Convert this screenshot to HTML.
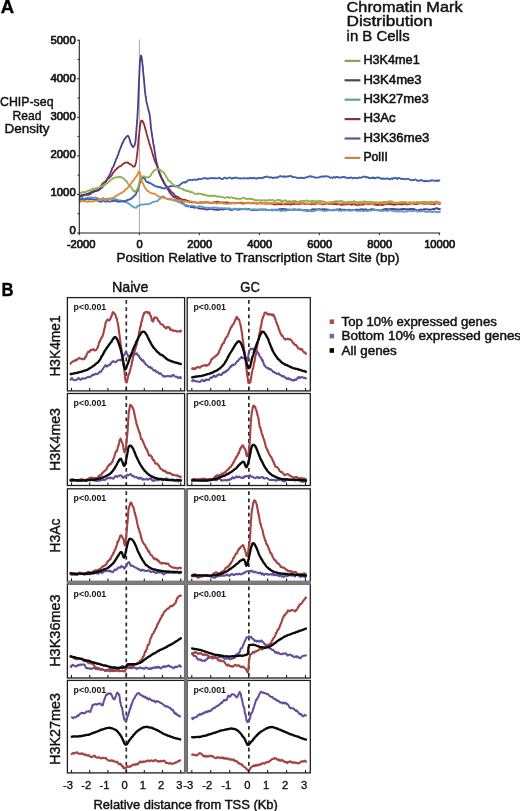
<!DOCTYPE html>
<html><head><meta charset="utf-8"><title>Chromatin marks</title>
<style>
html,body{margin:0;padding:0;background:#fff;}
body{width:520px;height:811px;overflow:hidden;position:relative;font-family:"Liberation Sans",sans-serif;}
</style></head><body>
<svg width="520" height="811" viewBox="0 0 520 811" style="position:absolute;left:0;top:0;filter:blur(0.3px)">
<rect width="520" height="811" fill="#fff"/>
<g font-family="Liberation Sans, sans-serif">
<text x="0.80" y="12.80" font-size="17.60" font-weight="bold" text-anchor="start" fill="#000" textLength="13.4" lengthAdjust="spacingAndGlyphs" stroke="#000" stroke-width="0.35" >A</text>
<text x="1.60" y="296.20" font-size="17.80" font-weight="bold" text-anchor="start" fill="#000" textLength="12.0" lengthAdjust="spacingAndGlyphs" stroke="#000" stroke-width="0.35" >B</text>
<line x1="139.4" y1="39.5" x2="139.4" y2="233" stroke="#a8a8a8" stroke-width="1"/>
<path d="M80.00 196.79 L80.33 196.69 L80.74 196.37 L81.20 196.04 L81.73 196.31 L82.30 195.92 L82.91 195.70 L83.55 195.28 L84.22 195.10 L84.91 194.72 L85.60 194.79 L86.29 194.73 L86.97 194.80 L87.64 194.72 L88.29 194.79 L88.90 194.66 L89.47 194.18 L90.00 194.23 L90.69 193.83 L91.36 193.17 L91.99 192.56 L92.60 192.36 L93.20 191.98 L93.77 191.86 L94.33 191.53 L94.87 191.12 L95.41 190.93 L95.94 191.11 L96.47 190.56 L97.00 190.35 L97.45 190.25 L97.89 189.66 L98.33 189.29 L98.76 189.15 L99.19 188.49 L99.61 188.34 L100.02 188.11 L100.42 187.16 L100.82 186.34 L101.21 186.16 L101.59 185.32 L101.97 184.58 L102.34 183.85 L102.70 183.60 L103.24 182.93 L103.76 182.51 L104.26 182.05 L104.73 182.01 L105.20 181.89 L105.66 181.09 L106.10 180.45 L106.55 180.28 L107.00 179.68 L107.43 179.13 L107.82 178.79 L108.20 178.58 L108.56 178.43 L108.94 178.31 L109.34 177.47 L109.77 177.24 L110.25 176.98 L110.80 176.24 L111.14 175.98 L111.51 175.55 L111.90 175.05 L112.30 174.15 L112.72 173.46 L113.16 172.72 L113.60 172.16 L114.05 171.53 L114.50 171.09 L114.96 170.49 L115.40 169.68 L115.85 169.37 L116.28 169.38 L116.70 168.75 L117.11 168.03 L117.50 168.08 L118.05 167.57 L118.58 167.09 L119.10 166.44 L119.62 166.42 L120.12 166.28 L120.61 166.17 L121.09 165.97 L121.56 165.30 L122.02 164.81 L122.47 164.13 L122.90 164.07 L123.54 163.66 L124.14 163.32 L124.71 162.94 L125.25 162.82 L125.79 162.56 L126.34 162.61 L126.90 162.60 L127.41 162.33 L127.93 162.47 L128.45 163.20 L128.97 163.28 L129.49 164.11 L130.00 164.23 L130.51 164.39 L131.00 164.60 L131.66 165.14 L132.31 165.68 L132.96 166.51 L133.59 166.74 L134.17 166.46 L134.70 166.36 L134.86 166.38 L135.02 165.59 L135.17 164.93 L135.31 164.43 L135.45 163.75 L135.58 163.71 L135.71 163.06 L135.83 162.82 L135.96 162.53 L136.08 161.65 L136.19 160.57 L136.31 160.27 L136.42 159.70 L136.54 158.98 L136.65 158.39 L136.77 157.12 L136.88 156.18 L137.00 155.69 L137.07 154.88 L137.13 154.71 L137.20 154.04 L137.26 153.86 L137.33 153.22 L137.39 152.35 L137.45 152.03 L137.52 151.18 L137.58 150.48 L137.65 149.82 L137.71 149.03 L137.77 148.11 L137.84 147.36 L137.90 146.39 L137.96 145.76 L138.03 145.48 L138.09 144.53 L138.15 143.91 L138.21 142.99 L138.27 142.73 L138.33 141.71 L138.39 141.16 L138.45 140.64 L138.51 139.68 L138.56 138.84 L138.62 138.08 L138.68 137.85 L138.73 137.08 L138.79 136.33 L138.84 136.35 L138.90 136.11 L138.95 136.00 L139.00 135.11 L139.09 134.44 L139.18 133.62 L139.27 133.16 L139.35 132.49 L139.43 131.96 L139.50 131.30 L139.58 130.26 L139.65 129.67 L139.73 128.85 L139.80 128.12 L139.87 127.26 L139.94 126.86 L140.01 126.13 L140.09 125.42 L140.16 124.81 L140.24 124.40 L140.32 124.34 L140.40 124.27 L140.61 122.95 L140.82 121.77 L141.03 121.42 L141.25 120.86 L141.48 120.74 L141.73 120.87 L142.00 120.56 L142.23 120.67 L142.47 120.88 L142.73 121.46 L143.00 122.32 L143.27 122.63 L143.55 123.02 L143.83 123.66 L144.12 124.54 L144.40 125.38 L144.56 125.97 L144.71 126.46 L144.87 127.18 L145.02 128.04 L145.18 128.21 L145.33 128.96 L145.49 129.13 L145.65 129.88 L145.81 130.35 L145.98 130.64 L146.15 131.61 L146.33 132.38 L146.51 133.19 L146.70 133.72 L146.89 134.75 L147.10 135.34 L147.25 136.16 L147.40 136.52 L147.56 136.92 L147.72 137.42 L147.88 138.14 L148.05 139.02 L148.22 139.55 L148.39 139.78 L148.57 140.10 L148.74 140.92 L148.92 141.82 L149.10 142.67 L149.28 143.37 L149.47 144.15 L149.65 144.56 L149.83 144.95 L150.02 145.40 L150.20 145.93 L150.38 146.59 L150.56 146.90 L150.74 147.84 L150.92 148.34 L151.10 148.88 L151.28 149.07 L151.45 149.65 L151.63 149.97 L151.81 150.99 L151.99 151.75 L152.16 152.25 L152.34 152.98 L152.52 153.62 L152.70 153.85 L152.88 154.71 L153.06 155.41 L153.24 156.11 L153.42 156.63 L153.60 157.05 L153.78 157.56 L153.96 157.90 L154.14 158.92 L154.31 159.27 L154.49 160.08 L154.67 160.24 L154.85 160.99 L155.02 161.15 L155.20 161.65 L155.44 162.33 L155.67 162.68 L155.91 163.27 L156.15 163.86 L156.38 164.24 L156.62 165.08 L156.85 165.70 L157.08 166.07 L157.32 166.85 L157.55 167.29 L157.78 167.77 L158.02 168.25 L158.25 169.08 L158.49 169.30 L158.73 170.13 L158.96 170.67 L159.20 171.67 L159.44 172.12 L159.68 173.06 L159.92 173.59 L160.17 174.02 L160.41 174.61 L160.66 175.41 L160.90 175.67 L161.15 176.63 L161.39 177.42 L161.64 177.94 L161.88 178.28 L162.12 179.01 L162.36 179.28 L162.60 179.36 L162.84 179.80 L163.07 180.49 L163.30 180.71 L163.65 181.42 L163.98 182.47 L164.30 183.28 L164.62 184.06 L164.94 184.12 L165.25 184.89 L165.58 185.44 L165.91 185.84 L166.25 186.31 L166.62 186.39 L167.00 186.57 L167.37 187.36 L167.75 187.68 L168.14 187.92 L168.53 188.35 L168.94 188.96 L169.36 189.49 L169.78 189.79 L170.21 190.40 L170.65 191.04 L171.09 191.37 L171.54 192.33 L172.00 192.46 L172.46 192.57 L172.92 193.02 L173.38 193.24 L173.85 194.03 L174.33 194.76 L174.81 195.53 L175.31 195.96 L175.81 196.35 L176.34 196.37 L176.87 196.49 L177.43 196.66 L178.00 196.93 L178.50 197.66 L178.99 197.90 L179.47 198.02 L179.97 198.30 L180.46 198.85 L180.97 198.92 L181.50 199.50 L182.05 199.54 L182.62 199.87 L183.22 199.71 L183.85 199.82 L184.52 199.78 L185.24 199.81 L186.00 200.20 L186.46 200.42 L186.88 200.69 L187.26 201.01 L187.63 201.27 L187.98 200.95 L188.32 200.85 L188.66 201.31 L189.01 201.62 L189.37 201.83 L189.75 201.70 L190.16 202.01 L190.60 201.80 L191.09 201.79 L191.63 202.19 L192.23 202.29 L192.89 202.13 L193.63 202.37 L194.45 202.04 L195.35 202.33 L196.35 202.59 L197.46 202.78 L198.67 202.85 L200.00 202.41 L200.39 202.57 L200.79 202.35 L201.19 202.47 L201.60 202.78 L202.02 202.32 L202.45 202.31 L202.88 202.54 L203.32 202.63 L203.77 202.71 L204.22 202.58 L204.68 202.23 L205.15 202.23 L205.62 202.48 L206.10 202.11 L206.59 202.19 L207.08 202.16 L207.58 202.39 L208.08 202.67 L208.59 202.47 L209.11 202.36 L209.63 202.75 L210.16 203.07 L210.69 202.84 L211.23 202.84 L211.78 203.16 L212.33 202.84 L212.89 202.63 L213.45 202.52 L214.01 202.20 L214.59 201.92 L215.16 202.25 L215.74 202.06 L216.33 201.80 L216.92 201.77 L217.52 201.67 L218.12 201.94 L218.72 202.13 L219.33 202.52 L219.95 202.51 L220.56 202.46 L221.19 202.47 L221.81 202.52 L222.44 202.42 L223.08 202.39 L223.72 202.79 L224.36 202.53 L225.00 202.63 L225.65 202.48 L226.31 202.42 L226.96 202.45 L227.62 202.42 L228.29 202.65 L228.95 203.05 L229.62 203.02 L230.29 203.32 L230.97 203.36 L231.65 203.12 L232.33 203.02 L233.01 203.14 L233.70 203.03 L234.39 203.28 L235.08 203.50 L235.77 203.04 L236.47 203.17 L237.16 202.78 L237.86 203.15 L238.57 203.05 L239.27 202.80 L239.97 202.93 L240.68 203.08 L241.39 203.04 L242.10 203.33 L242.81 203.61 L243.53 203.64 L244.24 203.34 L244.96 202.95 L245.68 203.11 L246.39 203.23 L247.11 202.93 L247.83 202.84 L248.56 202.66 L249.28 202.92 L250.00 203.27 L250.52 203.29 L251.03 203.25 L251.55 203.07 L252.06 202.88 L252.58 202.91 L253.09 203.39 L253.61 203.14 L254.12 202.91 L254.63 203.34 L255.14 203.33 L255.66 203.29 L256.17 203.53 L256.68 203.64 L257.19 203.55 L257.71 203.55 L258.22 203.41 L258.73 203.27 L259.25 202.94 L259.76 203.07 L260.27 202.89 L260.79 203.40 L261.30 203.64 L261.82 203.38 L262.33 203.22 L262.85 203.11 L263.37 203.34 L263.88 203.40 L264.40 203.34 L264.92 203.56 L265.44 203.55 L265.96 203.86 L266.49 203.56 L267.01 203.25 L267.53 203.58 L268.06 203.56 L268.59 203.70 L269.12 203.36 L269.65 203.31 L270.18 203.71 L270.71 203.69 L271.24 203.32 L271.78 203.77 L272.32 203.69 L272.86 203.95 L273.40 204.27 L273.94 204.39 L274.49 204.23 L275.03 204.40 L275.58 204.04 L276.13 204.27 L276.69 204.43 L277.24 204.12 L277.80 203.98 L278.36 204.13 L278.92 203.95 L279.49 203.88 L280.06 204.17 L280.62 204.32 L281.20 204.49 L281.77 204.40 L282.35 203.89 L282.93 203.94 L283.51 204.04 L284.10 204.11 L284.69 204.18 L285.28 204.49 L285.88 204.22 L286.48 204.11 L287.08 204.06 L287.68 203.98 L288.29 204.13 L288.90 203.94 L289.52 204.21 L290.14 204.51 L290.76 204.51 L291.38 204.36 L292.01 204.03 L292.64 203.64 L293.28 203.90 L293.92 204.21 L294.57 203.78 L295.21 203.49 L295.87 203.97 L296.52 203.90 L297.18 203.82 L297.85 204.23 L298.52 204.38 L299.19 203.90 L299.87 203.81 L300.55 203.51 L301.23 203.62 L301.92 203.63 L302.62 203.53 L303.32 203.67 L304.02 203.66 L304.73 204.09 L305.45 204.06 L306.17 203.69 L306.89 203.63 L307.62 203.50 L308.35 203.95 L309.09 203.85 L309.83 203.86 L310.58 204.13 L311.34 204.13 L312.10 204.04 L312.86 203.86 L313.63 203.73 L314.41 203.99 L315.19 204.09 L315.98 203.68 L316.77 203.43 L317.57 203.45 L318.37 203.45 L319.18 203.32 L320.00 203.68 L320.48 203.68 L320.96 203.37 L321.45 203.85 L321.94 204.24 L322.44 204.15 L322.95 204.36 L323.46 204.00 L323.97 204.35 L324.49 203.97 L325.01 204.14 L325.54 203.84 L326.08 203.63 L326.62 203.60 L327.16 203.44 L327.71 203.39 L328.26 203.83 L328.82 203.72 L329.38 203.74 L329.94 203.75 L330.52 203.83 L331.09 203.70 L331.67 203.97 L332.25 203.90 L332.84 204.17 L333.43 204.22 L334.02 204.14 L334.62 203.96 L335.22 204.07 L335.83 204.07 L336.44 204.42 L337.05 203.97 L337.67 203.83 L338.29 203.90 L338.91 204.04 L339.54 204.30 L340.17 204.51 L340.80 204.80 L341.44 204.58 L342.08 204.79 L342.72 204.35 L343.37 204.60 L344.01 204.46 L344.66 204.56 L345.32 204.48 L345.98 204.24 L346.63 204.14 L347.30 204.25 L347.96 204.04 L348.63 203.90 L349.30 203.83 L349.97 204.26 L350.64 204.37 L351.32 204.62 L352.00 204.76 L352.68 204.33 L353.36 204.01 L354.04 204.15 L354.73 204.44 L355.42 204.57 L356.10 204.76 L356.80 205.00 L357.49 204.97 L358.18 204.88 L358.88 204.83 L359.58 204.96 L360.27 204.62 L360.97 204.33 L361.68 204.50 L362.38 204.55 L363.08 204.65 L363.78 204.26 L364.49 204.06 L365.20 203.71 L365.90 203.58 L366.61 203.61 L367.32 203.92 L368.03 204.09 L368.74 204.43 L369.45 204.18 L370.16 204.03 L370.87 204.12 L371.58 203.74 L372.29 203.91 L373.01 204.13 L373.72 204.44 L374.43 204.56 L375.14 204.44 L375.86 204.68 L376.57 204.89 L377.28 204.97 L377.99 205.19 L378.70 204.88 L379.41 204.47 L380.12 204.66 L380.83 204.59 L381.54 204.83 L382.25 204.91 L382.96 205.05 L383.67 204.86 L384.38 204.33 L385.08 204.09 L385.79 204.23 L386.49 204.15 L387.19 204.09 L387.89 204.17 L388.59 203.96 L389.29 203.84 L389.99 203.86 L390.69 204.15 L391.38 204.27 L392.08 204.30 L392.77 204.34 L393.46 204.65 L394.15 204.93 L394.83 204.75 L395.52 204.42 L396.20 204.17 L396.88 204.01 L397.56 204.21 L398.24 204.21 L398.91 204.35 L399.59 204.07 L400.26 204.07 L400.93 204.43 L401.59 204.64 L402.26 204.49 L402.92 204.17 L403.57 203.86 L404.23 203.64 L404.88 203.74 L405.53 204.16 L406.18 204.42 L406.82 204.37 L407.46 204.46 L408.10 204.29 L408.74 204.34 L409.37 203.97 L410.00 203.80 L410.62 203.59 L411.25 203.46 L411.86 203.39 L412.48 203.59 L413.09 203.55 L413.70 204.03 L414.30 204.10 L414.90 204.10 L415.50 204.04 L416.09 204.13 L416.68 204.23 L417.27 203.86 L417.85 203.63 L418.42 203.63 L419.00 203.48 L419.56 203.52 L420.13 203.29 L420.69 203.21 L421.24 203.03 L421.79 203.52 L422.34 203.46 L422.88 203.77 L423.42 203.55 L423.95 203.62 L424.48 203.74 L425.00 203.75 L425.51 203.49 L426.03 203.63 L426.53 203.40 L427.04 203.44 L427.53 203.71 L428.02 203.55 L428.51 203.65 L428.99 203.47 L429.47 203.62 L429.94 203.97 L430.40 203.85 L430.86 204.05 L431.31 204.04 L431.76 203.80 L432.20 203.59 L432.63 203.60 L433.06 204.03 L433.49 203.97 L433.90 203.91 L434.32 203.74 L434.72 204.12 L435.12 204.01 L435.51 203.66 L435.90 203.42 L436.28 203.19 L436.65 203.15 L437.01 203.19 L437.37 203.21 L437.73 203.02 L438.07 203.31 L438.41 203.57 L438.74 203.89 L439.07 203.63 L439.39 204.08 L439.70 203.82 L440.00 203.56" fill="none" stroke="#8e2c2f" stroke-width="1.8" stroke-linejoin="round" stroke-linecap="round"/>
<path d="M80.00 195.62 L80.36 195.84 L80.80 195.57 L81.32 195.17 L81.90 195.27 L82.54 195.31 L83.21 194.80 L83.92 194.59 L84.63 194.91 L85.35 194.35 L86.06 194.47 L86.74 194.00 L87.40 193.75 L88.00 193.60 L88.62 193.17 L89.24 193.42 L89.84 193.05 L90.44 192.61 L91.04 192.17 L91.62 191.89 L92.20 191.56 L92.78 191.62 L93.34 191.29 L93.90 190.78 L94.45 191.09 L95.00 191.15 L95.59 191.24 L96.19 190.91 L96.78 190.72 L97.36 190.53 L97.94 190.48 L98.50 190.42 L99.04 189.95 L99.57 189.57 L100.07 188.97 L100.55 188.62 L101.00 188.50 L101.56 188.19 L102.05 187.64 L102.50 186.81 L102.91 186.59 L103.30 185.92 L103.68 185.73 L104.08 184.94 L104.50 184.50 L104.77 184.21 L105.03 183.78 L105.30 183.26 L105.56 182.44 L105.82 181.59 L106.09 181.20 L106.35 180.68 L106.62 180.58 L106.89 180.14 L107.16 179.47 L107.43 178.45 L107.71 178.03 L108.00 177.43 L108.25 176.93 L108.51 176.75 L108.76 176.42 L109.03 176.02 L109.29 175.39 L109.55 175.00 L109.82 174.64 L110.09 174.26 L110.36 173.41 L110.63 172.64 L110.91 171.55 L111.18 171.28 L111.45 170.36 L111.73 169.86 L112.00 168.84 L112.24 168.06 L112.49 167.70 L112.73 167.58 L112.98 167.38 L113.23 167.03 L113.48 166.21 L113.73 165.85 L113.98 165.18 L114.22 164.42 L114.47 164.00 L114.72 163.09 L114.97 162.27 L115.22 161.90 L115.47 161.08 L115.71 160.60 L115.96 159.72 L116.20 158.96 L116.42 158.67 L116.63 158.48 L116.85 157.94 L117.07 157.67 L117.28 156.73 L117.50 156.07 L117.71 155.74 L117.93 154.95 L118.14 154.50 L118.36 154.06 L118.57 153.50 L118.78 152.51 L118.99 151.83 L119.20 151.26 L119.40 150.84 L119.60 149.89 L119.81 149.67 L120.00 149.30 L120.20 149.13 L120.48 148.03 L120.76 147.33 L121.03 146.72 L121.29 146.31 L121.56 145.33 L121.82 144.57 L122.07 143.88 L122.33 143.60 L122.58 142.76 L122.83 142.26 L123.09 142.20 L123.34 141.31 L123.60 140.95 L123.98 140.01 L124.37 139.59 L124.76 138.71 L125.14 138.44 L125.53 138.05 L125.90 137.37 L126.26 136.96 L126.59 136.47 L126.90 136.21 L127.64 135.90 L128.23 135.86 L128.90 137.07 L129.09 137.52 L129.28 138.39 L129.49 139.12 L129.70 139.57 L129.92 140.50 L130.14 140.97 L130.36 141.96 L130.58 142.85 L130.80 143.39 L131.01 144.03 L131.22 144.29 L131.41 144.90 L131.60 144.96 L132.16 146.09 L132.66 146.85 L133.14 146.98 L133.60 146.54 L133.83 146.49 L134.06 146.16 L134.29 145.72 L134.51 145.15 L134.73 144.73 L134.93 144.22 L135.12 143.20 L135.30 142.42 L135.38 141.49 L135.45 141.27 L135.51 140.51 L135.57 140.34 L135.63 140.11 L135.69 139.29 L135.74 138.28 L135.79 138.06 L135.84 137.69 L135.89 136.95 L135.95 136.00 L136.00 135.00 L136.05 134.58 L136.11 133.42 L136.17 132.60 L136.23 132.16 L136.30 131.51 L136.34 130.85 L136.38 130.47 L136.42 129.81 L136.46 129.64 L136.50 129.02 L136.54 128.74 L136.59 127.81 L136.63 127.39 L136.67 126.83 L136.72 126.35 L136.76 125.58 L136.81 124.83 L136.85 124.39 L136.90 123.86 L136.95 123.06 L136.99 122.42 L137.04 122.03 L137.09 121.60 L137.13 120.57 L137.18 120.27 L137.23 119.61 L137.27 119.06 L137.32 117.97 L137.36 117.15 L137.41 116.63 L137.45 115.60 L137.49 115.29 L137.54 114.37 L137.58 113.88 L137.62 112.98 L137.66 112.24 L137.70 111.53 L137.73 110.98 L137.76 110.21 L137.79 109.92 L137.81 109.12 L137.84 108.41 L137.87 108.26 L137.90 107.87 L137.92 107.07 L137.95 106.28 L137.98 105.64 L138.01 105.26 L138.03 104.94 L138.06 104.64 L138.08 103.94 L138.11 103.18 L138.14 102.48 L138.16 101.51 L138.19 101.30 L138.21 100.80 L138.24 100.37 L138.26 99.36 L138.29 99.01 L138.31 98.62 L138.34 97.91 L138.36 96.99 L138.39 96.06 L138.41 95.10 L138.44 94.38 L138.46 93.95 L138.48 93.32 L138.51 92.73 L138.53 92.15 L138.56 91.95 L138.58 91.51 L138.61 90.51 L138.63 89.82 L138.65 89.13 L138.68 88.40 L138.70 88.17 L138.73 87.75 L138.75 87.39 L138.78 86.71 L138.80 86.17 L138.83 85.74 L138.86 84.85 L138.89 84.38 L138.92 83.79 L138.95 82.70 L138.98 82.08 L139.00 81.31 L139.03 81.00 L139.06 80.21 L139.09 79.36 L139.12 79.02 L139.15 78.68 L139.17 78.27 L139.20 77.71 L139.23 76.54 L139.26 76.11 L139.29 75.48 L139.31 75.03 L139.34 74.53 L139.37 73.60 L139.40 73.16 L139.43 72.63 L139.45 71.73 L139.48 71.15 L139.51 70.38 L139.54 69.93 L139.57 69.20 L139.60 68.29 L139.62 67.75 L139.65 67.56 L139.68 66.87 L139.71 65.99 L139.74 65.64 L139.77 64.87 L139.80 64.40 L139.87 63.15 L139.95 62.26 L140.02 61.40 L140.10 60.61 L140.17 59.90 L140.25 59.31 L140.33 58.81 L140.40 58.41 L140.48 58.14 L140.56 57.79 L140.64 57.01 L140.73 57.00 L140.81 56.34 L140.90 55.82 L141.01 55.55 L141.13 55.83 L141.25 55.96 L141.37 56.26 L141.50 56.61 L141.63 57.56 L141.76 58.34 L141.89 59.16 L142.02 60.36 L142.16 61.15 L142.30 62.36 L142.35 63.16 L142.41 63.56 L142.46 64.47 L142.52 64.74 L142.57 64.95 L142.63 65.30 L142.69 66.24 L142.74 66.99 L142.80 67.44 L142.86 67.87 L142.92 68.94 L142.98 69.21 L143.04 70.18 L143.10 70.58 L143.15 71.41 L143.21 72.32 L143.27 72.79 L143.33 73.29 L143.39 73.96 L143.46 74.61 L143.52 75.53 L143.58 75.77 L143.64 76.23 L143.70 77.00 L143.76 77.72 L143.82 78.30 L143.88 78.58 L143.94 79.61 L144.00 80.21 L144.06 81.00 L144.13 81.86 L144.19 82.13 L144.25 82.84 L144.32 83.87 L144.38 84.35 L144.45 84.76 L144.51 85.65 L144.57 86.69 L144.64 87.49 L144.70 88.10 L144.77 88.72 L144.83 89.63 L144.90 90.30 L144.97 91.13 L145.03 91.77 L145.10 91.88 L145.16 92.71 L145.23 92.85 L145.29 93.80 L145.35 94.25 L145.42 94.68 L145.48 95.44 L145.55 95.78 L145.61 95.91 L145.67 96.19 L145.74 96.74 L145.80 97.01 L145.93 97.86 L146.06 98.71 L146.19 99.87 L146.31 100.95 L146.43 101.87 L146.56 102.28 L146.68 102.63 L146.81 102.86 L146.94 103.62 L147.07 103.82 L147.21 104.32 L147.35 105.23 L147.50 105.89 L147.64 106.45 L147.78 107.23 L147.94 107.84 L148.10 108.47 L148.26 109.04 L148.42 109.73 L148.59 110.58 L148.76 111.22 L148.92 111.47 L149.09 111.97 L149.24 112.68 L149.39 113.58 L149.54 114.44 L149.67 115.32 L149.80 115.72 L149.88 116.42 L149.95 116.73 L150.02 117.17 L150.08 117.80 L150.14 118.16 L150.19 118.38 L150.24 119.15 L150.29 119.79 L150.33 120.12 L150.38 120.60 L150.43 121.27 L150.47 121.76 L150.52 122.64 L150.57 122.87 L150.62 123.56 L150.67 124.45 L150.73 124.84 L150.79 125.27 L150.86 126.44 L150.93 127.40 L151.01 128.26 L151.10 129.00 L151.17 129.05 L151.24 129.26 L151.32 130.12 L151.40 130.83 L151.48 131.52 L151.57 132.20 L151.65 132.42 L151.74 133.09 L151.83 133.48 L151.93 134.48 L152.02 135.14 L152.12 135.43 L152.21 136.43 L152.31 136.88 L152.41 137.31 L152.51 138.00 L152.61 138.49 L152.71 139.21 L152.81 139.85 L152.92 140.31 L153.02 141.27 L153.12 142.22 L153.22 143.14 L153.32 143.83 L153.42 144.17 L153.51 144.40 L153.61 145.21 L153.71 145.39 L153.80 145.59 L153.90 146.05 L154.00 146.84 L154.10 147.21 L154.19 148.32 L154.29 148.63 L154.39 149.08 L154.48 149.85 L154.58 150.92 L154.67 151.41 L154.77 152.18 L154.87 153.06 L154.96 153.58 L155.06 153.75 L155.15 154.17 L155.25 155.07 L155.35 155.34 L155.45 155.89 L155.55 156.89 L155.65 157.63 L155.75 157.86 L155.85 158.63 L155.96 159.32 L156.06 159.73 L156.17 160.27 L156.28 160.83 L156.39 161.57 L156.50 161.76 L156.65 162.70 L156.79 163.08 L156.94 163.55 L157.08 164.48 L157.23 164.75 L157.38 165.76 L157.53 166.23 L157.69 166.80 L157.84 167.67 L158.00 167.90 L158.15 168.91 L158.32 169.69 L158.48 170.53 L158.64 171.35 L158.81 171.85 L158.99 172.62 L159.16 172.83 L159.34 173.01 L159.52 173.62 L159.71 174.33 L159.90 174.34 L160.14 175.23 L160.40 176.01 L160.66 176.45 L160.94 177.15 L161.21 177.34 L161.50 178.10 L161.79 178.84 L162.08 179.61 L162.37 179.76 L162.66 180.44 L162.96 181.14 L163.24 181.84 L163.53 182.18 L163.81 182.54 L164.08 182.89 L164.34 183.07 L164.60 183.71 L164.95 184.50 L165.29 185.11 L165.62 185.27 L165.94 185.91 L166.26 186.21 L166.57 187.05 L166.88 187.33 L167.18 187.85 L167.49 188.38 L167.79 189.06 L168.09 189.68 L168.40 190.12 L168.76 190.83 L169.11 191.57 L169.45 192.13 L169.79 192.48 L170.12 193.03 L170.47 193.51 L170.82 193.91 L171.19 194.27 L171.58 195.03 L172.00 195.21 L172.43 195.70 L172.85 196.35 L173.27 196.87 L173.71 196.96 L174.16 197.48 L174.64 197.43 L175.16 197.39 L175.72 197.62 L176.33 198.07 L177.00 198.68 L177.40 199.17 L177.81 199.14 L178.25 199.19 L178.69 199.96 L179.15 199.98 L179.63 200.44 L180.12 200.56 L180.62 200.89 L181.12 201.61 L181.64 202.10 L182.17 202.85 L182.70 203.35 L183.24 203.46 L183.79 203.96 L184.34 204.55 L184.89 205.17 L185.44 205.75 L186.00 206.06 L186.51 206.23 L186.99 205.94 L187.46 206.00 L187.90 206.48 L188.34 206.28 L188.78 206.18 L189.22 206.30 L189.67 206.30 L190.13 206.26 L190.62 206.91 L191.14 207.27 L191.69 207.05 L192.28 206.94 L192.91 207.05 L193.60 207.59 L194.35 207.71 L195.16 207.53 L196.04 207.60 L197.00 207.53 L197.42 207.42 L197.83 207.66 L198.23 208.04 L198.63 208.50 L199.03 208.27 L199.42 208.32 L199.81 208.38 L200.20 208.66 L200.59 208.54 L200.98 208.52 L201.38 208.69 L201.78 208.68 L202.18 208.43 L202.59 208.35 L203.00 208.77 L203.42 208.80 L203.85 208.78 L204.30 208.84 L204.75 209.25 L205.21 209.46 L205.69 208.98 L206.19 209.22 L206.69 209.47 L207.22 209.58 L207.76 209.68 L208.32 209.21 L208.90 208.93 L209.51 209.10 L210.13 208.74 L210.78 208.90 L211.45 209.01 L212.15 208.99 L212.87 209.29 L213.62 209.35 L214.40 209.60 L215.21 209.66 L216.05 209.57 L216.92 209.78 L217.82 209.89 L218.76 209.95 L219.73 209.64 L220.74 209.22 L221.79 209.41 L222.88 209.71 L224.00 209.38 L224.41 209.01 L224.83 208.86 L225.26 208.85 L225.69 209.09 L226.12 208.84 L226.57 208.78 L227.02 208.74 L227.47 208.89 L227.93 208.64 L228.40 209.01 L228.87 209.33 L229.35 209.47 L229.84 209.83 L230.33 209.95 L230.82 209.64 L231.32 210.01 L231.83 210.30 L232.34 209.84 L232.85 209.50 L233.37 209.19 L233.90 208.89 L234.43 209.27 L234.97 209.46 L235.51 209.38 L236.05 209.34 L236.60 209.31 L237.15 209.23 L237.71 209.64 L238.27 209.77 L238.84 209.61 L239.41 209.53 L239.98 209.25 L240.56 209.35 L241.14 209.09 L241.73 208.90 L242.32 208.99 L242.91 208.94 L243.51 209.01 L244.11 209.15 L244.71 209.29 L245.32 209.21 L245.93 209.07 L246.54 209.25 L247.15 209.57 L247.77 209.24 L248.39 208.93 L249.02 208.81 L249.65 209.25 L250.27 209.61 L250.91 209.76 L251.54 209.98 L252.18 210.28 L252.82 209.76 L253.46 209.82 L254.10 209.84 L254.75 210.00 L255.39 209.98 L256.04 210.02 L256.69 210.17 L257.35 210.15 L258.00 209.98 L258.66 209.86 L259.31 209.67 L259.97 209.72 L260.63 209.49 L261.29 209.68 L261.95 209.68 L262.62 209.36 L263.28 209.64 L263.95 209.59 L264.61 209.70 L265.28 209.34 L265.94 209.52 L266.61 209.81 L267.28 210.12 L267.95 210.05 L268.62 210.21 L269.28 210.20 L269.95 210.11 L270.62 210.04 L271.29 209.85 L271.96 209.47 L272.63 209.86 L273.30 209.96 L273.96 209.77 L274.63 209.84 L275.30 209.87 L275.96 209.92 L276.63 210.26 L277.29 209.84 L277.96 209.69 L278.62 209.34 L279.28 209.24 L279.94 209.07 L280.60 209.20 L281.26 209.07 L281.92 208.95 L282.57 208.79 L283.23 208.98 L283.88 209.14 L284.53 209.04 L285.18 209.54 L285.83 209.37 L286.47 209.27 L287.11 209.75 L287.75 209.58 L288.39 209.84 L289.03 209.75 L289.66 209.52 L290.29 209.59 L290.92 209.98 L291.55 209.73 L292.17 209.75 L292.79 209.43 L293.41 209.75 L294.03 209.39 L294.64 209.66 L295.25 209.37 L295.86 209.52 L296.46 209.74 L297.06 209.89 L297.65 209.55 L298.24 209.43 L298.83 209.24 L299.42 209.53 L300.00 209.97 L300.63 210.27 L301.26 210.05 L301.88 209.84 L302.51 210.21 L303.14 210.29 L303.76 210.08 L304.38 209.97 L305.01 210.21 L305.63 210.38 L306.25 210.40 L306.87 209.98 L307.49 210.18 L308.11 210.37 L308.73 210.42 L309.35 210.70 L309.96 210.70 L310.58 210.31 L311.19 209.96 L311.81 209.67 L312.42 209.38 L313.04 209.33 L313.65 209.24 L314.26 209.34 L314.87 209.53 L315.48 209.21 L316.09 209.60 L316.70 209.42 L317.31 209.50 L317.92 209.32 L318.53 209.24 L319.14 209.07 L319.74 208.92 L320.35 209.29 L320.96 209.72 L321.56 209.69 L322.17 209.38 L322.77 209.15 L323.38 209.44 L323.98 209.41 L324.58 209.10 L325.18 209.51 L325.79 209.55 L326.39 209.79 L326.99 209.50 L327.59 209.50 L328.19 209.70 L328.79 209.54 L329.39 209.88 L329.99 209.99 L330.59 210.29 L331.19 210.24 L331.79 210.14 L332.39 210.29 L332.99 210.36 L333.58 210.37 L334.18 210.13 L334.78 209.98 L335.38 209.89 L335.97 209.56 L336.57 209.38 L337.16 209.39 L337.76 209.63 L338.36 209.52 L338.95 209.31 L339.55 209.17 L340.14 209.05 L340.74 209.61 L341.34 209.54 L341.93 209.95 L342.53 209.65 L343.12 209.72 L343.72 209.54 L344.31 209.82 L344.91 209.73 L345.50 209.78 L346.10 210.12 L346.69 210.29 L347.29 209.81 L347.88 209.84 L348.48 209.78 L349.07 209.69 L349.66 209.86 L350.26 210.26 L350.85 210.41 L351.45 210.14 L352.05 210.24 L352.64 209.81 L353.24 210.15 L353.83 209.81 L354.43 210.12 L355.02 209.97 L355.62 209.68 L356.22 209.50 L356.81 209.82 L357.41 209.91 L358.00 209.72 L358.60 209.88 L359.20 209.77 L359.80 209.59 L360.39 209.25 L360.99 209.43 L361.59 209.51 L362.19 209.43 L362.79 209.16 L363.39 209.64 L363.99 209.77 L364.59 209.56 L365.19 209.22 L365.79 209.52 L366.39 209.39 L366.99 209.83 L367.59 210.13 L368.19 210.04 L368.79 210.32 L369.40 209.91 L370.00 209.65 L370.61 209.43 L371.22 209.32 L371.83 209.07 L372.45 209.37 L373.08 209.61 L373.71 209.34 L374.34 209.49 L374.98 209.78 L375.63 209.79 L376.27 209.81 L376.92 210.12 L377.58 210.31 L378.24 210.42 L378.90 210.47 L379.56 210.46 L380.23 210.30 L380.90 210.42 L381.57 210.25 L382.25 210.17 L382.93 209.75 L383.61 209.36 L384.30 209.20 L384.98 209.16 L385.67 208.95 L386.36 208.79 L387.05 209.20 L387.75 209.26 L388.44 209.55 L389.14 209.23 L389.84 209.19 L390.54 209.09 L391.24 208.96 L391.94 209.02 L392.64 208.85 L393.35 208.75 L394.05 209.17 L394.75 209.30 L395.46 209.13 L396.16 209.33 L396.86 209.27 L397.57 209.57 L398.27 209.61 L398.97 209.22 L399.68 209.54 L400.38 209.35 L401.08 209.08 L401.78 209.00 L402.48 209.36 L403.18 209.00 L403.87 208.96 L404.57 209.12 L405.26 208.96 L405.95 209.26 L406.64 209.54 L407.33 209.13 L408.01 209.09 L408.69 209.46 L409.38 209.20 L410.05 208.93 L410.73 209.20 L411.40 208.87 L412.07 209.19 L412.73 209.05 L413.40 208.97 L414.06 209.00 L414.71 209.37 L415.36 209.65 L416.01 209.93 L416.66 210.17 L417.30 210.31 L417.93 210.38 L418.56 209.98 L419.19 209.86 L419.81 210.01 L420.43 209.56 L421.04 209.38 L421.65 209.64 L422.25 209.84 L422.85 209.68 L423.44 209.48 L424.03 209.10 L424.61 209.45 L425.18 209.59 L425.75 209.15 L426.32 209.19 L426.87 209.27 L427.42 209.39 L427.97 209.62 L428.50 209.59 L429.03 209.36 L429.56 209.64 L430.07 209.81 L430.58 209.88 L431.08 209.39 L431.58 209.44 L432.06 209.30 L432.54 209.21 L433.01 208.95 L433.48 209.30 L433.93 209.26 L434.38 208.96 L434.82 208.81 L435.25 208.50 L435.67 208.30 L436.08 208.44 L436.48 208.22 L436.88 208.02 L437.26 208.33 L437.64 208.82 L438.01 209.08 L438.36 209.01 L438.71 208.69 L439.05 209.07 L439.38 209.26 L439.69 209.05 L440.00 209.01" fill="none" stroke="#4e3c88" stroke-width="1.8" stroke-linejoin="round" stroke-linecap="round"/>
<path d="M80.00 198.41 L80.32 198.86 L80.68 198.96 L81.08 198.47 L81.51 198.51 L81.98 198.19 L82.47 197.82 L83.00 198.23 L83.55 198.70 L84.12 198.66 L84.72 198.72 L85.33 198.32 L85.97 197.95 L86.62 197.83 L87.29 197.54 L87.96 197.94 L88.65 197.70 L89.35 197.79 L90.05 197.48 L90.76 197.36 L91.47 197.39 L92.18 197.57 L92.89 197.52 L93.59 197.71 L94.29 197.91 L94.98 197.67 L95.67 197.84 L96.34 197.56 L96.99 197.84 L97.63 198.21 L98.26 198.62 L98.86 198.90 L99.44 198.86 L100.00 199.16 L100.69 199.19 L101.38 199.18 L102.06 198.64 L102.74 198.20 L103.42 198.05 L104.09 198.50 L104.75 198.88 L105.41 199.13 L106.07 199.03 L106.72 198.69 L107.36 198.60 L108.00 199.04 L108.62 198.78 L109.25 199.15 L109.86 199.22 L110.47 199.22 L111.06 198.99 L111.65 198.82 L112.23 198.68 L112.80 199.10 L113.36 198.74 L113.91 198.77 L114.45 199.07 L114.98 198.98 L115.49 198.83 L116.00 199.48 L116.75 199.43 L117.46 200.02 L118.14 200.15 L118.79 200.42 L119.42 200.36 L120.03 200.50 L120.61 200.52 L121.18 200.94 L121.73 200.67 L122.27 200.75 L122.81 201.10 L123.34 201.63 L123.86 201.36 L124.39 201.98 L124.92 201.76 L125.46 201.83 L126.00 202.02 L126.55 202.06 L127.11 202.80 L127.66 202.77 L128.22 203.10 L128.77 203.54 L129.32 204.25 L129.87 204.26 L130.41 204.83 L130.94 205.62 L131.46 205.54 L131.97 205.89 L132.47 206.71 L132.95 206.64 L133.41 206.79 L133.86 207.16 L134.29 207.59 L134.70 207.75 L135.38 207.54 L135.94 207.78 L136.41 207.74 L136.84 207.01 L137.26 206.53 L137.70 205.73 L138.19 205.82 L138.78 205.73 L139.50 205.50 L139.96 205.31 L140.46 204.73 L140.99 204.50 L141.54 204.22 L142.11 204.30 L142.71 204.49 L143.31 204.53 L143.94 204.55 L144.57 204.44 L145.21 204.21 L145.85 204.17 L146.49 204.06 L147.13 204.16 L147.77 204.28 L148.39 204.30 L149.00 203.95 L149.58 203.80 L150.17 203.50 L150.78 203.24 L151.40 202.86 L152.03 202.36 L152.66 201.96 L153.29 202.04 L153.92 201.87 L154.54 201.75 L155.15 201.44 L155.74 201.40 L156.32 201.43 L156.87 201.41 L157.40 201.08 L157.90 200.73 L158.37 200.21 L158.80 199.52 L159.59 198.69 L160.23 198.55 L160.75 198.50 L161.20 197.66 L161.61 197.02 L162.03 196.55 L162.48 196.82 L163.00 196.54 L163.49 196.85 L163.96 196.59 L164.42 197.31 L164.89 197.48 L165.39 197.95 L165.93 198.42 L166.54 198.52 L167.22 198.77 L168.00 199.38 L168.46 199.30 L168.96 199.57 L169.49 199.28 L170.05 199.11 L170.64 199.37 L171.24 199.96 L171.86 199.87 L172.49 199.78 L173.13 200.28 L173.78 200.24 L174.42 200.67 L175.05 200.77 L175.68 200.69 L176.29 200.98 L176.88 201.05 L177.46 201.53 L178.00 202.11 L178.63 202.15 L179.22 202.38 L179.79 202.44 L180.34 202.51 L180.88 203.17 L181.41 203.40 L181.94 203.57 L182.47 203.92 L183.00 204.22 L183.55 204.10 L184.12 204.19 L184.72 204.69 L185.34 205.12 L186.00 205.34 L186.51 204.88 L187.00 205.33 L187.48 205.42 L187.94 205.85 L188.40 205.51 L188.86 205.71 L189.33 206.10 L189.82 205.86 L190.33 205.85 L190.86 205.55 L191.44 205.91 L192.05 205.61 L192.72 205.81 L193.44 206.00 L194.22 205.90 L195.07 206.49 L195.99 207.03 L197.00 206.85 L197.44 206.98 L197.88 206.68 L198.34 206.38 L198.81 206.34 L199.29 206.19 L199.78 206.29 L200.27 206.41 L200.78 206.23 L201.30 206.56 L201.83 206.90 L202.37 207.09 L202.92 207.31 L203.47 207.16 L204.03 207.26 L204.61 207.23 L205.19 207.75 L205.77 207.84 L206.37 207.73 L206.97 207.55 L207.58 207.97 L208.20 207.99 L208.82 207.56 L209.46 207.56 L210.09 207.78 L210.74 208.07 L211.38 207.96 L212.04 208.07 L212.70 207.71 L213.36 207.76 L214.03 207.45 L214.71 207.44 L215.39 207.73 L216.07 207.52 L216.76 207.99 L217.45 208.17 L218.14 208.01 L218.84 208.51 L219.54 208.16 L220.24 208.33 L220.95 208.21 L221.66 208.06 L222.37 207.93 L223.08 208.30 L223.80 208.51 L224.33 208.23 L224.86 208.14 L225.39 208.58 L225.93 208.46 L226.48 208.46 L227.02 208.72 L227.57 208.71 L228.13 208.65 L228.68 208.60 L229.25 208.21 L229.81 208.33 L230.38 208.88 L230.95 208.97 L231.52 209.34 L232.10 209.55 L232.68 209.29 L233.26 209.32 L233.85 208.99 L234.44 208.62 L235.03 208.45 L235.62 208.80 L236.22 209.12 L236.82 209.45 L237.42 209.08 L238.02 208.87 L238.63 208.80 L239.24 208.62 L239.85 208.52 L240.46 208.93 L241.08 209.20 L241.69 209.60 L242.31 209.11 L242.93 209.09 L243.55 208.77 L244.17 209.17 L244.80 208.92 L245.42 208.73 L246.05 208.47 L246.67 208.80 L247.30 209.23 L247.93 209.35 L248.56 209.48 L249.20 209.25 L249.83 209.20 L250.46 209.34 L251.10 209.59 L251.73 209.72 L252.37 209.42 L253.00 209.34 L253.64 209.20 L254.27 209.19 L254.91 209.51 L255.55 209.44 L256.18 209.49 L256.82 209.59 L257.46 209.64 L258.09 209.39 L258.73 209.78 L259.36 209.57 L260.00 209.48 L260.57 209.18 L261.14 209.58 L261.71 209.74 L262.27 209.43 L262.83 209.61 L263.38 209.84 L263.93 209.68 L264.48 209.36 L265.02 209.80 L265.56 210.14 L266.10 210.12 L266.64 210.38 L267.17 210.29 L267.70 209.73 L268.23 209.97 L268.76 210.06 L269.29 210.23 L269.82 210.35 L270.35 209.97 L270.88 209.94 L271.41 210.09 L271.94 210.36 L272.47 210.64 L273.00 210.03 L273.54 209.77 L274.07 209.62 L274.61 209.97 L275.15 209.67 L275.69 209.65 L276.23 209.30 L276.78 209.83 L277.33 210.02 L277.89 210.24 L278.45 210.55 L279.01 210.22 L279.58 210.26 L280.15 210.59 L280.72 210.87 L281.31 211.10 L281.89 210.61 L282.49 210.75 L283.09 210.56 L283.69 210.71 L284.30 210.42 L284.92 210.72 L285.55 210.90 L286.18 210.51 L286.82 210.63 L287.47 210.04 L288.13 209.98 L288.80 209.71 L289.47 209.35 L290.16 209.72 L290.85 209.76 L291.55 209.89 L292.27 210.20 L292.99 209.91 L293.72 209.66 L294.47 210.14 L295.22 209.90 L295.99 210.24 L296.77 210.06 L297.56 209.88 L298.36 209.81 L299.17 210.02 L300.00 209.88 L300.48 209.50 L300.96 209.64 L301.44 209.57 L301.93 209.44 L302.43 209.93 L302.92 210.37 L303.42 210.42 L303.93 210.60 L304.44 210.53 L304.95 210.54 L305.47 210.61 L305.99 210.83 L306.52 211.10 L307.05 211.10 L307.58 211.34 L308.12 210.94 L308.66 211.22 L309.20 211.06 L309.75 210.88 L310.30 211.00 L310.85 211.26 L311.41 211.08 L311.97 211.29 L312.53 211.37 L313.10 211.34 L313.67 210.93 L314.24 210.70 L314.81 210.76 L315.39 210.49 L315.97 210.49 L316.55 210.38 L317.14 210.10 L317.73 209.76 L318.32 209.96 L318.91 209.76 L319.51 209.76 L320.11 210.18 L320.71 209.98 L321.31 210.23 L321.92 210.58 L322.53 210.75 L323.13 210.77 L323.75 210.74 L324.36 210.82 L324.98 210.95 L325.59 210.80 L326.21 210.83 L326.83 210.56 L327.46 210.72 L328.08 210.57 L328.71 210.20 L329.33 209.98 L329.96 210.03 L330.59 209.84 L331.22 209.79 L331.86 209.99 L332.49 210.08 L333.12 209.80 L333.76 209.63 L334.40 209.59 L335.04 209.78 L335.68 209.78 L336.32 209.84 L336.96 209.73 L337.60 210.11 L338.24 210.47 L338.89 210.75 L339.53 210.77 L340.17 210.48 L340.82 210.75 L341.46 211.00 L342.11 210.54 L342.75 210.23 L343.40 210.51 L344.05 210.35 L344.69 210.77 L345.34 210.37 L345.99 210.09 L346.63 210.22 L347.28 210.03 L347.93 210.30 L348.57 210.71 L349.22 210.63 L349.86 210.74 L350.51 210.65 L351.15 210.21 L351.80 210.58 L352.44 210.30 L353.08 210.23 L353.73 209.92 L354.37 210.05 L355.01 210.41 L355.65 210.77 L356.29 210.53 L356.92 210.88 L357.56 210.86 L358.20 210.82 L358.83 211.08 L359.47 210.71 L360.10 210.53 L360.73 210.82 L361.36 210.43 L361.99 210.57 L362.61 211.05 L363.24 211.27 L363.86 210.80 L364.49 210.83 L365.11 210.64 L365.72 210.95 L366.34 210.63 L366.96 210.82 L367.57 211.06 L368.18 211.12 L368.79 210.76 L369.40 210.42 L370.00 210.28 L370.61 210.51 L371.22 210.74 L371.83 210.53 L372.45 210.25 L373.08 210.09 L373.71 209.99 L374.34 209.73 L374.98 209.59 L375.63 209.77 L376.27 209.69 L376.92 210.18 L377.58 210.13 L378.24 210.32 L378.90 210.07 L379.56 210.23 L380.23 210.82 L380.90 210.59 L381.57 210.64 L382.25 211.02 L382.93 210.72 L383.61 210.75 L384.30 210.36 L384.98 210.31 L385.67 210.80 L386.36 210.52 L387.05 211.06 L387.75 210.87 L388.44 210.67 L389.14 210.47 L389.84 210.30 L390.54 210.29 L391.24 210.61 L391.94 210.39 L392.64 210.93 L393.35 211.06 L394.05 211.42 L394.75 211.00 L395.46 211.19 L396.16 211.61 L396.86 211.15 L397.57 211.08 L398.27 211.43 L398.97 211.67 L399.68 211.38 L400.38 211.25 L401.08 210.97 L401.78 211.33 L402.48 211.62 L403.18 211.36 L403.87 211.70 L404.57 211.93 L405.26 211.42 L405.95 211.04 L406.64 211.20 L407.33 211.60 L408.01 211.08 L408.69 210.79 L409.38 210.66 L410.05 210.54 L410.73 210.98 L411.40 210.68 L412.07 211.17 L412.73 211.51 L413.40 211.17 L414.06 210.85 L414.71 210.60 L415.36 210.62 L416.01 210.92 L416.66 211.10 L417.30 211.53 L417.93 211.19 L418.56 211.49 L419.19 211.28 L419.81 211.29 L420.43 211.30 L421.04 211.59 L421.65 211.40 L422.25 211.23 L422.85 211.20 L423.44 211.12 L424.03 211.01 L424.61 211.43 L425.18 211.82 L425.75 211.77 L426.32 211.90 L426.87 211.84 L427.42 212.00 L427.97 212.03 L428.50 211.56 L429.03 211.67 L429.56 211.19 L430.07 211.41 L430.58 211.47 L431.08 211.81 L431.58 212.14 L432.06 212.12 L432.54 211.99 L433.01 212.06 L433.48 211.86 L433.93 211.54 L434.38 211.20 L434.82 211.53 L435.25 211.87 L435.67 211.65 L436.08 212.03 L436.48 211.90 L436.88 212.28 L437.26 211.86 L437.64 212.22 L438.01 211.66 L438.36 212.02 L438.71 211.94 L439.05 212.25 L439.38 211.77 L439.69 211.61 L440.00 211.56" fill="none" stroke="#5b9ec6" stroke-width="1.8" stroke-linejoin="round" stroke-linecap="round"/>
<path d="M80.00 199.29 L80.32 199.86 L80.68 200.02 L81.08 199.45 L81.51 199.55 L81.98 199.19 L82.47 198.80 L83.00 199.34 L83.55 199.97 L84.12 199.97 L84.71 200.11 L85.33 199.67 L85.97 199.28 L86.62 199.20 L87.28 198.90 L87.96 199.45 L88.65 199.22 L89.34 199.39 L90.05 199.07 L90.75 198.98 L91.47 199.08 L92.18 199.36 L92.89 199.35 L93.59 199.63 L94.29 199.92 L94.98 199.67 L95.67 199.92 L96.34 199.62 L97.00 199.99 L97.58 200.47 L98.16 200.99 L98.76 201.35 L99.37 201.33 L99.99 201.71 L100.62 201.75 L101.25 201.75 L101.89 201.09 L102.53 200.56 L103.18 200.37 L103.83 200.93 L104.48 201.39 L105.13 201.68 L105.79 201.55 L106.44 201.13 L107.09 200.99 L107.74 201.51 L108.39 201.16 L109.03 201.59 L109.66 201.64 L110.29 201.61 L110.91 201.28 L111.53 201.03 L112.13 200.81 L112.72 201.26 L113.30 200.76 L113.87 200.73 L114.43 201.02 L114.97 200.83 L115.50 200.57 L116.01 201.27 L116.50 201.06 L117.30 201.64 L118.08 201.64 L118.82 201.80 L119.55 201.56 L120.24 201.54 L120.92 201.38 L121.57 201.68 L122.20 201.14 L122.81 201.01 L123.40 201.18 L123.97 201.55 L124.52 200.94 L125.06 201.39 L125.58 200.80 L126.09 200.53 L126.59 200.38 L127.07 200.02 L127.54 200.44 L128.00 199.88 L128.75 199.60 L129.43 199.41 L130.05 199.50 L130.61 198.70 L131.13 198.57 L131.62 198.68 L132.08 197.72 L132.52 197.30 L132.94 197.48 L133.37 196.59 L133.80 196.01 L134.22 195.75 L134.62 195.64 L135.00 195.25 L135.37 194.45 L135.71 194.41 L136.05 194.15 L136.37 193.15 L136.68 192.48 L136.99 191.43 L137.30 191.43 L137.60 191.09 L137.79 190.69 L137.98 190.09 L138.17 188.98 L138.34 188.23 L138.52 187.41 L138.69 187.00 L138.86 186.71 L139.02 186.22 L139.19 185.71 L139.35 185.05 L139.51 184.26 L139.67 183.74 L139.84 183.17 L140.00 182.90 L140.16 182.69 L140.33 182.43 L140.50 181.79 L140.91 180.92 L141.31 179.98 L141.71 179.24 L142.11 178.50 L142.52 177.76 L142.95 177.31 L143.40 177.62 L143.81 177.84 L144.24 178.31 L144.68 178.70 L145.13 179.51 L145.59 180.46 L146.06 181.35 L146.53 181.80 L147.00 182.12 L147.45 182.16 L147.88 181.94 L148.30 181.82 L148.74 182.55 L149.20 183.38 L149.72 183.20 L150.32 183.21 L151.00 183.35 L151.48 184.15 L152.01 184.15 L152.58 184.74 L153.19 184.51 L153.82 185.40 L154.47 185.53 L155.12 185.98 L155.78 186.39 L156.43 186.34 L157.07 186.48 L157.68 187.06 L158.26 186.99 L158.80 187.33 L159.54 187.05 L160.24 186.93 L160.92 187.33 L161.58 188.10 L162.21 188.02 L162.81 187.90 L163.39 188.46 L163.96 188.31 L164.50 188.66 L165.15 188.49 L165.75 188.00 L166.31 187.87 L166.84 187.42 L167.36 187.47 L167.87 187.64 L168.40 187.19 L168.99 186.94 L169.53 186.50 L170.07 186.07 L170.63 186.39 L171.26 186.20 L172.00 186.01 L172.51 186.12 L173.05 186.23 L173.64 185.83 L174.25 185.73 L174.88 186.13 L175.52 186.44 L176.16 186.49 L176.79 185.74 L177.41 186.06 L178.00 185.91 L178.53 186.12 L179.00 185.37 L179.43 185.24 L179.85 185.32 L180.28 184.62 L180.75 184.19 L181.28 183.38 L181.90 183.39 L182.63 182.58 L183.50 182.38 L183.92 182.33 L184.34 181.93 L184.77 182.37 L185.21 182.74 L185.66 182.22 L186.12 182.17 L186.59 181.57 L187.08 180.98 L187.58 180.71 L188.10 180.30 L188.64 180.19 L189.20 180.12 L189.78 179.67 L190.38 179.86 L191.00 180.04 L191.65 180.06 L192.33 180.13 L193.03 179.75 L193.76 179.67 L194.52 179.44 L195.32 179.90 L196.14 179.84 L197.00 179.56 L197.46 179.23 L197.94 179.64 L198.43 179.56 L198.94 178.95 L199.46 178.84 L199.98 179.02 L200.52 179.28 L201.07 179.07 L201.63 179.11 L202.20 178.58 L202.78 178.56 L203.37 178.11 L203.96 178.02 L204.56 178.29 L205.17 177.95 L205.79 178.45 L206.41 178.61 L207.04 178.34 L207.68 178.88 L208.32 178.38 L208.96 178.53 L209.61 178.31 L210.26 178.07 L210.91 177.85 L211.56 178.24 L212.22 178.44 L212.88 178.05 L213.54 177.90 L214.20 178.40 L214.86 178.20 L215.52 178.16 L216.17 178.44 L216.83 178.39 L217.48 178.27 L218.14 178.17 L218.78 177.66 L219.43 177.76 L220.07 178.40 L220.71 178.48 L221.34 178.89 L221.96 179.10 L222.58 178.75 L223.19 178.76 L223.80 178.32 L224.42 177.83 L225.04 177.59 L225.66 177.98 L226.28 178.35 L226.90 178.72 L227.52 178.25 L228.15 177.97 L228.77 177.86 L229.40 177.63 L230.02 177.48 L230.65 177.96 L231.27 178.29 L231.90 178.75 L232.52 178.14 L233.15 178.10 L233.78 177.70 L234.40 178.17 L235.02 177.86 L235.65 177.62 L236.27 177.29 L236.89 177.68 L237.51 178.20 L238.13 178.34 L238.75 178.48 L239.36 178.20 L239.97 178.12 L240.59 178.28 L241.19 178.58 L241.80 178.72 L242.41 178.34 L243.01 178.24 L243.61 178.05 L244.21 178.02 L244.80 178.39 L245.39 178.29 L245.98 178.33 L246.57 178.44 L247.15 178.48 L247.73 178.15 L248.30 178.59 L248.87 178.31 L249.44 178.17 L250.00 177.77 L250.66 178.23 L251.31 178.39 L251.95 177.96 L252.57 178.14 L253.18 178.38 L253.79 178.12 L254.38 177.68 L254.97 178.17 L255.55 178.52 L256.12 178.44 L256.69 178.70 L257.25 178.53 L257.81 177.79 L258.37 178.02 L258.93 178.06 L259.48 178.22 L260.04 178.29 L260.60 177.78 L261.16 177.67 L261.73 177.79 L262.29 178.06 L262.87 178.35 L263.45 177.54 L264.04 177.16 L264.63 176.93 L265.24 177.30 L265.85 176.87 L266.48 176.80 L267.12 176.32 L267.77 176.92 L268.43 177.11 L269.11 177.34 L269.81 177.67 L270.52 177.24 L271.25 177.26 L272.00 177.63 L272.51 177.95 L273.02 178.21 L273.54 177.60 L274.07 177.75 L274.60 177.51 L275.14 177.67 L275.68 177.30 L276.23 177.65 L276.79 177.85 L277.35 177.36 L277.91 177.50 L278.48 176.76 L279.05 176.68 L279.63 176.34 L280.21 175.89 L280.80 176.33 L281.38 176.37 L281.98 176.52 L282.57 176.88 L283.17 176.52 L283.78 176.21 L284.39 176.78 L285.00 176.49 L285.61 176.89 L286.22 176.67 L286.84 176.44 L287.46 176.34 L288.09 176.58 L288.71 176.41 L289.34 175.94 L289.97 176.11 L290.60 176.02 L291.23 175.86 L291.86 176.45 L292.50 176.99 L293.13 177.05 L293.77 177.26 L294.41 177.18 L295.05 177.19 L295.69 177.28 L296.32 177.54 L296.96 177.87 L297.60 177.87 L298.24 178.17 L298.88 177.68 L299.52 178.02 L300.16 177.82 L300.80 177.60 L301.43 177.74 L302.07 178.06 L302.70 177.84 L303.34 178.10 L303.97 178.19 L304.60 178.15 L305.18 177.66 L305.76 177.38 L306.34 177.45 L306.93 177.12 L307.52 177.12 L308.11 176.98 L308.70 176.65 L309.30 176.23 L309.90 176.48 L310.50 176.24 L311.10 176.24 L311.71 176.76 L312.31 176.51 L312.92 176.83 L313.53 177.25 L314.14 177.47 L314.76 177.49 L315.37 177.47 L315.98 177.57 L316.60 177.73 L317.21 177.55 L317.83 177.60 L318.45 177.27 L319.06 177.48 L319.68 177.30 L320.30 176.86 L320.92 176.59 L321.54 176.65 L322.15 176.43 L322.77 176.37 L323.39 176.63 L324.00 176.75 L324.62 176.41 L325.24 176.20 L325.85 176.17 L326.46 176.41 L327.07 176.41 L327.68 176.49 L328.29 176.37 L328.90 176.84 L329.51 177.28 L330.11 177.63 L330.71 177.66 L331.31 177.31 L331.91 177.65 L332.51 177.97 L333.10 177.41 L333.69 177.03 L334.28 177.38 L334.87 177.19 L335.45 177.70 L336.03 177.23 L336.61 176.89 L337.18 177.05 L337.75 176.83 L338.32 177.16 L338.88 177.67 L339.44 177.57 L340.00 177.71 L340.65 177.60 L341.30 177.07 L341.94 177.53 L342.58 177.19 L343.22 177.11 L343.85 176.74 L344.48 176.91 L345.10 177.36 L345.73 177.80 L346.35 177.51 L346.96 177.94 L347.57 177.92 L348.18 177.88 L348.79 178.21 L349.40 177.76 L350.00 177.55 L350.60 177.91 L351.20 177.44 L351.79 177.61 L352.39 178.20 L352.98 178.48 L353.57 177.90 L354.16 177.95 L354.75 177.72 L355.34 178.11 L355.92 177.72 L356.51 177.95 L357.09 178.26 L357.68 178.34 L358.26 177.89 L358.84 177.49 L359.42 177.32 L360.01 177.61 L360.59 177.89 L361.17 177.65 L361.75 177.31 L362.34 177.12 L362.92 176.99 L363.50 176.68 L364.09 176.52 L364.67 176.74 L365.26 176.64 L365.85 177.26 L366.43 177.19 L367.02 177.43 L367.62 177.13 L368.21 177.33 L368.80 178.06 L369.40 177.78 L370.00 177.84 L370.60 178.31 L371.20 177.95 L371.81 177.99 L372.41 177.50 L373.02 177.45 L373.63 178.06 L374.24 177.71 L374.85 178.37 L375.47 178.14 L376.08 177.90 L376.69 177.65 L377.31 177.43 L377.93 177.43 L378.54 177.81 L379.16 177.54 L379.77 178.20 L380.39 178.36 L381.01 178.80 L381.62 178.29 L382.24 178.51 L382.86 179.03 L383.47 178.46 L384.09 178.37 L384.70 178.80 L385.31 179.09 L385.92 178.74 L386.54 178.58 L387.14 178.24 L387.75 178.68 L388.36 179.03 L388.97 178.71 L389.57 179.13 L390.17 179.42 L390.77 178.80 L391.37 178.33 L391.96 178.53 L392.56 179.02 L393.15 178.39 L393.73 178.04 L394.32 177.89 L394.90 177.75 L395.48 178.29 L396.06 177.94 L396.63 178.55 L397.20 178.97 L397.77 178.56 L398.33 178.19 L398.89 177.89 L399.45 177.93 L400.00 178.30 L400.67 178.54 L401.34 179.09 L402.01 178.70 L402.68 179.09 L403.35 178.86 L404.02 178.90 L404.69 178.95 L405.36 179.33 L406.02 179.14 L406.68 178.96 L407.35 178.96 L408.00 178.90 L408.66 178.81 L409.31 179.35 L409.96 179.86 L410.61 179.85 L411.25 180.05 L411.89 180.02 L412.53 180.25 L413.16 180.32 L413.79 179.80 L414.41 179.96 L415.03 179.43 L415.64 179.73 L416.25 179.84 L416.85 180.30 L417.44 180.75 L418.03 180.76 L418.61 180.63 L419.19 180.76 L419.75 180.55 L420.31 180.20 L420.87 179.81 L421.41 180.25 L421.95 180.70 L422.48 180.46 L423.00 180.96 L423.52 180.82 L424.02 181.32 L424.51 180.83 L425.00 181.29 L425.81 180.65 L426.62 181.12 L427.41 181.06 L428.18 181.46 L428.94 180.91 L429.68 180.73 L430.41 180.69 L431.12 180.28 L431.81 180.89 L432.48 180.40 L433.13 180.39 L433.76 180.47 L434.37 180.73 L434.96 180.76 L435.52 180.68 L436.06 180.76 L436.57 180.78 L437.06 180.32 L437.52 180.57 L437.96 181.07 L438.36 180.82 L438.74 180.65 L439.08 180.22 L439.40 180.40" fill="none" stroke="#3f5fa9" stroke-width="1.8" stroke-linejoin="round" stroke-linecap="round"/>
<path d="M80.00 193.42 L80.32 192.97 L80.68 192.60 L81.09 192.81 L81.53 192.49 L82.01 192.74 L82.53 192.17 L83.08 192.00 L83.65 192.26 L84.25 192.20 L84.88 191.82 L85.52 192.08 L86.18 191.96 L86.85 191.73 L87.53 190.96 L88.22 190.38 L88.91 190.67 L89.61 190.90 L90.30 190.18 L90.99 190.11 L91.68 189.41 L92.35 188.93 L93.01 188.46 L93.65 188.72 L94.27 189.11 L94.87 189.11 L95.45 188.58 L96.00 188.01 L96.52 188.11 L97.00 187.88 L97.73 188.09 L98.44 188.18 L99.11 187.32 L99.76 186.70 L100.38 186.94 L100.98 186.33 L101.56 186.48 L102.12 186.40 L102.66 186.24 L103.18 185.48 L103.69 184.92 L104.19 184.74 L104.67 184.12 L105.15 184.38 L105.62 183.68 L106.08 183.88 L106.54 183.33 L107.00 183.48 L107.62 183.06 L108.20 182.19 L108.76 181.66 L109.30 181.76 L109.81 181.18 L110.30 180.28 L110.78 180.23 L111.25 179.55 L111.70 179.49 L112.15 178.90 L112.60 178.36 L113.05 178.36 L113.50 178.28 L114.23 177.57 L114.94 177.64 L115.63 177.38 L116.30 177.20 L116.95 177.58 L117.59 177.33 L118.20 177.22 L118.80 176.91 L119.45 176.82 L120.06 177.08 L120.65 176.90 L121.21 177.19 L121.77 177.63 L122.33 177.68 L122.90 178.00 L123.40 178.35 L123.90 178.92 L124.40 179.40 L124.90 179.82 L125.40 180.73 L125.90 180.73 L126.40 181.12 L126.90 181.58 L127.31 182.54 L127.72 183.37 L128.14 183.76 L128.55 184.65 L128.97 184.58 L129.38 185.31 L129.80 185.51 L130.20 186.50 L130.61 186.44 L131.00 187.07 L131.43 187.53 L131.87 188.30 L132.30 188.63 L132.72 189.68 L133.14 190.65 L133.55 190.99 L133.95 190.92 L134.33 191.72 L134.70 191.91 L135.22 191.48 L135.69 190.96 L136.14 190.46 L136.59 190.47 L137.03 189.34 L137.50 188.24 L137.67 188.03 L137.85 188.04 L138.02 187.68 L138.20 186.60 L138.38 186.06 L138.56 185.21 L138.74 184.59 L138.92 183.86 L139.10 183.13 L139.28 182.19 L139.46 181.25 L139.64 180.91 L139.82 180.03 L139.99 179.89 L140.16 179.06 L140.33 178.96 L140.50 178.75 L141.02 177.39 L141.50 177.41 L141.98 177.08 L142.50 176.65 L143.10 176.50 L143.60 176.18 L144.14 176.27 L144.72 176.64 L145.31 176.83 L145.92 177.35 L146.52 177.57 L147.10 177.49 L147.54 177.14 L147.99 177.11 L148.44 177.29 L148.88 177.26 L149.33 176.86 L149.77 176.63 L150.22 175.95 L150.66 175.77 L151.10 174.65 L151.49 173.74 L151.89 173.39 L152.28 172.63 L152.67 171.99 L153.06 171.92 L153.45 171.40 L153.84 171.29 L154.23 170.33 L154.61 170.07 L155.00 170.19 L155.66 169.51 L156.35 169.28 L157.03 169.27 L157.69 169.26 L158.28 169.39 L158.80 169.12 L159.47 169.43 L159.91 169.51 L160.60 170.34 L160.95 170.71 L161.34 170.77 L161.78 171.48 L162.24 171.46 L162.72 171.49 L163.20 172.14 L163.68 172.53 L164.15 173.16 L164.60 174.23 L164.95 174.70 L165.31 174.79 L165.66 175.36 L166.00 176.31 L166.35 177.08 L166.70 177.32 L167.04 177.59 L167.38 177.96 L167.72 178.86 L168.06 179.84 L168.40 180.54 L168.84 180.60 L169.26 180.70 L169.66 181.10 L170.06 181.36 L170.48 182.21 L170.94 182.64 L171.44 182.80 L172.00 183.48 L172.46 183.96 L172.96 184.24 L173.49 184.89 L174.05 185.31 L174.62 185.50 L175.21 185.56 L175.79 186.30 L176.37 186.71 L176.94 186.73 L177.48 186.74 L178.00 186.92 L178.55 187.62 L179.01 187.99 L179.41 187.72 L179.80 188.10 L180.22 188.20 L180.70 188.37 L181.30 188.51 L182.05 188.81 L183.00 188.91 L183.40 189.71 L183.81 190.28 L184.23 190.02 L184.66 189.91 L185.11 190.14 L185.57 190.74 L186.04 190.73 L186.53 190.73 L187.03 191.17 L187.55 191.35 L188.08 191.09 L188.64 190.91 L189.21 191.13 L189.80 191.86 L190.42 192.31 L191.05 192.06 L191.71 191.81 L192.39 192.25 L193.09 192.64 L193.82 193.31 L194.58 193.65 L195.36 193.95 L196.16 194.00 L197.00 193.99 L197.46 193.66 L197.93 193.45 L198.41 193.35 L198.91 193.70 L199.41 193.70 L199.93 193.85 L200.46 194.19 L200.99 194.12 L201.54 193.99 L202.09 193.76 L202.65 194.46 L203.22 195.03 L203.80 194.84 L204.39 194.44 L204.98 194.66 L205.58 195.05 L206.18 195.48 L206.79 195.86 L207.40 195.44 L208.02 195.79 L208.65 196.09 L209.27 195.89 L209.90 195.45 L210.54 195.52 L211.17 196.08 L211.81 195.82 L212.45 195.85 L213.09 195.51 L213.73 196.18 L214.38 195.91 L215.02 195.75 L215.66 196.05 L216.31 196.33 L216.95 196.83 L217.59 196.38 L218.22 196.06 L218.86 196.45 L219.49 196.96 L220.12 196.95 L220.74 196.98 L221.36 196.90 L221.98 196.76 L222.59 197.01 L223.20 197.41 L223.80 197.78 L224.40 197.57 L225.00 197.92 L225.59 197.85 L226.19 197.40 L226.79 197.21 L227.39 197.00 L227.99 197.08 L228.59 197.38 L229.19 198.05 L229.79 197.77 L230.39 197.49 L230.99 197.35 L231.59 197.32 L232.19 197.59 L232.79 198.06 L233.39 198.09 L233.99 197.99 L234.59 197.82 L235.19 198.42 L235.79 198.92 L236.39 198.56 L236.99 198.73 L237.59 198.47 L238.20 198.77 L238.80 198.88 L239.40 198.72 L240.00 199.13 L240.60 198.66 L241.20 198.63 L241.80 198.39 L242.40 198.07 L243.00 197.89 L243.60 197.90 L244.20 197.87 L244.80 198.31 L245.40 198.78 L246.00 198.90 L246.60 198.57 L247.20 199.07 L247.80 199.11 L248.40 198.77 L249.00 198.57 L249.60 198.39 L250.20 199.06 L250.80 198.94 L251.41 199.00 L252.01 198.99 L252.60 199.12 L253.19 199.36 L253.77 199.63 L254.35 199.85 L254.92 200.22 L255.49 199.91 L256.05 200.32 L256.61 200.29 L257.17 200.32 L257.73 200.10 L258.28 199.86 L258.83 200.35 L259.39 200.48 L259.94 200.80 L260.50 200.22 L261.05 200.69 L261.61 200.55 L262.17 200.14 L262.73 200.29 L263.29 200.46 L263.86 200.21 L264.44 200.21 L265.02 200.74 L265.60 200.31 L266.19 200.73 L266.79 200.46 L267.39 200.17 L268.01 200.29 L268.63 200.18 L269.26 199.84 L269.89 199.82 L270.54 200.32 L271.20 200.33 L271.87 200.10 L272.56 199.75 L273.25 200.38 L273.96 200.84 L274.68 201.19 L275.41 200.69 L276.16 200.39 L276.92 200.06 L277.70 199.88 L278.19 199.94 L278.67 200.07 L279.14 200.34 L279.61 200.13 L280.06 199.97 L280.51 200.17 L280.96 200.76 L281.39 201.06 L281.83 200.87 L282.26 201.23 L282.68 201.23 L283.10 201.08 L283.52 201.10 L283.93 200.60 L284.34 200.36 L284.76 200.42 L285.17 200.29 L285.58 200.55 L285.99 200.98 L286.40 200.77 L286.81 201.08 L287.23 201.40 L287.64 201.69 L288.06 201.57 L288.49 201.50 L288.91 201.12 L289.34 200.88 L289.78 201.19 L290.22 201.54 L290.67 201.52 L291.13 201.63 L291.59 201.69 L292.06 201.39 L292.54 201.26 L293.03 200.87 L293.53 201.04 L294.04 201.21 L294.56 201.01 L295.09 201.49 L295.63 200.94 L296.18 201.25 L296.75 201.71 L297.33 201.97 L297.92 201.68 L298.53 201.86 L299.15 201.93 L299.79 201.38 L300.44 200.91 L301.11 201.30 L301.80 201.28 L302.51 200.85 L303.23 200.78 L303.97 201.22 L304.74 200.89 L305.52 200.64 L306.32 200.52 L307.14 200.52 L307.99 201.12 L308.86 201.16 L309.74 201.11 L310.66 201.42 L311.59 201.08 L312.55 200.73 L313.54 201.31 L314.55 201.13 L315.59 201.29 L316.65 201.17 L317.74 201.17 L318.85 200.91 L320.00 200.54 L320.41 201.22 L320.83 201.44 L321.25 201.49 L321.68 201.26 L322.11 201.21 L322.56 201.38 L323.00 201.27 L323.46 201.82 L323.92 202.00 L324.39 201.81 L324.86 202.03 L325.34 202.28 L325.83 202.55 L326.32 202.43 L326.82 202.61 L327.32 202.73 L327.83 202.81 L328.35 202.27 L328.87 202.62 L329.39 202.60 L329.92 202.59 L330.46 202.17 L331.00 202.49 L331.55 201.92 L332.10 202.08 L332.66 201.77 L333.22 202.00 L333.79 201.91 L334.36 201.57 L334.94 201.44 L335.52 201.36 L336.10 201.02 L336.69 201.35 L337.29 201.46 L337.89 201.44 L338.49 201.07 L339.10 201.41 L339.71 201.42 L340.33 201.24 L340.95 200.90 L341.57 201.24 L342.20 201.05 L342.83 201.62 L343.47 201.60 L344.10 202.00 L344.75 202.15 L345.39 202.26 L346.04 202.45 L346.69 202.61 L347.35 202.11 L348.01 201.80 L348.67 201.72 L349.34 202.09 L350.00 201.72 L350.67 201.57 L351.35 202.02 L352.02 202.29 L352.70 201.86 L353.38 201.35 L354.07 201.02 L354.76 201.57 L355.44 201.91 L356.14 202.27 L356.83 202.47 L357.52 202.18 L358.22 202.05 L358.92 202.07 L359.62 201.84 L360.33 201.77 L361.03 201.90 L361.74 202.04 L362.45 202.20 L363.16 202.03 L363.87 201.56 L364.58 201.13 L365.30 201.75 L366.01 201.97 L366.73 201.82 L367.45 202.11 L368.17 201.97 L368.89 201.69 L369.61 202.07 L370.33 202.17 L371.05 201.64 L371.77 201.90 L372.50 202.34 L373.22 202.06 L373.94 202.34 L374.67 202.29 L375.39 202.15 L376.12 202.29 L376.84 202.55 L377.57 202.32 L378.30 202.40 L379.02 202.65 L379.75 202.38 L380.47 201.96 L381.20 202.32 L381.92 202.41 L382.64 202.07 L383.37 202.34 L384.09 201.79 L384.81 202.17 L385.53 201.88 L386.25 202.14 L386.97 201.99 L387.69 201.84 L388.41 201.48 L389.13 201.11 L389.84 201.48 L390.55 201.34 L391.27 201.27 L391.98 201.52 L392.69 202.03 L393.40 202.03 L394.10 202.52 L394.81 202.75 L395.51 203.10 L396.21 203.08 L396.91 203.04 L397.61 203.28 L398.30 203.33 L399.00 202.62 L399.69 202.39 L400.37 202.37 L401.06 201.92 L401.74 201.98 L402.42 202.21 L403.10 202.08 L403.78 202.18 L404.45 202.25 L405.12 202.13 L405.79 202.12 L406.45 202.32 L407.11 202.69 L407.77 202.57 L408.43 202.72 L409.08 202.46 L409.73 202.06 L410.37 202.21 L411.01 202.55 L411.65 202.24 L412.29 202.59 L412.92 202.50 L413.54 202.09 L414.17 202.38 L414.78 202.28 L415.40 202.45 L416.01 202.18 L416.62 201.93 L417.22 202.33 L417.82 202.00 L418.41 202.26 L419.00 202.39 L419.58 202.29 L420.16 201.99 L420.74 202.19 L421.31 202.26 L421.88 202.44 L422.44 201.91 L422.99 201.72 L423.54 202.08 L424.09 202.60 L424.63 202.04 L425.16 201.58 L425.69 202.17 L426.22 202.34 L426.74 201.92 L427.25 202.13 L427.76 202.52 L428.26 202.46 L428.76 202.64 L429.25 202.08 L429.73 201.68 L430.21 202.09 L430.68 201.89 L431.15 201.65 L431.61 202.10 L432.06 202.12 L432.51 202.29 L432.95 202.01 L433.39 202.45 L433.81 202.26 L434.23 202.26 L434.65 202.03 L435.06 202.36 L435.46 202.37 L435.85 201.99 L436.24 201.62 L436.62 201.43 L436.99 201.47 L437.35 201.55 L437.71 202.00 L438.06 202.27 L438.40 202.59 L438.74 202.62 L439.06 202.23 L439.38 202.54 L439.70 202.46 L440.00 202.84" fill="none" stroke="#8db24f" stroke-width="1.8" stroke-linejoin="round" stroke-linecap="round"/>
<path d="M80.00 201.28 L80.33 201.70 L80.69 201.18 L81.10 201.54 L81.55 201.28 L82.03 201.01 L82.54 201.08 L83.09 201.18 L83.66 201.59 L84.26 201.30 L84.87 201.03 L85.51 201.18 L86.17 201.45 L86.84 201.78 L87.52 201.61 L88.22 201.86 L88.92 201.26 L89.63 201.30 L90.33 201.41 L91.04 201.40 L91.75 201.56 L92.45 201.67 L93.14 201.43 L93.83 200.95 L94.50 200.85 L95.15 200.84 L95.79 200.66 L96.41 200.95 L97.00 201.03 L97.63 200.91 L98.26 200.47 L98.90 200.28 L99.54 199.81 L100.18 199.59 L100.82 199.62 L101.46 199.41 L102.11 199.39 L102.75 199.54 L103.38 199.67 L104.02 199.52 L104.65 199.04 L105.28 199.03 L105.90 198.96 L106.51 199.32 L107.12 199.56 L107.71 199.54 L108.30 199.12 L108.88 198.71 L109.45 198.66 L110.01 198.64 L110.56 198.12 L111.09 198.25 L111.61 198.44 L112.11 198.31 L112.60 197.90 L113.32 198.02 L114.00 197.26 L114.65 196.81 L115.27 196.25 L115.86 196.12 L116.43 196.16 L116.98 195.45 L117.51 194.89 L118.03 194.97 L118.54 194.55 L119.04 194.13 L119.53 193.80 L120.02 193.62 L120.50 193.42 L121.00 193.05 L121.49 192.91 L122.00 192.70 L122.48 192.61 L122.96 191.81 L123.44 191.50 L123.92 191.51 L124.39 191.02 L124.86 190.23 L125.32 189.72 L125.78 188.90 L126.23 188.92 L126.68 188.86 L127.12 188.74 L127.56 188.33 L127.98 187.45 L128.40 186.83 L128.82 186.06 L129.22 185.66 L129.61 185.13 L130.00 185.01 L130.45 184.54 L130.90 183.60 L131.33 182.77 L131.76 181.96 L132.17 181.75 L132.58 181.41 L132.98 180.60 L133.36 180.64 L133.73 180.39 L134.09 179.76 L134.44 178.93 L134.78 178.10 L135.10 177.99 L135.41 177.74 L135.70 177.00 L136.16 176.68 L136.57 175.86 L136.95 175.35 L137.30 175.03 L137.61 174.59 L137.89 173.66 L138.15 173.21 L138.39 172.53 L138.60 171.84 L139.12 171.10 L139.40 171.53 L139.61 172.01 L139.83 172.16 L140.08 173.35 L140.40 174.51 L140.51 174.80 L140.61 175.02 L140.72 175.66 L140.82 176.51 L140.93 177.48 L141.05 177.79 L141.18 178.52 L141.31 178.89 L141.45 179.59 L141.61 180.52 L141.78 180.69 L141.97 180.96 L142.17 181.60 L142.40 182.40 L142.64 182.91 L142.89 183.19 L143.15 183.68 L143.43 184.73 L143.71 185.13 L144.01 185.58 L144.33 186.17 L144.65 187.18 L145.00 187.40 L145.36 187.96 L145.74 188.71 L146.14 189.22 L146.56 189.57 L147.00 190.35 L147.43 190.73 L147.88 191.25 L148.36 191.20 L148.85 191.78 L149.36 191.81 L149.88 192.27 L150.42 192.81 L150.97 193.22 L151.53 193.30 L152.10 193.07 L152.67 193.70 L153.25 193.58 L153.83 193.62 L154.42 193.73 L155.00 193.92 L155.55 194.51 L156.09 194.73 L156.63 195.00 L157.18 195.46 L157.72 196.16 L158.28 196.31 L158.84 196.61 L159.41 196.55 L159.99 196.89 L160.58 196.86 L161.19 196.78 L161.81 196.72 L162.45 197.16 L163.11 197.88 L163.79 197.88 L164.50 197.95 L165.02 198.03 L165.55 198.04 L166.07 198.27 L166.60 198.91 L167.13 198.86 L167.66 198.86 L168.21 198.69 L168.76 198.78 L169.32 198.77 L169.89 198.64 L170.47 198.72 L171.06 198.71 L171.67 199.17 L172.30 199.52 L172.94 199.79 L173.60 199.65 L174.28 199.81 L174.97 199.66 L175.69 199.65 L176.44 199.76 L177.21 200.37 L178.00 200.58 L178.49 200.31 L178.97 200.09 L179.45 200.52 L179.92 200.89 L180.39 200.50 L180.85 200.58 L181.32 200.34 L181.78 200.74 L182.25 201.17 L182.72 201.28 L183.19 201.67 L183.67 201.74 L184.15 201.48 L184.64 201.23 L185.15 201.74 L185.66 201.43 L186.18 201.21 L186.72 201.53 L187.27 201.88 L187.84 201.86 L188.42 201.84 L189.02 201.65 L189.64 201.31 L190.28 201.75 L190.94 201.37 L191.62 201.33 L192.33 201.84 L193.07 202.18 L193.83 202.22 L194.61 201.91 L195.43 202.19 L196.28 202.50 L197.16 202.48 L198.07 202.75 L199.02 202.63 L200.00 202.69 L200.44 202.84 L200.88 202.48 L201.32 202.72 L201.78 202.60 L202.23 202.48 L202.69 202.41 L203.16 202.81 L203.63 202.99 L204.11 202.49 L204.59 202.13 L205.08 202.41 L205.57 202.50 L206.06 202.51 L206.57 202.24 L207.07 202.64 L207.58 202.32 L208.09 202.00 L208.61 202.20 L209.14 202.39 L209.66 202.32 L210.20 202.52 L210.73 202.97 L211.27 202.78 L211.82 202.64 L212.37 202.27 L212.92 202.17 L213.48 202.59 L214.04 202.20 L214.61 202.55 L215.17 202.95 L215.75 203.31 L216.33 203.61 L216.91 203.31 L217.49 203.14 L218.08 202.96 L218.67 203.19 L219.27 203.15 L219.87 202.69 L220.47 202.81 L221.08 203.06 L221.69 202.63 L222.31 202.96 L222.93 203.34 L223.55 203.52 L224.17 203.51 L224.80 203.45 L225.43 203.68 L226.07 203.95 L226.70 204.08 L227.34 203.55 L227.99 203.71 L228.64 203.67 L229.29 203.36 L229.94 203.15 L230.60 203.32 L231.25 203.40 L231.92 203.57 L232.58 203.22 L233.25 203.13 L233.92 203.00 L234.59 203.26 L235.27 203.27 L235.95 202.99 L236.63 202.71 L237.31 203.09 L238.00 203.00 L238.69 202.58 L239.38 202.62 L240.07 202.52 L240.76 202.57 L241.46 202.23 L242.16 202.32 L242.87 202.78 L243.57 202.90 L244.28 202.86 L244.98 202.82 L245.70 203.07 L246.41 202.63 L247.12 202.78 L247.84 202.73 L248.56 203.10 L249.28 203.10 L250.00 202.84 L250.52 203.06 L251.03 203.02 L251.55 202.83 L252.06 202.97 L252.58 202.74 L253.09 202.46 L253.61 202.56 L254.12 203.10 L254.63 202.77 L255.14 202.99 L255.66 202.98 L256.17 202.58 L256.68 202.83 L257.19 203.32 L257.71 203.12 L258.22 203.36 L258.73 203.02 L259.25 203.29 L259.76 203.00 L260.27 203.16 L260.79 203.00 L261.30 203.19 L261.82 203.00 L262.33 203.26 L262.85 203.10 L263.37 202.94 L263.88 203.00 L264.40 203.30 L264.92 203.55 L265.44 203.43 L265.96 203.53 L266.49 203.02 L267.01 203.35 L267.53 203.14 L268.06 203.04 L268.59 202.76 L269.12 203.21 L269.65 203.16 L270.18 202.92 L270.71 203.27 L271.24 203.60 L271.78 203.06 L272.32 203.51 L272.86 203.29 L273.40 202.97 L273.94 202.76 L274.49 202.96 L275.03 203.27 L275.58 203.55 L276.13 203.23 L276.69 202.81 L277.24 202.82 L277.80 202.94 L278.36 202.90 L278.92 203.05 L279.49 202.92 L280.06 202.77 L280.62 202.75 L281.20 202.58 L281.77 203.13 L282.35 203.36 L282.93 203.21 L283.51 203.63 L284.10 203.68 L284.69 203.48 L285.28 203.23 L285.88 203.05 L286.48 202.94 L287.08 202.79 L287.68 203.12 L288.29 203.05 L288.90 202.94 L289.52 202.54 L290.14 202.41 L290.76 202.63 L291.38 202.36 L292.01 202.30 L292.64 202.69 L293.28 202.52 L293.92 202.38 L294.57 202.79 L295.21 202.88 L295.87 203.32 L296.52 203.30 L297.18 203.42 L297.85 203.69 L298.52 203.30 L299.19 202.89 L299.87 202.62 L300.55 203.00 L301.23 202.91 L301.92 202.77 L302.62 202.67 L303.32 202.89 L304.02 203.06 L304.73 203.10 L305.45 203.39 L306.17 203.76 L306.89 203.25 L307.62 203.64 L308.35 203.64 L309.09 203.77 L309.83 203.71 L310.58 203.19 L311.34 202.97 L312.10 203.09 L312.86 202.92 L313.63 203.31 L314.41 203.01 L315.19 202.64 L315.98 203.12 L316.77 203.12 L317.57 202.74 L318.37 203.03 L319.18 203.35 L320.00 203.05 L320.48 203.22 L320.96 203.25 L321.45 203.46 L321.94 203.67 L322.44 203.54 L322.95 203.60 L323.46 203.76 L323.97 203.35 L324.49 203.64 L325.01 203.36 L325.54 203.42 L326.08 203.42 L326.62 203.75 L327.16 203.60 L327.71 203.23 L328.26 202.81 L328.82 202.82 L329.38 202.73 L329.94 203.21 L330.52 202.95 L331.09 202.56 L331.67 202.78 L332.25 203.17 L332.84 203.22 L333.43 202.80 L334.02 202.49 L334.62 202.40 L335.22 202.16 L335.83 202.36 L336.44 202.38 L337.05 202.57 L337.67 202.94 L338.29 203.24 L338.91 203.43 L339.54 203.38 L340.17 203.62 L340.80 203.55 L341.44 203.10 L342.08 203.14 L342.72 203.49 L343.37 203.04 L344.01 203.16 L344.66 203.51 L345.32 203.50 L345.98 203.13 L346.63 202.98 L347.30 202.88 L347.96 202.56 L348.63 202.83 L349.30 203.30 L349.97 203.34 L350.64 202.88 L351.32 203.15 L352.00 202.87 L352.68 203.05 L353.36 202.88 L354.04 202.81 L354.73 203.33 L355.42 203.18 L356.10 203.11 L356.80 203.50 L357.49 203.84 L358.18 203.32 L358.88 203.26 L359.58 203.23 L360.27 203.57 L360.97 203.53 L361.68 203.61 L362.38 203.36 L363.08 203.03 L363.78 202.68 L364.49 203.09 L365.20 203.51 L365.90 203.33 L366.61 202.85 L367.32 203.29 L368.03 203.21 L368.74 203.58 L369.45 203.65 L370.16 203.71 L370.87 204.02 L371.58 204.20 L372.29 204.40 L373.01 203.75 L373.72 203.83 L374.43 203.55 L375.14 203.07 L375.86 202.82 L376.57 202.71 L377.28 202.92 L377.99 203.18 L378.70 203.36 L379.41 203.32 L380.12 202.94 L380.83 203.38 L381.54 203.52 L382.25 203.10 L382.96 203.29 L383.67 203.60 L384.38 203.30 L385.08 203.64 L385.79 203.50 L386.49 203.42 L387.19 202.98 L387.89 202.60 L388.59 202.49 L389.29 202.40 L389.99 202.12 L390.69 202.22 L391.38 202.01 L392.08 202.57 L392.77 202.85 L393.46 203.26 L394.15 203.05 L394.83 202.71 L395.52 202.57 L396.20 202.88 L396.88 202.62 L397.56 202.73 L398.24 202.40 L398.91 202.68 L399.59 202.53 L400.26 202.72 L400.93 202.94 L401.59 203.21 L402.26 203.11 L402.92 202.67 L403.57 202.41 L404.23 202.29 L404.88 202.86 L405.53 202.60 L406.18 203.05 L406.82 203.29 L407.46 203.53 L408.10 203.57 L408.74 203.34 L409.37 203.19 L410.00 203.25 L410.62 203.39 L411.25 203.20 L411.86 203.50 L412.48 203.29 L413.09 203.44 L413.70 203.73 L414.30 203.28 L414.90 203.08 L415.50 203.29 L416.09 203.27 L416.68 202.98 L417.27 202.68 L417.85 202.48 L418.42 202.56 L419.00 202.83 L419.56 203.12 L420.13 203.19 L420.69 202.88 L421.24 202.90 L421.79 202.56 L422.34 203.02 L422.88 203.18 L423.42 203.41 L423.95 203.16 L424.48 203.14 L425.00 202.79 L425.51 203.22 L426.03 203.37 L426.53 203.55 L427.04 203.83 L427.53 203.96 L428.02 204.18 L428.51 204.36 L428.99 203.98 L429.47 203.55 L429.94 203.53 L430.40 203.50 L430.86 203.37 L431.31 203.24 L431.76 203.30 L432.20 202.96 L432.63 202.91 L433.06 203.01 L433.49 202.71 L433.90 202.99 L434.32 202.76 L434.72 202.38 L435.12 202.19 L435.51 202.27 L435.90 202.58 L436.28 203.09 L436.65 203.26 L437.01 202.76 L437.37 202.97 L437.73 203.22 L438.07 203.42 L438.41 203.17 L438.74 203.19 L439.07 203.40 L439.39 203.02 L439.70 203.09 L440.00 203.21" fill="none" stroke="#e2883a" stroke-width="1.8" stroke-linejoin="round" stroke-linecap="round"/>
<line x1="79.30" y1="39.8" x2="79.30" y2="233.50" stroke="#222" stroke-width="1.1"/>
<line x1="78.80" y1="233.00" x2="440.2" y2="233.00" stroke="#222" stroke-width="1.1"/>
<line x1="77.10" y1="233.00" x2="79.30" y2="233.00" stroke="#222" stroke-width="1"/>
<text x="75.70" y="234.00" font-size="11.30" font-weight="normal" text-anchor="end" fill="#141414" stroke="#141414" stroke-width="0.70" >0</text>
<line x1="77.50" y1="213.72" x2="79.30" y2="213.72" stroke="#222" stroke-width="1"/>
<line x1="77.10" y1="194.44" x2="79.30" y2="194.44" stroke="#222" stroke-width="1"/>
<text x="75.70" y="195.92" font-size="11.30" font-weight="normal" text-anchor="end" fill="#141414" stroke="#141414" stroke-width="0.70" >1000</text>
<line x1="77.50" y1="175.16" x2="79.30" y2="175.16" stroke="#222" stroke-width="1"/>
<line x1="77.10" y1="155.88" x2="79.30" y2="155.88" stroke="#222" stroke-width="1"/>
<text x="75.70" y="157.84" font-size="11.30" font-weight="normal" text-anchor="end" fill="#141414" stroke="#141414" stroke-width="0.70" >2000</text>
<line x1="77.50" y1="136.60" x2="79.30" y2="136.60" stroke="#222" stroke-width="1"/>
<line x1="77.10" y1="117.32" x2="79.30" y2="117.32" stroke="#222" stroke-width="1"/>
<text x="75.70" y="119.76" font-size="11.30" font-weight="normal" text-anchor="end" fill="#141414" stroke="#141414" stroke-width="0.70" >3000</text>
<line x1="77.50" y1="98.04" x2="79.30" y2="98.04" stroke="#222" stroke-width="1"/>
<line x1="77.10" y1="78.76" x2="79.30" y2="78.76" stroke="#222" stroke-width="1"/>
<text x="75.70" y="81.68" font-size="11.30" font-weight="normal" text-anchor="end" fill="#141414" stroke="#141414" stroke-width="0.70" >4000</text>
<line x1="77.50" y1="59.48" x2="79.30" y2="59.48" stroke="#222" stroke-width="1"/>
<line x1="77.10" y1="40.20" x2="79.30" y2="40.20" stroke="#222" stroke-width="1"/>
<text x="75.70" y="43.60" font-size="11.30" font-weight="normal" text-anchor="end" fill="#141414" stroke="#141414" stroke-width="0.70" >5000</text>
<line x1="79.30" y1="233.00" x2="79.30" y2="235.20" stroke="#222" stroke-width="1"/>
<text x="95.50" y="247.70" font-size="11.20" font-weight="normal" text-anchor="end" fill="#141414" stroke="#141414" stroke-width="0.70" >-2000</text>
<line x1="139.30" y1="233.00" x2="139.30" y2="235.20" stroke="#222" stroke-width="1"/>
<text x="139.70" y="247.70" font-size="11.20" font-weight="normal" text-anchor="middle" fill="#141414" stroke="#141414" stroke-width="0.70" >0</text>
<line x1="199.30" y1="233.00" x2="199.30" y2="235.20" stroke="#222" stroke-width="1"/>
<text x="199.70" y="247.70" font-size="11.20" font-weight="normal" text-anchor="middle" fill="#141414" stroke="#141414" stroke-width="0.70" >2000</text>
<line x1="259.30" y1="233.00" x2="259.30" y2="235.20" stroke="#222" stroke-width="1"/>
<text x="259.70" y="247.70" font-size="11.20" font-weight="normal" text-anchor="middle" fill="#141414" stroke="#141414" stroke-width="0.70" >4000</text>
<line x1="319.30" y1="233.00" x2="319.30" y2="235.20" stroke="#222" stroke-width="1"/>
<text x="319.70" y="247.70" font-size="11.20" font-weight="normal" text-anchor="middle" fill="#141414" stroke="#141414" stroke-width="0.70" >6000</text>
<line x1="379.30" y1="233.00" x2="379.30" y2="235.20" stroke="#222" stroke-width="1"/>
<text x="379.70" y="247.70" font-size="11.20" font-weight="normal" text-anchor="middle" fill="#141414" stroke="#141414" stroke-width="0.70" >8000</text>
<line x1="439.30" y1="233.00" x2="439.30" y2="235.20" stroke="#222" stroke-width="1"/>
<text x="439.70" y="247.70" font-size="11.20" font-weight="normal" text-anchor="middle" fill="#141414" stroke="#141414" stroke-width="0.70" >10000</text>
<text x="0.00" y="106.40" font-size="13.60" font-weight="normal" text-anchor="start" fill="#111" textLength="53.5" lengthAdjust="spacingAndGlyphs" stroke="#111" stroke-width="0.45" >CHIP-seq</text>
<text x="12.40" y="119.60" font-size="13.60" font-weight="normal" text-anchor="start" fill="#111" textLength="29.0" lengthAdjust="spacingAndGlyphs" stroke="#111" stroke-width="0.45" >Read</text>
<text x="4.40" y="132.90" font-size="13.60" font-weight="normal" text-anchor="start" fill="#111" textLength="45.0" lengthAdjust="spacingAndGlyphs" stroke="#111" stroke-width="0.45" >Density</text>
<text x="116.50" y="262.40" font-size="12.60" font-weight="normal" text-anchor="start" fill="#111" textLength="283.0" lengthAdjust="spacingAndGlyphs" stroke="#111" stroke-width="0.45" >Position Relative to Transcription Start Site (bp)</text>
<text x="346.60" y="11.60" font-size="15.00" font-weight="normal" text-anchor="start" fill="#111" textLength="116.0" lengthAdjust="spacingAndGlyphs" stroke="#111" stroke-width="0.45" >Chromatin Mark</text>
<text x="346.60" y="26.20" font-size="15.00" font-weight="normal" text-anchor="start" fill="#111" textLength="86.0" lengthAdjust="spacingAndGlyphs" stroke="#111" stroke-width="0.45" >Distribution</text>
<text x="346.60" y="40.80" font-size="15.00" font-weight="normal" text-anchor="start" fill="#111" textLength="63.0" lengthAdjust="spacingAndGlyphs" stroke="#111" stroke-width="0.45" >in B Cells</text>
<line x1="344.6" y1="60.90" x2="360.4" y2="60.90" stroke="#929e5e" stroke-width="2.2"/>
<text x="363.40" y="64.20" font-size="12.80" font-weight="normal" text-anchor="start" fill="#111" textLength="56.3" lengthAdjust="spacingAndGlyphs" stroke="#111" stroke-width="0.55" >H3K4me1</text>
<line x1="344.6" y1="80.30" x2="360.4" y2="80.30" stroke="#4a4072" stroke-width="2.2"/>
<text x="363.40" y="83.60" font-size="12.80" font-weight="normal" text-anchor="start" fill="#111" textLength="58.2" lengthAdjust="spacingAndGlyphs" stroke="#111" stroke-width="0.55" >H3K4me3</text>
<line x1="344.6" y1="99.70" x2="360.4" y2="99.70" stroke="#6a98aa" stroke-width="2.2"/>
<text x="363.40" y="103.00" font-size="12.80" font-weight="normal" text-anchor="start" fill="#111" textLength="65.3" lengthAdjust="spacingAndGlyphs" stroke="#111" stroke-width="0.55" >H3K27me3</text>
<line x1="344.6" y1="119.10" x2="360.4" y2="119.10" stroke="#7a3a3d" stroke-width="2.2"/>
<text x="363.40" y="122.40" font-size="12.80" font-weight="normal" text-anchor="start" fill="#111" textLength="32.3" lengthAdjust="spacingAndGlyphs" stroke="#111" stroke-width="0.55" >H3Ac</text>
<line x1="344.6" y1="138.50" x2="360.4" y2="138.50" stroke="#4c5c96" stroke-width="2.2"/>
<text x="363.40" y="141.80" font-size="12.80" font-weight="normal" text-anchor="start" fill="#111" textLength="65.9" lengthAdjust="spacingAndGlyphs" stroke="#111" stroke-width="0.55" >H3K36me3</text>
<line x1="344.6" y1="157.90" x2="360.4" y2="157.90" stroke="#c4874a" stroke-width="2.2"/>
<text x="363.40" y="161.20" font-size="12.80" font-weight="normal" text-anchor="start" fill="#111" textLength="24.5" lengthAdjust="spacingAndGlyphs" stroke="#111" stroke-width="0.55" >PolII</text>
<line x1="126.30" y1="300.00" x2="126.30" y2="390.40" stroke="#2a2a2a" stroke-width="1.7" stroke-dasharray="3.8 3.4"/>
<path d="M70.60 379.77 L70.95 379.08 L71.37 378.41 L71.85 377.91 L72.39 378.63 L72.98 379.34 L73.61 380.10 L74.28 380.13 L74.97 380.08 L75.67 380.11 L76.39 379.77 L77.10 379.61 L77.81 378.77 L78.50 377.95 L79.16 378.70 L79.80 379.10 L80.38 379.65 L80.96 379.63 L81.54 379.31 L82.12 378.30 L82.70 378.69 L83.28 378.34 L83.87 378.61 L84.45 378.60 L85.03 378.55 L85.62 378.20 L86.20 378.16 L86.78 377.45 L87.36 377.34 L87.94 376.89 L88.52 376.65 L89.10 377.04 L89.68 377.15 L90.25 376.89 L90.83 376.46 L91.41 375.48 L91.98 375.73 L92.56 375.14 L93.13 374.58 L93.71 374.95 L94.28 374.52 L94.85 374.51 L95.43 373.58 L96.00 373.77 L96.58 374.18 L97.15 373.83 L97.73 373.87 L98.30 373.34 L98.78 373.14 L99.27 372.43 L99.75 371.57 L100.24 371.88 L100.72 371.53 L101.20 371.63 L101.69 370.59 L102.17 369.58 L102.65 369.19 L103.14 368.89 L103.62 367.65 L104.10 366.66 L104.59 366.71 L105.07 365.67 L105.56 364.99 L106.04 365.78 L106.53 366.31 L107.01 366.54 L107.50 365.61 L108.05 365.97 L108.61 365.16 L109.18 365.21 L109.76 364.30 L110.34 364.66 L110.92 363.54 L111.50 362.45 L112.08 361.79 L112.66 361.94 L113.22 361.08 L113.78 361.39 L114.33 361.83 L114.86 362.08 L115.37 362.27 L115.87 362.10 L116.35 361.63 L116.80 361.27 L117.53 360.40 L118.21 360.20 L118.86 360.12 L119.47 359.88 L120.04 360.35 L120.59 360.46 L121.10 359.67 L121.59 359.99 L122.06 359.16 L122.50 358.69 L122.90 357.44 L123.26 357.24 L123.57 355.79 L123.85 354.65 L124.11 354.82 L124.36 354.87 L124.61 354.12 L124.88 353.97 L125.17 353.34 L125.50 352.17 L125.94 351.69 L126.39 352.43 L126.85 353.60 L127.33 354.21 L127.83 355.61 L128.36 356.72 L128.91 356.02 L129.50 355.44 L129.96 355.78 L130.45 356.33 L130.96 355.96 L131.49 355.81 L132.04 355.29 L132.59 354.83 L133.14 353.43 L133.68 353.60 L134.21 353.69 L134.72 353.86 L135.20 354.29 L135.69 354.36 L136.15 353.52 L136.59 353.83 L137.00 353.27 L137.42 354.27 L137.84 355.55 L138.28 355.48 L138.74 355.41 L139.25 356.72 L139.80 358.02 L140.15 357.76 L140.51 358.69 L140.89 359.37 L141.28 358.90 L141.69 359.58 L142.10 360.85 L142.52 360.90 L142.94 360.47 L143.37 360.27 L143.81 361.32 L144.24 362.79 L144.68 362.69 L145.11 363.52 L145.54 364.02 L145.97 364.40 L146.39 365.07 L146.80 365.24 L147.33 365.42 L147.84 365.83 L148.35 366.71 L148.86 367.21 L149.36 367.11 L149.86 367.21 L150.37 366.90 L150.88 368.04 L151.41 368.29 L151.95 368.04 L152.51 369.29 L153.09 369.78 L153.70 370.59 L154.18 370.52 L154.68 370.25 L155.18 370.11 L155.70 370.80 L156.23 371.92 L156.77 371.73 L157.32 371.98 L157.87 372.25 L158.43 372.72 L158.99 373.50 L159.55 373.84 L160.12 373.09 L160.68 373.74 L161.24 373.88 L161.80 374.82 L162.35 375.40 L162.90 375.77 L163.52 376.47 L164.14 376.77 L164.76 375.95 L165.39 376.56 L166.01 376.41 L166.64 376.21 L167.27 375.70 L167.89 376.16 L168.52 376.13 L169.14 376.09 L169.76 376.00 L170.38 376.64 L170.99 376.48 L171.60 376.55 L172.20 375.54 L172.86 374.87 L173.55 375.00 L174.26 375.88 L174.98 376.59 L175.71 376.71 L176.43 376.54 L177.13 376.94 L177.81 377.85 L178.46 377.52 L179.07 377.93 L179.62 377.22 L180.12 377.45 L180.55 377.16 L180.90 378.25" fill="none" stroke="#614e9a" stroke-width="2.00" stroke-linejoin="round" stroke-linecap="round"/>
<path d="M70.60 363.71 L70.90 363.09 L71.28 362.87 L71.72 362.22 L72.21 361.98 L72.75 361.25 L73.32 361.20 L73.91 361.10 L74.52 360.60 L75.14 360.82 L75.76 359.73 L76.36 360.26 L76.95 359.80 L77.50 359.02 L78.09 358.74 L78.69 358.59 L79.30 357.85 L79.91 358.35 L80.53 358.63 L81.14 358.75 L81.75 358.89 L82.34 359.36 L82.92 359.03 L83.47 358.80 L84.00 359.12 L84.50 359.15 L84.94 357.97 L85.35 356.84 L85.75 357.01 L86.13 356.56 L86.50 355.16 L86.85 354.23 L87.19 353.57 L87.53 353.04 L87.85 352.30 L88.17 351.71 L88.48 351.55 L88.79 351.91 L89.10 351.82 L89.73 351.78 L90.32 350.37 L90.87 349.75 L91.40 350.20 L91.94 350.08 L92.50 349.54 L93.19 349.08 L93.89 349.78 L94.60 350.55 L95.30 350.42 L96.00 350.08 L96.27 349.85 L96.54 349.55 L96.81 348.71 L97.08 348.48 L97.35 347.87 L97.62 347.68 L97.89 347.33 L98.16 345.98 L98.43 345.14 L98.70 344.17 L98.97 342.89 L99.23 342.05 L99.50 342.31 L99.75 341.52 L99.99 340.41 L100.23 339.95 L100.48 339.75 L100.72 339.75 L100.96 338.90 L101.20 338.55 L101.44 337.59 L101.68 337.80 L101.92 337.00 L102.17 336.75 L102.41 336.54 L102.65 335.89 L102.90 334.83 L103.07 334.40 L103.23 333.72 L103.41 333.22 L103.58 333.07 L103.75 331.89 L103.93 330.76 L104.10 329.66 L104.28 328.93 L104.46 328.74 L104.63 327.68 L104.81 327.00 L104.98 327.04 L105.15 325.79 L105.32 324.50 L105.48 323.31 L105.65 323.33 L105.81 322.23 L105.96 321.73 L106.11 321.75 L106.26 321.41 L106.40 321.18 L107.06 320.31 L107.63 319.40 L108.15 319.91 L108.70 320.15 L109.16 320.56 L109.62 319.99 L110.08 319.53 L110.54 318.30 L111.00 317.59 L111.26 316.52 L111.51 316.22 L111.77 315.12 L112.02 315.00 L112.28 313.89 L112.53 312.85 L112.79 312.32 L113.04 312.57 L113.30 312.23 L113.68 312.96 L114.07 313.41 L114.45 313.27 L114.83 314.31 L115.22 314.46 L115.60 315.78 L115.76 316.17 L115.92 316.62 L116.07 317.52 L116.22 317.75 L116.37 317.80 L116.52 317.80 L116.67 318.42 L116.83 319.24 L116.99 319.66 L117.16 320.40 L117.33 321.39 L117.51 322.10 L117.70 322.33 L117.90 323.67 L117.97 323.43 L118.04 323.79 L118.11 324.53 L118.19 324.99 L118.27 326.11 L118.34 326.22 L118.42 326.80 L118.50 327.76 L118.58 328.35 L118.67 328.55 L118.75 329.66 L118.83 330.77 L118.92 331.31 L119.00 332.38 L119.09 333.36 L119.18 333.38 L119.26 333.05 L119.35 333.20 L119.44 334.61 L119.53 335.48 L119.62 335.29 L119.71 336.45 L119.80 337.65 L119.89 338.49 L119.98 339.37 L120.06 340.23 L120.15 340.13 L120.24 340.85 L120.33 340.73 L120.42 341.74 L120.50 342.62 L120.59 343.61 L120.67 344.51 L120.76 345.55 L120.84 345.16 L120.93 346.08 L121.01 347.05 L121.09 347.29 L121.17 347.54 L121.25 347.53 L121.32 347.89 L121.40 348.09 L121.49 349.23 L121.58 349.74 L121.68 350.11 L121.77 351.73 L121.86 351.78 L121.95 352.83 L122.04 352.89 L122.13 353.98 L122.22 354.42 L122.31 354.58 L122.39 354.91 L122.48 355.34 L122.57 356.56 L122.65 357.73 L122.74 358.52 L122.82 359.61 L122.91 360.39 L122.99 360.83 L123.07 360.71 L123.15 361.57 L123.23 362.85 L123.31 363.98 L123.39 364.13 L123.47 364.74 L123.55 365.80 L123.62 365.57 L123.70 365.84 L123.77 366.06 L123.85 366.91 L123.92 366.93 L123.99 366.94 L124.06 368.17 L124.13 368.47 L124.20 369.23 L124.31 370.16 L124.41 371.25 L124.51 371.84 L124.60 372.41 L124.69 373.90 L124.77 374.57 L124.86 375.03 L124.94 375.49 L125.02 376.89 L125.09 377.59 L125.17 378.18 L125.25 379.19 L125.32 378.98 L125.40 380.00 L125.48 380.33 L125.56 380.20 L125.64 381.14 L125.73 381.09 L125.81 380.88 L125.90 381.28 L126.00 381.21 L126.20 381.71 L126.39 382.17 L126.58 382.10 L126.77 382.47 L126.98 381.37 L127.19 380.94 L127.43 379.66 L127.68 378.33 L127.97 376.78 L128.30 375.19 L128.41 374.59 L128.53 374.34 L128.65 374.52 L128.78 374.32 L128.91 374.30 L129.05 374.20 L129.18 373.17 L129.32 372.62 L129.47 372.47 L129.61 372.13 L129.76 371.66 L129.91 371.00 L130.07 370.48 L130.22 369.46 L130.38 369.32 L130.54 368.66 L130.69 367.84 L130.85 367.16 L131.01 366.13 L131.17 366.17 L131.34 365.99 L131.50 364.94 L131.66 363.78 L131.82 363.70 L131.97 362.49 L132.13 361.13 L132.29 361.21 L132.45 360.73 L132.60 359.34 L132.75 358.93 L132.90 357.61 L133.05 356.75 L133.20 356.30 L133.35 356.52 L133.50 355.96 L133.65 355.43 L133.81 354.24 L133.96 354.08 L134.11 353.95 L134.27 352.96 L134.42 352.59 L134.58 352.32 L134.73 351.13 L134.89 349.90 L135.04 350.00 L135.19 349.00 L135.35 348.30 L135.50 348.11 L135.65 347.95 L135.80 347.39 L135.95 346.74 L136.10 346.20 L136.24 345.68 L136.39 345.15 L136.54 345.12 L136.68 344.56 L136.82 344.29 L136.96 342.83 L137.10 342.23 L137.23 341.66 L137.37 341.62 L137.50 340.62 L137.65 340.24 L137.79 339.23 L137.94 338.02 L138.08 337.80 L138.22 337.65 L138.35 336.93 L138.49 336.75 L138.62 336.30 L138.75 335.75 L138.88 334.02 L139.00 332.99 L139.13 331.69 L139.26 331.53 L139.38 331.35 L139.50 331.14 L139.63 331.07 L139.75 329.86 L139.87 328.41 L140.00 327.31 L140.12 327.44 L140.24 327.37 L140.37 326.15 L140.49 326.24 L140.62 326.13 L140.74 325.95 L140.87 325.58 L141.00 324.62 L141.19 323.06 L141.39 321.95 L141.58 321.73 L141.78 320.88 L141.98 320.84 L142.17 320.12 L142.37 318.65 L142.56 317.72 L142.76 317.03 L142.95 316.20 L143.15 315.39 L143.34 315.15 L143.54 314.79 L143.73 314.54 L143.92 313.49 L144.12 312.90 L144.31 313.31 L144.50 313.38 L145.08 312.48 L145.67 311.88 L146.26 311.95 L146.83 312.06 L147.38 312.31 L147.90 312.99 L148.27 313.10 L148.62 312.45 L148.95 312.27 L149.28 312.33 L149.59 312.87 L149.90 314.55 L150.20 315.10 L150.50 315.57 L150.74 315.76 L150.97 315.95 L151.20 317.41 L151.42 318.29 L151.64 319.30 L151.85 320.44 L152.07 320.38 L152.28 320.77 L152.49 320.70 L152.70 321.42 L153.04 321.37 L153.36 321.12 L153.67 320.04 L153.99 318.53 L154.33 317.58 L154.70 317.69 L155.31 317.47 L155.96 317.43 L156.66 317.71 L157.40 318.44 L157.78 319.54 L158.17 320.65 L158.57 320.75 L158.97 321.23 L159.40 321.47 L159.84 322.66 L160.31 323.54 L160.80 324.11 L161.23 323.95 L161.69 324.33 L162.18 324.71 L162.68 324.83 L163.19 324.95 L163.70 326.45 L164.20 326.89 L164.67 327.09 L165.11 327.04 L165.50 328.15 L166.29 328.54 L166.89 327.25 L167.48 326.97 L168.20 327.07 L168.59 327.36 L169.01 327.13 L169.46 327.60 L169.92 328.98 L170.39 329.97 L170.86 329.69 L171.33 329.63 L171.77 329.64 L172.20 329.87 L172.93 330.78 L173.64 330.48 L174.32 330.90 L174.97 330.75 L175.60 330.73 L176.18 331.01 L176.73 331.53 L177.25 331.43 L177.77 331.58 L178.30 331.29 L179.04 331.28 L179.82 331.13 L180.51 331.66 L181.00 330.72" fill="none" stroke="#a54242" stroke-width="2.10" stroke-linejoin="round" stroke-linecap="round"/>
<path d="M70.60 374.03 L70.95 373.84 L71.37 373.98 L71.85 374.00 L72.39 373.81 L72.98 373.73 L73.61 373.47 L74.28 373.26 L74.97 373.11 L75.67 373.11 L76.39 372.88 L77.10 372.95 L77.81 372.60 L78.50 372.37 L79.16 372.12 L79.80 372.15 L80.38 371.96 L80.96 371.81 L81.54 371.60 L82.12 371.52 L82.70 371.31 L83.28 371.03 L83.87 370.87 L84.45 370.64 L85.03 370.34 L85.62 370.32 L86.20 370.16 L86.78 369.95 L87.36 369.78 L87.94 369.39 L88.52 369.02 L89.10 368.67 L89.59 368.37 L90.08 368.17 L90.58 367.69 L91.08 367.44 L91.59 367.19 L92.09 366.85 L92.60 366.38 L93.10 366.21 L93.60 365.72 L94.10 365.47 L94.59 365.02 L95.08 364.55 L95.57 364.16 L96.05 363.71 L96.52 363.30 L96.98 363.06 L97.43 362.75 L97.87 362.23 L98.30 361.83 L98.66 361.37 L99.02 360.91 L99.37 360.57 L99.71 359.94 L100.05 359.55 L100.38 359.03 L100.70 358.49 L101.02 357.69 L101.34 357.01 L101.65 356.35 L101.96 355.84 L102.27 355.52 L102.57 355.07 L102.87 354.56 L103.17 353.78 L103.46 353.30 L103.75 352.83 L104.04 352.35 L104.33 351.86 L104.62 351.14 L104.91 350.54 L105.20 350.24 L105.60 349.70 L105.99 349.21 L106.38 348.54 L106.77 348.08 L107.16 347.33 L107.54 346.97 L107.92 346.53 L108.29 345.88 L108.65 345.20 L109.01 344.78 L109.36 344.41 L109.71 343.88 L110.05 343.29 L110.37 342.85 L110.69 342.62 L111.00 342.06 L111.47 341.60 L111.92 340.80 L112.34 340.04 L112.74 339.30 L113.12 338.95 L113.50 338.52 L113.86 337.91 L114.21 337.37 L114.55 337.21 L114.90 337.23 L115.31 337.01 L115.70 337.25 L116.07 337.69 L116.43 338.07 L116.78 338.65 L117.14 339.43 L117.51 340.08 L117.90 340.91 L118.06 341.40 L118.23 341.84 L118.40 342.29 L118.57 342.69 L118.74 343.36 L118.92 343.75 L119.09 344.34 L119.27 345.01 L119.45 345.47 L119.63 345.86 L119.80 346.41 L119.98 346.94 L120.16 347.54 L120.34 348.16 L120.52 348.88 L120.70 349.59 L120.88 350.31 L121.05 351.10 L121.23 351.86 L121.40 352.60 L121.53 353.04 L121.66 353.67 L121.79 354.26 L121.92 354.73 L122.05 355.44 L122.18 356.07 L122.31 356.86 L122.45 357.65 L122.58 358.24 L122.71 358.96 L122.84 359.69 L122.97 360.36 L123.10 360.95 L123.23 361.60 L123.36 362.59 L123.49 363.36 L123.62 363.97 L123.74 364.66 L123.87 365.16 L123.99 365.84 L124.11 366.53 L124.23 367.06 L124.35 367.43 L124.47 367.98 L124.58 368.41 L124.69 368.46 L124.80 368.68 L125.19 369.25 L125.53 369.20 L125.85 368.86 L126.15 367.99 L126.47 367.20 L126.81 366.30 L127.20 365.12 L127.38 364.81 L127.57 364.27 L127.76 363.87 L127.95 363.43 L128.15 363.04 L128.35 362.51 L128.55 361.78 L128.76 361.23 L128.98 360.44 L129.19 359.92 L129.42 359.24 L129.64 358.51 L129.87 357.80 L130.11 357.11 L130.35 356.64 L130.60 355.85 L130.80 355.29 L131.01 354.71 L131.22 354.12 L131.44 353.74 L131.67 353.22 L131.89 352.70 L132.12 352.23 L132.35 351.55 L132.59 350.74 L132.82 350.08 L133.06 349.55 L133.30 349.07 L133.54 348.61 L133.78 347.96 L134.02 347.24 L134.26 346.71 L134.50 346.29 L134.73 345.61 L134.97 345.21 L135.20 344.75 L135.47 344.07 L135.75 343.37 L136.02 342.58 L136.30 341.86 L136.58 341.16 L136.86 340.71 L137.14 340.24 L137.42 339.83 L137.70 339.23 L137.98 338.79 L138.25 338.11 L138.52 337.41 L138.79 336.77 L139.05 336.29 L139.30 335.92 L139.56 335.71 L139.80 335.19 L140.30 334.31 L140.78 333.71 L141.24 333.02 L141.68 332.49 L142.12 331.91 L142.54 331.75 L142.97 331.66 L143.40 331.60 L143.83 331.76 L144.24 331.83 L144.66 332.00 L145.06 332.46 L145.47 333.23 L145.88 333.82 L146.28 334.35 L146.70 334.92 L146.98 335.33 L147.26 335.90 L147.54 336.65 L147.83 337.33 L148.11 337.94 L148.39 338.55 L148.68 338.96 L148.96 339.66 L149.25 340.11 L149.53 340.71 L149.82 341.10 L150.10 341.84 L150.43 342.28 L150.75 342.92 L151.06 343.53 L151.37 344.09 L151.68 344.65 L152.00 345.07 L152.34 345.69 L152.70 346.32 L153.08 346.82 L153.50 347.48 L153.85 347.95 L154.22 348.16 L154.62 348.71 L155.03 349.05 L155.45 349.67 L155.89 350.14 L156.33 350.80 L156.76 351.10 L157.20 351.79 L157.62 352.04 L158.03 352.35 L158.43 352.64 L158.80 352.98 L159.45 353.79 L160.06 354.28 L160.65 354.66 L161.21 354.69 L161.77 354.97 L162.33 355.30 L162.90 355.67 L163.40 355.90 L163.89 356.49 L164.38 356.96 L164.86 357.43 L165.35 357.75 L165.85 358.16 L166.37 358.69 L166.90 359.06 L167.45 359.38 L168.01 359.84 L168.59 360.05 L169.18 360.44 L169.77 360.47 L170.37 360.77 L170.98 361.11 L171.60 361.16 L172.16 361.51 L172.74 361.64 L173.34 361.93 L173.94 362.17 L174.54 362.21 L175.13 362.60 L175.71 362.64 L176.27 362.69 L176.80 362.89 L177.48 362.97 L178.17 363.11 L178.85 363.50 L179.49 363.55 L180.06 363.79 L180.54 364.09 L180.90 364.13" fill="none" stroke="#0a0a0a" stroke-width="2.35" stroke-linejoin="round" stroke-linecap="round"/>
<rect x="67.40" y="297.60" width="117.20" height="93.30" fill="none" stroke="#1e1e1e" stroke-width="1.3"/>
<line x1="71.50" y1="387.90" x2="71.50" y2="390.90" stroke="#1e1e1e" stroke-width="1.1"/>
<line x1="89.70" y1="387.90" x2="89.70" y2="390.90" stroke="#1e1e1e" stroke-width="1.1"/>
<line x1="107.90" y1="387.90" x2="107.90" y2="390.90" stroke="#1e1e1e" stroke-width="1.1"/>
<line x1="126.10" y1="387.90" x2="126.10" y2="390.90" stroke="#1e1e1e" stroke-width="1.1"/>
<line x1="144.30" y1="387.90" x2="144.30" y2="390.90" stroke="#1e1e1e" stroke-width="1.1"/>
<line x1="162.50" y1="387.90" x2="162.50" y2="390.90" stroke="#1e1e1e" stroke-width="1.1"/>
<line x1="180.70" y1="387.90" x2="180.70" y2="390.90" stroke="#1e1e1e" stroke-width="1.1"/>
<text x="73.60" y="310.10" font-size="9.20" font-weight="bold" text-anchor="start" fill="#161616" textLength="32.6" lengthAdjust="spacingAndGlyphs" >p&lt;0.001</text>
<line x1="248.85" y1="300.00" x2="248.85" y2="390.40" stroke="#2a2a2a" stroke-width="1.7" stroke-dasharray="3.8 3.4"/>
<path d="M192.10 381.16 L192.44 380.53 L192.84 379.94 L193.30 379.94 L193.81 380.65 L194.37 380.40 L194.97 381.22 L195.60 381.36 L196.26 381.31 L196.94 381.44 L197.64 381.48 L198.34 381.41 L199.05 381.86 L199.76 381.97 L200.45 381.75 L201.13 380.70 L201.78 380.23 L202.41 379.72 L203.00 380.57 L203.60 381.29 L204.20 380.79 L204.78 381.00 L205.37 379.92 L205.94 380.39 L206.52 379.34 L207.08 379.78 L207.65 379.75 L208.21 380.05 L208.77 380.02 L209.33 379.41 L209.89 378.26 L210.45 377.52 L211.01 378.04 L211.57 378.05 L212.13 376.87 L212.70 377.25 L213.27 376.31 L213.83 375.44 L214.40 376.27 L214.96 376.87 L215.53 376.33 L216.09 376.63 L216.66 375.82 L217.22 375.09 L217.78 375.52 L218.34 374.93 L218.91 374.10 L219.47 374.75 L220.04 374.56 L220.60 374.78 L221.17 375.03 L221.73 374.76 L222.30 373.57 L222.78 372.73 L223.27 373.17 L223.75 372.82 L224.23 371.93 L224.72 372.12 L225.20 372.36 L225.69 371.23 L226.17 371.00 L226.66 371.37 L227.14 370.14 L227.63 370.19 L228.12 369.55 L228.60 369.53 L229.09 368.32 L229.57 368.05 L230.06 367.22 L230.54 366.34 L231.03 366.79 L231.51 365.73 L232.00 364.93 L232.49 365.53 L232.99 364.66 L233.50 365.27 L234.02 364.72 L234.54 364.56 L235.06 364.27 L235.59 363.39 L236.11 362.71 L236.63 362.06 L237.15 361.22 L237.66 360.85 L238.17 361.00 L238.66 359.94 L239.14 358.98 L239.61 358.68 L240.07 358.69 L240.51 358.12 L240.92 357.50 L241.32 356.92 L241.70 357.77 L242.56 358.14 L243.31 357.65 L243.98 357.69 L244.57 358.01 L245.12 359.24 L245.63 359.63 L246.12 359.15 L246.60 359.17 L246.84 359.92 L247.06 359.59 L247.27 359.86 L247.48 358.85 L247.67 358.34 L247.86 357.63 L248.03 356.95 L248.21 356.67 L248.37 355.41 L248.54 353.86 L248.70 353.24 L248.86 352.62 L249.02 351.80 L249.18 351.94 L249.34 350.49 L249.50 350.48 L249.98 349.77 L250.40 348.77 L250.82 348.52 L251.30 348.88 L251.90 348.97 L252.30 349.50 L252.74 349.02 L253.20 348.60 L253.70 349.18 L254.21 348.82 L254.73 349.92 L255.26 350.13 L255.78 350.73 L256.30 351.61 L256.69 351.25 L257.08 351.23 L257.47 352.42 L257.87 352.39 L258.27 353.42 L258.67 353.45 L259.07 354.93 L259.48 355.66 L259.88 356.37 L260.29 356.91 L260.70 357.45 L261.10 358.45 L261.40 358.11 L261.69 359.44 L261.98 360.59 L262.26 360.43 L262.55 359.97 L262.83 360.84 L263.11 361.92 L263.40 362.62 L263.69 363.44 L263.99 364.46 L264.30 365.40 L264.61 364.98 L264.94 365.75 L265.28 366.10 L265.63 366.82 L266.00 367.28 L266.41 367.26 L266.83 367.79 L267.25 367.70 L267.69 367.63 L268.14 368.50 L268.59 369.03 L269.06 368.78 L269.54 368.50 L270.03 369.44 L270.53 369.27 L271.04 369.50 L271.56 370.29 L272.10 370.43 L272.64 371.15 L273.20 372.07 L273.71 371.84 L274.23 371.89 L274.76 372.56 L275.31 372.92 L275.87 373.05 L276.44 373.44 L277.02 374.07 L277.60 374.11 L278.19 373.66 L278.78 373.30 L279.38 374.24 L279.97 375.06 L280.56 375.02 L281.16 375.18 L281.74 376.12 L282.33 376.59 L282.90 376.38 L283.47 375.86 L284.06 376.69 L284.64 377.50 L285.23 377.57 L285.83 377.46 L286.42 378.53 L287.01 379.10 L287.61 378.61 L288.19 378.05 L288.78 379.10 L289.35 378.93 L289.92 378.68 L290.48 379.66 L291.03 379.41 L291.57 379.62 L292.09 380.40 L292.60 380.33 L293.30 379.84 L293.97 380.44 L294.62 380.40 L295.26 379.38 L295.88 379.81 L296.48 379.77 L297.07 378.69 L297.65 377.56 L298.22 378.06 L298.79 376.93 L299.34 377.37 L299.90 378.06 L300.58 377.63 L301.28 377.14 L301.98 376.79 L302.68 377.27 L303.36 377.63 L303.99 378.07 L304.58 377.80 L305.10 377.71 L305.55 378.20 L305.90 378.49" fill="none" stroke="#614e9a" stroke-width="2.00" stroke-linejoin="round" stroke-linecap="round"/>
<path d="M192.10 368.72 L192.44 368.17 L192.87 368.87 L193.36 368.87 L193.92 368.77 L194.53 369.17 L195.17 368.16 L195.84 368.41 L196.54 367.70 L197.24 367.17 L197.94 366.84 L198.62 367.18 L199.28 367.70 L199.91 367.71 L200.50 367.11 L201.16 366.33 L201.82 365.98 L202.49 365.59 L203.15 365.70 L203.81 365.78 L204.45 365.22 L205.08 364.90 L205.68 365.62 L206.26 365.84 L206.81 365.03 L207.32 365.50 L207.80 365.13 L208.30 364.60 L208.72 364.69 L209.07 364.44 L209.39 363.73 L209.68 362.98 L209.96 362.50 L210.25 362.44 L210.58 362.05 L210.96 360.69 L211.40 359.45 L211.76 359.04 L212.15 358.54 L212.57 358.80 L213.00 358.64 L213.45 357.73 L213.91 357.36 L214.38 357.21 L214.85 356.84 L215.31 356.11 L215.78 356.09 L216.23 355.33 L216.67 355.68 L217.10 354.88 L217.50 354.31 L217.80 354.29 L218.09 353.46 L218.37 353.52 L218.65 352.90 L218.92 352.28 L219.19 351.20 L219.46 350.39 L219.72 349.93 L219.97 349.88 L220.23 348.69 L220.49 348.69 L220.74 348.67 L221.00 347.25 L221.25 346.89 L221.51 345.88 L221.77 344.79 L222.03 345.16 L222.30 344.23 L222.60 343.61 L222.91 343.45 L223.21 343.06 L223.52 343.08 L223.83 343.08 L224.13 342.19 L224.44 340.86 L224.75 340.83 L225.06 339.65 L225.37 338.95 L225.67 338.08 L225.98 338.21 L226.29 337.23 L226.59 337.27 L226.90 336.75 L227.20 336.31 L227.47 336.09 L227.74 335.18 L228.02 334.10 L228.29 333.98 L228.57 333.59 L228.85 332.82 L229.12 331.75 L229.40 330.77 L229.68 330.32 L229.95 330.18 L230.22 329.38 L230.49 328.22 L230.75 327.89 L231.01 327.18 L231.26 327.30 L231.52 327.21 L231.76 326.75 L232.00 325.67 L232.39 325.39 L232.77 324.72 L233.14 324.52 L233.51 324.28 L233.87 323.00 L234.22 322.15 L234.55 321.81 L234.86 320.76 L235.16 319.98 L235.44 320.14 L235.70 319.18 L236.23 317.97 L236.59 316.76 L236.92 317.18 L237.40 317.78 L237.59 318.37 L237.79 318.98 L238.01 318.63 L238.23 319.37 L238.46 319.36 L238.70 319.56 L238.95 319.42 L239.20 319.82 L239.46 320.51 L239.71 321.95 L239.98 322.86 L240.24 323.55 L240.50 324.96 L240.59 325.10 L240.67 326.09 L240.76 326.25 L240.85 326.31 L240.94 326.76 L241.03 327.52 L241.12 328.32 L241.21 328.52 L241.31 329.21 L241.40 330.05 L241.50 330.18 L241.59 330.57 L241.69 331.20 L241.78 332.38 L241.88 332.43 L241.98 332.83 L242.07 334.25 L242.17 334.92 L242.27 334.80 L242.36 335.70 L242.46 337.18 L242.56 337.77 L242.65 338.80 L242.75 339.79 L242.84 339.68 L242.94 340.88 L243.04 340.68 L243.13 340.77 L243.22 341.91 L243.32 342.50 L243.41 343.64 L243.50 344.17 L243.59 344.93 L243.68 345.63 L243.77 346.58 L243.86 347.66 L243.95 348.80 L244.03 348.93 L244.12 350.07 L244.20 349.65 L244.28 350.50 L244.36 351.12 L244.45 350.93 L244.53 351.29 L244.61 352.38 L244.69 352.34 L244.77 353.04 L244.85 354.13 L244.93 354.42 L245.00 355.30 L245.08 355.37 L245.16 355.72 L245.24 356.06 L245.31 357.13 L245.39 357.94 L245.47 359.29 L245.54 360.35 L245.62 361.38 L245.69 361.20 L245.76 361.93 L245.84 363.40 L245.91 363.97 L245.98 364.68 L246.05 365.64 L246.12 365.55 L246.19 366.87 L246.26 367.08 L246.33 367.59 L246.40 368.84 L246.46 368.49 L246.53 369.41 L246.60 369.32 L246.66 370.34 L246.73 370.53 L246.79 371.46 L246.85 371.88 L246.92 372.60 L246.98 373.57 L247.04 374.15 L247.10 374.72 L247.24 374.99 L247.37 376.22 L247.49 377.19 L247.61 377.37 L247.72 378.14 L247.82 378.87 L247.93 379.51 L248.03 380.47 L248.13 380.45 L248.23 381.69 L248.33 382.80 L248.44 382.39 L248.54 382.12 L248.65 382.59 L248.76 382.83 L248.88 383.05 L249.00 383.21 L249.16 383.04 L249.32 383.05 L249.47 382.83 L249.62 382.47 L249.77 382.68 L249.93 382.32 L250.10 382.40 L250.27 382.07 L250.46 381.53 L250.67 379.98 L250.89 379.11 L251.13 377.79 L251.40 375.89 L251.49 375.10 L251.58 374.12 L251.68 373.82 L251.78 373.77 L251.88 372.81 L251.98 372.79 L252.09 372.08 L252.20 371.18 L252.31 370.29 L252.42 370.34 L252.54 369.65 L252.65 369.34 L252.77 368.80 L252.89 368.71 L253.01 368.50 L253.14 368.38 L253.26 367.97 L253.38 367.10 L253.51 366.32 L253.64 365.32 L253.76 364.07 L253.89 363.20 L254.02 362.84 L254.15 362.09 L254.28 362.24 L254.41 362.12 L254.54 361.06 L254.67 360.72 L254.80 360.11 L254.93 359.00 L255.06 358.42 L255.18 356.98 L255.31 356.16 L255.44 355.76 L255.57 355.39 L255.69 355.08 L255.82 354.99 L255.94 354.81 L256.06 354.35 L256.18 353.52 L256.30 352.53 L256.41 351.56 L256.52 350.66 L256.63 349.49 L256.73 348.72 L256.84 348.35 L256.95 347.61 L257.06 346.68 L257.17 346.55 L257.28 345.78 L257.39 345.41 L257.51 344.26 L257.62 343.98 L257.73 343.33 L257.84 343.50 L257.95 342.17 L258.06 341.28 L258.17 341.15 L258.28 340.45 L258.39 340.02 L258.50 340.07 L258.61 339.31 L258.72 337.91 L258.83 336.82 L258.94 336.69 L259.05 335.41 L259.16 335.35 L259.26 334.34 L259.37 333.33 L259.48 333.54 L259.59 333.04 L259.69 331.98 L259.80 331.97 L259.90 331.72 L260.01 331.67 L260.11 331.49 L260.21 330.53 L260.31 330.29 L260.42 328.72 L260.52 328.30 L260.62 327.41 L260.71 326.78 L260.81 327.01 L260.91 326.49 L261.01 325.82 L261.10 325.37 L261.30 325.13 L261.50 323.37 L261.69 322.20 L261.87 320.84 L262.06 320.35 L262.24 320.15 L262.42 318.71 L262.59 318.24 L262.77 317.71 L262.94 317.84 L263.11 316.76 L263.28 316.68 L263.45 315.89 L263.61 315.82 L263.78 315.83 L263.95 314.91 L264.12 314.27 L264.29 313.27 L264.46 313.36 L264.63 313.60 L264.80 312.85 L265.41 312.53 L266.01 312.55 L266.61 313.09 L267.20 314.23 L267.80 314.17 L268.40 314.48 L269.00 314.71 L269.60 314.12 L270.19 314.29 L270.79 314.50 L271.39 314.84 L272.00 314.32 L272.31 315.04 L272.61 315.51 L272.92 314.98 L273.23 314.68 L273.54 314.57 L273.85 315.67 L274.16 316.65 L274.47 316.58 L274.78 317.73 L275.09 317.89 L275.39 319.47 L275.70 319.78 L275.89 320.52 L276.08 321.11 L276.27 322.02 L276.46 322.80 L276.65 322.57 L276.84 323.63 L277.03 323.96 L277.22 324.58 L277.41 325.11 L277.60 325.10 L277.79 325.35 L277.98 326.04 L278.17 326.41 L278.36 327.08 L278.54 328.39 L278.73 328.54 L278.92 329.25 L279.11 329.77 L279.30 329.75 L279.65 331.23 L280.00 331.75 L280.34 333.18 L280.68 333.37 L281.02 334.21 L281.37 334.73 L281.72 335.49 L282.10 336.02 L282.49 335.51 L282.90 336.42 L283.34 337.18 L283.80 338.07 L284.28 338.76 L284.77 339.05 L285.27 339.75 L285.78 339.06 L286.30 339.28 L286.81 339.33 L287.31 338.82 L287.80 338.63 L288.40 339.31 L289.00 339.47 L289.60 339.27 L290.20 339.11 L290.80 339.81 L291.40 340.22 L292.00 341.15 L292.60 342.34 L293.04 342.69 L293.49 343.53 L293.93 343.27 L294.38 344.38 L294.83 344.44 L295.27 345.27 L295.72 345.10 L296.17 345.04 L296.61 345.31 L297.06 346.36 L297.50 347.21 L297.99 348.20 L298.49 347.88 L298.99 348.45 L299.48 348.71 L299.98 349.49 L300.47 349.50 L300.95 349.37 L301.42 349.02 L301.87 349.13 L302.30 349.86 L302.83 351.04 L303.37 351.51 L303.90 352.07 L304.40 352.77 L304.87 352.46 L305.28 352.48 L305.63 353.27 L305.90 353.95" fill="none" stroke="#a54242" stroke-width="2.10" stroke-linejoin="round" stroke-linecap="round"/>
<path d="M192.10 377.37 L192.44 377.38 L192.84 377.32 L193.30 377.07 L193.81 376.93 L194.37 376.95 L194.97 376.96 L195.60 376.64 L196.26 376.47 L196.94 376.59 L197.64 376.34 L198.34 376.34 L199.05 376.17 L199.76 376.14 L200.45 376.15 L201.13 376.00 L201.78 375.79 L202.41 375.59 L203.00 375.52 L203.60 375.41 L204.20 375.21 L204.78 375.05 L205.37 374.92 L205.94 374.67 L206.52 374.43 L207.08 374.35 L207.65 374.07 L208.21 374.00 L208.77 373.95 L209.33 373.85 L209.89 373.50 L210.45 373.25 L211.01 373.19 L211.57 372.84 L212.13 372.76 L212.70 372.31 L213.24 372.17 L213.78 371.70 L214.33 371.54 L214.88 371.39 L215.44 371.09 L215.99 370.83 L216.55 370.66 L217.10 370.46 L217.65 369.92 L218.20 369.59 L218.74 369.07 L219.27 368.73 L219.80 368.28 L220.32 367.85 L220.83 367.58 L221.33 367.04 L221.82 366.54 L222.30 365.97 L222.66 365.81 L223.02 365.32 L223.37 364.77 L223.72 364.43 L224.06 364.05 L224.40 363.58 L224.73 363.04 L225.06 362.49 L225.38 362.00 L225.70 361.33 L226.01 360.89 L226.32 360.34 L226.63 359.83 L226.94 359.31 L227.24 358.76 L227.54 358.08 L227.84 357.45 L228.14 356.94 L228.43 356.36 L228.72 355.61 L229.02 355.28 L229.31 354.63 L229.60 354.16 L229.95 353.58 L230.31 352.87 L230.66 352.39 L231.01 351.87 L231.35 351.41 L231.70 350.83 L232.04 350.15 L232.38 349.62 L232.72 349.22 L233.05 348.66 L233.37 348.20 L233.69 347.43 L234.00 347.02 L234.30 346.43 L234.60 345.88 L234.89 345.46 L235.17 345.01 L235.44 344.57 L235.70 344.23 L236.35 343.39 L236.91 342.66 L237.42 342.25 L237.89 341.65 L238.34 341.33 L238.81 341.17 L239.30 341.43 L239.59 341.57 L239.88 341.87 L240.15 342.09 L240.43 342.36 L240.70 342.83 L240.98 343.18 L241.26 343.95 L241.55 344.60 L241.86 345.27 L242.18 346.12 L242.53 347.22 L242.90 348.20 L243.04 348.54 L243.18 348.89 L243.33 349.39 L243.48 350.08 L243.63 350.69 L243.79 351.20 L243.95 352.01 L244.11 352.50 L244.28 353.18 L244.45 354.03 L244.62 354.90 L244.79 355.56 L244.96 356.10 L245.14 356.94 L245.31 357.70 L245.49 358.32 L245.67 359.10 L245.85 360.07 L246.02 360.63 L246.20 361.30 L246.38 361.97 L246.55 362.86 L246.73 363.47 L246.90 364.21 L247.07 364.87 L247.24 365.23 L247.41 365.79 L247.58 366.18 L247.74 366.80 L247.90 367.19 L248.05 367.49 L248.21 367.90 L248.36 368.21 L248.50 368.14 L248.74 368.16 L248.97 368.17 L249.19 368.04 L249.40 367.83 L249.61 367.50 L249.82 367.25 L250.01 366.73 L250.21 366.23 L250.40 365.49 L250.59 364.59 L250.78 363.82 L250.97 362.88 L251.17 362.11 L251.36 361.15 L251.55 360.52 L251.75 359.59 L251.96 358.93 L252.16 358.00 L252.38 357.16 L252.60 356.44 L252.78 356.09 L252.97 355.65 L253.15 355.12 L253.34 354.51 L253.53 353.75 L253.72 353.08 L253.92 352.36 L254.11 352.00 L254.31 351.25 L254.51 350.76 L254.71 349.96 L254.91 349.33 L255.11 348.82 L255.31 348.12 L255.51 347.41 L255.71 347.04 L255.91 346.36 L256.11 345.62 L256.31 345.20 L256.51 344.82 L256.71 344.21 L256.91 343.45 L257.11 342.93 L257.31 342.49 L257.50 341.90 L257.77 341.21 L258.04 340.63 L258.30 339.95 L258.57 339.32 L258.84 338.70 L259.10 337.89 L259.37 337.31 L259.63 336.38 L259.90 335.73 L260.17 335.16 L260.43 334.70 L260.70 334.07 L260.96 333.51 L261.23 333.19 L261.50 332.73 L261.76 332.22 L262.03 331.99 L262.30 331.77 L262.70 331.75 L263.10 331.89 L263.49 331.82 L263.89 332.06 L264.28 332.62 L264.68 333.16 L265.08 333.75 L265.48 334.26 L265.90 335.08 L266.32 335.86 L266.75 336.65 L267.20 337.37 L267.41 337.75 L267.62 337.99 L267.83 338.30 L268.05 338.68 L268.27 339.15 L268.48 339.82 L268.70 340.61 L268.92 341.19 L269.14 341.86 L269.37 342.50 L269.59 343.20 L269.82 343.63 L270.05 344.22 L270.28 344.98 L270.51 345.48 L270.75 346.15 L270.98 346.70 L271.22 347.18 L271.46 347.73 L271.70 348.34 L271.95 348.81 L272.19 349.62 L272.44 350.13 L272.69 350.59 L272.95 351.25 L273.20 351.54 L273.53 352.30 L273.87 352.86 L274.20 353.30 L274.54 353.88 L274.88 354.66 L275.22 354.99 L275.56 355.48 L275.91 355.93 L276.26 356.54 L276.62 356.96 L276.98 357.62 L277.34 358.03 L277.72 358.66 L278.09 358.91 L278.48 359.26 L278.87 359.57 L279.26 359.91 L279.67 360.32 L280.08 360.87 L280.50 361.33 L280.98 361.85 L281.47 362.13 L281.98 362.57 L282.49 363.10 L283.02 363.31 L283.56 363.53 L284.10 363.76 L284.65 364.29 L285.20 364.61 L285.76 364.85 L286.32 365.10 L286.88 365.20 L287.44 365.41 L288.00 365.80 L288.56 365.97 L289.11 366.26 L289.66 366.67 L290.20 366.75 L290.81 367.02 L291.44 367.38 L292.07 367.67 L292.71 367.97 L293.36 368.25 L294.00 368.38 L294.64 368.40 L295.28 368.59 L295.91 368.93 L296.53 368.93 L297.14 369.03 L297.74 369.12 L298.31 369.48 L298.86 369.48 L299.40 369.55 L299.90 369.82 L300.68 370.17 L301.43 370.35 L302.16 370.65 L302.85 370.89 L303.51 370.98 L304.11 370.98 L304.66 371.25 L305.14 371.43 L305.56 371.69 L305.90 371.78" fill="none" stroke="#0a0a0a" stroke-width="2.35" stroke-linejoin="round" stroke-linecap="round"/>
<rect x="187.20" y="297.60" width="123.10" height="93.30" fill="none" stroke="#1e1e1e" stroke-width="1.3"/>
<line x1="191.80" y1="387.90" x2="191.80" y2="390.90" stroke="#1e1e1e" stroke-width="1.1"/>
<line x1="210.75" y1="387.90" x2="210.75" y2="390.90" stroke="#1e1e1e" stroke-width="1.1"/>
<line x1="229.70" y1="387.90" x2="229.70" y2="390.90" stroke="#1e1e1e" stroke-width="1.1"/>
<line x1="248.65" y1="387.90" x2="248.65" y2="390.90" stroke="#1e1e1e" stroke-width="1.1"/>
<line x1="267.60" y1="387.90" x2="267.60" y2="390.90" stroke="#1e1e1e" stroke-width="1.1"/>
<line x1="286.55" y1="387.90" x2="286.55" y2="390.90" stroke="#1e1e1e" stroke-width="1.1"/>
<line x1="305.50" y1="387.90" x2="305.50" y2="390.90" stroke="#1e1e1e" stroke-width="1.1"/>
<text x="193.40" y="310.10" font-size="9.20" font-weight="bold" text-anchor="start" fill="#161616" textLength="32.6" lengthAdjust="spacingAndGlyphs" >p&lt;0.001</text>
<line x1="126.30" y1="395.90" x2="126.30" y2="485.00" stroke="#2a2a2a" stroke-width="1.7" stroke-dasharray="3.8 3.4"/>
<path d="M70.60 481.08 L70.92 480.43 L71.26 480.94 L71.64 480.45 L72.04 480.83 L72.47 480.46 L72.92 480.61 L73.40 480.73 L73.90 479.78 L74.43 480.27 L74.97 479.69 L75.54 479.85 L76.12 480.51 L76.72 480.68 L77.34 481.00 L77.97 480.46 L78.62 480.39 L79.28 479.82 L79.95 479.90 L80.63 479.37 L81.32 480.30 L82.02 479.89 L82.73 480.14 L83.44 480.20 L84.16 480.06 L84.88 480.75 L85.60 480.82 L86.32 481.10 L87.04 480.30 L87.77 479.66 L88.48 479.01 L89.20 479.75 L89.91 479.97 L90.62 479.28 L91.32 479.39 L92.01 479.57 L92.69 479.63 L93.36 479.92 L94.02 480.71 L94.67 480.29 L95.30 480.43 L95.91 480.73 L96.52 481.07 L97.10 480.63 L97.66 480.48 L98.21 480.70 L98.73 480.72 L99.24 480.92 L99.72 480.72 L100.17 480.01 L100.60 480.09 L101.65 479.94 L102.61 480.12 L103.50 479.83 L104.31 479.79 L105.06 480.03 L105.75 479.42 L106.38 479.06 L106.97 478.31 L107.51 478.27 L108.03 477.81 L108.51 478.17 L108.98 477.67 L109.43 477.55 L109.87 477.56 L110.32 478.41 L110.76 477.93 L111.22 477.91 L111.70 478.02 L112.20 478.22 L112.95 478.70 L113.67 478.41 L114.38 477.16 L115.07 476.53 L115.74 475.89 L116.39 476.31 L117.02 476.95 L117.61 476.55 L118.19 476.39 L118.73 475.73 L119.25 475.93 L119.74 475.33 L120.20 475.59 L121.03 475.27 L121.66 475.70 L122.16 476.69 L122.62 477.55 L123.11 477.85 L123.70 477.04 L124.21 476.87 L124.72 476.36 L125.24 475.95 L125.79 475.97 L126.36 476.21 L126.96 475.09 L127.61 474.75 L128.30 475.37 L128.78 475.10 L129.26 474.93 L129.75 474.39 L130.26 473.91 L130.77 474.54 L131.31 474.46 L131.88 475.39 L132.47 476.22 L133.09 476.35 L133.75 476.00 L134.45 477.02 L135.20 477.14 L135.67 477.26 L136.11 477.08 L136.53 477.10 L136.94 477.32 L137.34 477.95 L137.75 477.83 L138.16 478.03 L138.60 478.76 L139.06 477.87 L139.55 477.45 L140.09 478.57 L140.67 478.33 L141.31 477.96 L142.02 478.93 L142.80 479.73 L143.66 478.84 L144.61 479.61 L145.65 479.47 L146.80 478.98 L147.22 479.21 L147.67 479.68 L148.13 479.65 L148.62 479.52 L149.14 478.73 L149.67 478.85 L150.22 478.32 L150.79 478.30 L151.38 479.37 L151.98 480.25 L152.60 480.91 L153.23 480.42 L153.88 480.18 L154.54 480.70 L155.21 480.30 L155.90 479.67 L156.59 479.69 L157.29 479.65 L158.00 480.45 L158.72 480.15 L159.44 479.34 L160.16 479.17 L160.90 479.78 L161.63 480.28 L162.37 480.21 L163.10 479.69 L163.84 479.98 L164.58 479.34 L165.31 478.74 L166.04 478.31 L166.77 478.43 L167.49 479.39 L168.21 480.13 L168.92 479.45 L169.62 480.23 L170.32 480.35 L171.00 480.17 L171.67 480.45 L172.34 479.90 L172.99 479.44 L173.62 479.95 L174.25 480.79 L174.85 480.19 L175.44 480.32 L176.02 480.28 L176.57 479.49 L177.11 480.48 L177.62 481.23 L178.12 481.52 L178.59 480.64 L179.04 481.00 L179.46 480.37 L179.86 479.93 L180.23 480.45 L180.58 479.92 L180.90 479.57" fill="none" stroke="#614e9a" stroke-width="2.00" stroke-linejoin="round" stroke-linecap="round"/>
<path d="M70.60 479.52 L70.93 479.86 L71.31 480.03 L71.75 479.46 L72.22 478.92 L72.74 479.89 L73.30 479.81 L73.88 479.59 L74.50 479.97 L75.14 480.65 L75.81 480.22 L76.49 480.86 L77.18 480.38 L77.88 480.98 L78.59 481.04 L79.29 480.21 L80.00 480.77 L80.70 479.96 L81.38 479.31 L82.05 479.57 L82.70 480.32 L83.33 479.44 L83.93 480.16 L84.50 480.35 L85.16 480.43 L85.82 479.97 L86.47 479.61 L87.12 479.18 L87.76 479.17 L88.39 478.77 L89.01 478.21 L89.63 478.17 L90.24 477.65 L90.85 478.21 L91.44 477.83 L92.04 477.62 L92.62 477.64 L93.20 478.04 L93.77 478.47 L94.34 478.72 L94.90 477.98 L95.45 478.21 L96.00 478.47 L96.54 478.06 L97.08 478.22 L97.60 477.82 L98.13 476.83 L98.64 475.96 L99.15 476.08 L99.65 475.17 L100.15 475.52 L100.64 475.72 L101.12 475.43 L101.60 474.20 L102.07 473.08 L102.54 473.29 L102.99 472.39 L103.45 471.72 L103.89 471.52 L104.34 471.43 L104.77 470.87 L105.20 470.36 L105.62 470.08 L106.04 469.72 L106.45 469.43 L106.85 468.74 L107.25 467.54 L107.64 466.67 L108.03 466.09 L108.41 466.01 L108.78 465.41 L109.15 464.71 L109.51 465.06 L109.86 464.12 L110.21 464.33 L110.56 463.98 L110.90 463.58 L111.23 463.74 L111.56 462.44 L111.88 462.16 L112.20 461.91 L112.50 461.89 L112.79 460.87 L113.08 459.84 L113.36 458.89 L113.64 458.14 L113.91 457.73 L114.18 457.12 L114.44 456.06 L114.70 454.97 L114.95 454.27 L115.20 453.61 L115.44 452.66 L115.68 451.74 L115.91 451.38 L116.14 451.79 L116.36 451.43 L116.58 451.24 L116.79 450.46 L117.00 450.66 L117.20 450.30 L117.42 448.82 L117.62 448.31 L117.82 447.22 L118.01 446.01 L118.20 446.20 L118.37 446.12 L118.54 445.37 L118.71 445.15 L118.87 443.52 L119.02 443.38 L119.18 442.43 L119.33 441.38 L119.47 440.53 L119.62 440.12 L119.76 440.24 L119.91 439.81 L120.05 440.18 L120.20 439.48 L120.52 438.52 L120.82 439.35 L121.11 439.68 L121.39 440.68 L121.67 441.63 L121.94 442.13 L122.22 442.59 L122.50 443.93 L122.65 444.11 L122.81 444.41 L122.96 444.94 L123.11 445.48 L123.26 446.63 L123.42 448.35 L123.57 448.77 L123.72 450.08 L123.87 450.24 L124.03 451.01 L124.18 451.74 L124.33 451.95 L124.49 452.42 L124.64 452.18 L124.80 451.65 L124.88 451.99 L124.96 451.43 L125.05 451.06 L125.13 450.65 L125.22 450.90 L125.30 450.52 L125.39 449.61 L125.48 448.98 L125.56 448.80 L125.65 448.72 L125.74 448.81 L125.83 448.61 L125.91 447.53 L126.00 447.52 L126.09 446.43 L126.17 445.53 L126.26 444.17 L126.34 443.57 L126.43 443.40 L126.51 442.90 L126.59 442.76 L126.67 442.47 L126.75 440.79 L126.83 439.69 L126.91 438.33 L126.98 437.24 L127.06 436.08 L127.13 435.60 L127.20 435.04 L127.25 434.98 L127.30 433.99 L127.35 432.93 L127.40 432.14 L127.45 432.23 L127.50 432.44 L127.54 431.61 L127.59 431.43 L127.63 431.00 L127.67 430.25 L127.72 429.80 L127.76 428.52 L127.80 427.46 L127.84 427.11 L127.88 426.34 L127.92 424.99 L127.96 424.53 L128.00 424.31 L128.04 423.48 L128.08 422.85 L128.11 421.75 L128.15 421.78 L128.19 421.12 L128.23 419.84 L128.27 419.21 L128.31 418.44 L128.35 418.66 L128.39 418.43 L128.42 417.40 L128.46 417.51 L128.50 417.45 L128.54 416.30 L128.59 414.87 L128.63 413.79 L128.67 413.69 L128.71 412.98 L128.76 413.26 L128.80 412.61 L128.94 411.63 L129.08 410.36 L129.21 409.79 L129.35 409.63 L129.49 409.21 L129.62 407.92 L129.77 406.75 L129.92 406.08 L130.08 405.15 L130.24 405.63 L130.41 404.94 L130.60 404.98 L130.86 405.33 L131.13 405.62 L131.41 405.84 L131.70 406.42 L132.01 406.50 L132.33 406.87 L132.67 407.67 L133.03 408.46 L133.40 409.63 L133.53 409.62 L133.66 410.09 L133.80 410.55 L133.93 410.97 L134.07 411.99 L134.21 412.51 L134.36 413.52 L134.50 414.57 L134.65 415.27 L134.80 415.31 L134.95 416.15 L135.10 417.09 L135.25 417.85 L135.41 418.99 L135.57 418.89 L135.72 419.96 L135.88 420.82 L136.04 421.88 L136.20 421.95 L136.36 423.12 L136.52 424.03 L136.69 424.26 L136.85 424.59 L137.01 425.58 L137.17 425.26 L137.34 425.97 L137.50 427.11 L137.68 427.12 L137.86 428.10 L138.04 428.53 L138.22 429.40 L138.40 429.74 L138.58 429.91 L138.76 430.28 L138.94 431.17 L139.12 431.69 L139.30 431.92 L139.49 432.71 L139.67 432.64 L139.86 432.81 L140.06 434.31 L140.25 434.75 L140.45 435.65 L140.65 436.99 L140.86 438.11 L141.07 439.13 L141.28 438.81 L141.50 439.27 L141.73 439.33 L141.96 439.22 L142.20 439.38 L142.44 440.59 L142.68 440.83 L142.93 441.05 L143.18 442.31 L143.44 442.46 L143.70 442.90 L143.97 443.84 L144.25 444.69 L144.52 445.07 L144.80 445.77 L145.08 447.03 L145.37 447.36 L145.66 448.01 L145.94 447.96 L146.23 448.93 L146.52 449.38 L146.82 449.87 L147.11 449.84 L147.40 451.18 L147.68 452.23 L147.97 452.00 L148.26 453.28 L148.54 454.11 L148.82 455.09 L149.10 455.56 L149.46 455.12 L149.81 454.99 L150.17 454.97 L150.51 455.76 L150.86 455.85 L151.20 456.36 L151.54 456.45 L151.89 456.83 L152.23 458.43 L152.58 458.81 L152.93 460.06 L153.29 459.98 L153.65 460.34 L154.02 460.17 L154.40 461.12 L154.78 462.14 L155.18 463.25 L155.58 463.61 L156.00 463.54 L156.43 463.74 L156.87 463.69 L157.32 463.61 L157.78 464.17 L158.25 465.33 L158.73 465.33 L159.22 466.03 L159.71 467.24 L160.20 468.14 L160.70 468.96 L161.20 469.25 L161.70 469.26 L162.21 469.57 L162.71 470.13 L163.22 470.83 L163.72 470.50 L164.22 471.32 L164.71 470.85 L165.20 470.65 L165.75 471.65 L166.31 472.37 L166.87 472.89 L167.44 472.64 L168.02 473.08 L168.59 473.36 L169.17 472.77 L169.74 473.04 L170.31 473.30 L170.87 473.63 L171.43 474.33 L171.97 474.04 L172.51 474.48 L173.03 475.26 L173.54 475.02 L174.03 474.84 L174.50 475.12 L175.21 475.38 L175.93 475.44 L176.63 475.33 L177.31 475.40 L177.97 476.23 L178.59 475.99 L179.17 476.36 L179.69 477.11 L180.17 477.05 L180.57 476.66 L180.90 476.70" fill="none" stroke="#a54242" stroke-width="2.10" stroke-linejoin="round" stroke-linecap="round"/>
<path d="M70.60 480.32 L70.93 480.17 L71.31 480.35 L71.72 480.29 L72.18 480.23 L72.67 480.28 L73.19 480.16 L73.75 480.09 L74.33 480.15 L74.94 480.11 L75.57 480.26 L76.22 480.26 L76.89 480.26 L77.58 480.22 L78.28 480.19 L78.99 480.35 L79.70 480.51 L80.43 480.42 L81.15 480.52 L81.87 480.41 L82.60 480.51 L83.31 480.37 L84.02 480.40 L84.72 480.36 L85.40 480.49 L86.07 480.52 L86.73 480.30 L87.36 480.14 L87.96 480.16 L88.55 480.07 L89.10 480.00 L89.80 480.18 L90.49 480.25 L91.17 479.93 L91.84 479.71 L92.50 479.75 L93.15 479.86 L93.79 479.86 L94.43 479.75 L95.05 479.65 L95.67 479.45 L96.27 479.29 L96.87 479.27 L97.46 478.93 L98.05 478.88 L98.62 478.81 L99.18 478.50 L99.74 478.47 L100.29 478.18 L100.83 478.22 L101.36 478.10 L101.88 477.85 L102.39 477.66 L102.90 477.62 L103.53 477.24 L104.15 476.85 L104.75 476.68 L105.34 476.54 L105.91 476.08 L106.47 475.90 L107.01 475.53 L107.54 475.29 L108.06 474.94 L108.56 474.76 L109.05 474.38 L109.53 474.15 L110.00 473.86 L110.46 473.23 L110.91 472.99 L111.35 472.62 L111.78 472.01 L112.20 471.63 L112.61 471.10 L113.01 470.49 L113.39 469.92 L113.76 469.46 L114.12 469.14 L114.47 468.42 L114.80 467.95 L115.13 467.53 L115.44 466.87 L115.75 466.37 L116.05 465.81 L116.33 465.32 L116.61 464.72 L116.88 464.35 L117.15 463.74 L117.40 463.15 L117.66 462.61 L117.90 462.21 L118.47 461.26 L118.95 460.69 L119.36 459.82 L119.73 459.41 L120.10 459.09 L120.48 458.86 L120.90 458.78 L121.17 458.98 L121.44 459.68 L121.73 460.26 L122.01 461.11 L122.30 461.76 L122.59 462.48 L122.88 463.35 L123.16 464.14 L123.44 464.76 L123.70 465.42 L123.96 465.80 L124.20 465.91 L124.40 465.73 L124.59 465.48 L124.77 465.06 L124.94 464.67 L125.12 464.10 L125.28 463.56 L125.44 463.04 L125.60 462.19 L125.76 461.46 L125.91 460.53 L126.06 459.94 L126.21 459.19 L126.35 458.51 L126.50 457.86 L126.63 457.10 L126.76 456.65 L126.89 455.78 L127.01 455.05 L127.13 454.44 L127.25 453.94 L127.37 453.29 L127.48 452.71 L127.60 451.90 L127.71 451.24 L127.83 450.63 L127.94 449.92 L128.06 449.26 L128.18 448.78 L128.30 448.25 L128.66 447.08 L129.01 446.25 L129.38 445.91 L129.77 445.62 L130.20 445.59 L130.58 445.65 L130.97 445.82 L131.38 446.33 L131.83 446.77 L132.33 447.44 L132.90 448.39 L133.10 448.67 L133.31 449.02 L133.53 449.53 L133.75 450.18 L133.97 450.64 L134.20 451.26 L134.44 451.81 L134.68 452.55 L134.93 453.07 L135.19 453.72 L135.45 454.47 L135.72 455.18 L136.00 455.92 L136.28 456.32 L136.57 456.97 L136.87 457.51 L137.18 458.34 L137.50 458.85 L137.77 459.48 L138.04 459.98 L138.31 460.59 L138.60 461.18 L138.88 461.79 L139.18 462.39 L139.47 462.80 L139.78 463.37 L140.08 464.03 L140.40 464.61 L140.71 465.05 L141.03 465.67 L141.36 466.25 L141.69 466.69 L142.03 467.16 L142.37 467.65 L142.71 468.32 L143.06 468.66 L143.41 469.31 L143.77 469.58 L144.13 469.96 L144.50 470.52 L144.93 471.07 L145.36 471.43 L145.81 471.82 L146.25 472.32 L146.71 472.85 L147.16 473.19 L147.63 473.58 L148.10 473.94 L148.58 474.45 L149.06 474.92 L149.55 475.23 L150.05 475.41 L150.55 475.70 L151.06 475.99 L151.57 476.35 L152.10 476.56 L152.62 476.90 L153.16 477.16 L153.70 477.42 L154.25 477.81 L154.79 477.92 L155.34 478.00 L155.90 478.01 L156.45 478.08 L157.02 478.41 L157.59 478.73 L158.16 478.88 L158.75 478.84 L159.34 478.79 L159.94 478.95 L160.56 478.93 L161.18 478.95 L161.81 479.20 L162.46 479.20 L163.12 479.35 L163.80 479.60 L164.49 479.65 L165.20 479.67 L165.74 479.74 L166.31 479.95 L166.91 479.83 L167.54 479.96 L168.19 479.89 L168.86 479.99 L169.54 479.86 L170.24 479.80 L170.94 479.83 L171.65 480.04 L172.36 480.00 L173.07 480.17 L173.77 480.12 L174.46 480.30 L175.15 480.43 L175.81 480.46 L176.46 480.29 L177.09 480.14 L177.69 480.20 L178.26 480.17 L178.80 480.07 L179.31 480.27 L179.77 480.43 L180.20 480.54 L180.57 480.64 L180.90 480.58" fill="none" stroke="#0a0a0a" stroke-width="2.35" stroke-linejoin="round" stroke-linecap="round"/>
<rect x="67.40" y="393.50" width="117.20" height="92.00" fill="none" stroke="#1e1e1e" stroke-width="1.3"/>
<line x1="71.50" y1="482.50" x2="71.50" y2="485.50" stroke="#1e1e1e" stroke-width="1.1"/>
<line x1="89.70" y1="482.50" x2="89.70" y2="485.50" stroke="#1e1e1e" stroke-width="1.1"/>
<line x1="107.90" y1="482.50" x2="107.90" y2="485.50" stroke="#1e1e1e" stroke-width="1.1"/>
<line x1="126.10" y1="482.50" x2="126.10" y2="485.50" stroke="#1e1e1e" stroke-width="1.1"/>
<line x1="144.30" y1="482.50" x2="144.30" y2="485.50" stroke="#1e1e1e" stroke-width="1.1"/>
<line x1="162.50" y1="482.50" x2="162.50" y2="485.50" stroke="#1e1e1e" stroke-width="1.1"/>
<line x1="180.70" y1="482.50" x2="180.70" y2="485.50" stroke="#1e1e1e" stroke-width="1.1"/>
<text x="73.60" y="406.00" font-size="9.20" font-weight="bold" text-anchor="start" fill="#161616" textLength="32.6" lengthAdjust="spacingAndGlyphs" >p&lt;0.001</text>
<line x1="248.85" y1="395.90" x2="248.85" y2="485.00" stroke="#2a2a2a" stroke-width="1.7" stroke-dasharray="3.8 3.4"/>
<path d="M192.10 481.15 L192.42 480.51 L192.77 480.49 L193.14 479.83 L193.55 479.16 L193.98 478.87 L194.43 479.47 L194.92 479.26 L195.42 479.81 L195.95 480.29 L196.50 480.39 L197.06 479.63 L197.65 479.13 L198.25 479.06 L198.87 479.14 L199.51 480.11 L200.16 480.51 L200.82 480.34 L201.49 479.74 L202.18 479.68 L202.87 480.52 L203.57 481.01 L204.28 480.50 L204.99 480.11 L205.71 479.85 L206.44 480.22 L207.16 480.78 L207.89 480.09 L208.62 480.20 L209.34 479.32 L210.07 479.60 L210.79 478.97 L211.50 479.36 L212.21 479.12 L212.92 479.78 L213.61 479.62 L214.30 480.10 L214.97 480.17 L215.64 479.83 L216.29 480.36 L216.93 480.07 L217.55 479.40 L218.16 478.67 L218.75 478.86 L219.32 478.70 L219.87 478.65 L220.40 479.44 L220.91 479.96 L221.40 480.63 L221.86 480.24 L222.30 480.63 L223.32 480.20 L224.26 480.29 L225.13 480.02 L225.93 480.28 L226.67 480.68 L227.36 479.85 L228.00 479.87 L228.60 480.32 L229.15 479.99 L229.68 479.11 L230.18 479.45 L230.66 479.37 L231.13 479.37 L231.59 478.49 L232.05 477.75 L232.51 477.09 L232.98 477.40 L233.46 478.19 L233.97 478.54 L234.50 477.99 L235.18 477.65 L235.86 476.89 L236.53 476.25 L237.19 477.20 L237.84 477.41 L238.48 476.91 L239.12 476.45 L239.74 476.89 L240.35 477.62 L240.94 477.73 L241.53 477.60 L242.09 477.60 L242.65 478.11 L243.18 478.13 L243.70 477.35 L244.20 476.38 L244.95 477.09 L245.64 476.09 L246.27 476.05 L246.86 476.04 L247.43 476.44 L247.97 476.55 L248.51 475.94 L249.05 476.25 L249.61 475.20 L250.20 475.50 L250.77 476.27 L251.28 476.70 L251.76 476.81 L252.23 476.55 L252.72 476.81 L253.25 477.07 L253.85 477.51 L254.54 478.03 L255.35 478.15 L256.30 477.45 L256.73 477.45 L257.15 477.57 L257.57 476.80 L257.99 477.77 L258.42 477.50 L258.85 478.04 L259.29 477.59 L259.75 478.09 L260.22 477.56 L260.70 477.23 L261.21 477.10 L261.74 477.26 L262.29 477.19 L262.87 477.02 L263.48 478.32 L264.13 478.51 L264.81 478.49 L265.53 478.16 L266.29 477.95 L267.09 477.91 L267.94 478.79 L268.84 479.34 L269.79 480.07 L270.80 480.12 L271.24 480.07 L271.70 479.63 L272.18 480.00 L272.68 479.72 L273.20 480.15 L273.74 479.93 L274.30 480.24 L274.87 479.79 L275.46 480.50 L276.07 480.57 L276.69 480.81 L277.32 479.83 L277.96 479.35 L278.62 479.90 L279.28 480.13 L279.96 479.31 L280.65 479.17 L281.34 480.13 L282.04 480.54 L282.75 480.96 L283.46 480.83 L284.18 481.52 L284.90 481.15 L285.62 480.64 L286.35 480.15 L287.07 479.91 L287.80 479.95 L288.53 480.04 L289.26 479.70 L289.98 479.72 L290.70 479.57 L291.42 479.66 L292.13 480.03 L292.84 479.81 L293.54 479.49 L294.23 480.21 L294.92 480.62 L295.59 479.95 L296.26 479.82 L296.91 479.74 L297.56 479.31 L298.19 479.05 L298.81 479.34 L299.41 480.37 L300.00 480.70 L300.57 481.04 L301.13 481.23 L301.67 481.69 L302.19 481.91 L302.69 481.42 L303.17 481.69 L303.63 481.56 L304.07 481.53 L304.48 481.52 L304.87 480.95 L305.24 481.62 L305.58 482.10 L305.90 480.99" fill="none" stroke="#614e9a" stroke-width="2.00" stroke-linejoin="round" stroke-linecap="round"/>
<path d="M192.10 479.73 L192.43 479.36 L192.80 479.78 L193.22 480.18 L193.69 480.25 L194.19 479.35 L194.72 479.00 L195.29 478.88 L195.89 479.74 L196.51 479.90 L197.16 479.82 L197.82 479.97 L198.50 479.22 L199.19 479.51 L199.89 479.68 L200.60 479.13 L201.31 478.92 L202.02 478.84 L202.72 479.58 L203.42 479.24 L204.10 478.46 L204.77 479.03 L205.43 479.52 L206.06 479.08 L206.67 479.31 L207.25 479.84 L207.80 479.34 L208.49 479.32 L209.17 479.11 L209.83 478.92 L210.49 478.74 L211.13 479.03 L211.77 479.33 L212.40 479.54 L213.01 478.46 L213.62 478.70 L214.22 477.73 L214.82 477.02 L215.41 476.44 L215.99 475.85 L216.56 475.89 L217.13 475.37 L217.69 475.41 L218.25 476.07 L218.80 475.77 L219.35 474.98 L219.90 475.33 L220.44 475.17 L220.98 474.46 L221.51 474.08 L222.03 473.58 L222.55 473.59 L223.06 474.04 L223.57 473.18 L224.07 472.82 L224.56 472.21 L225.05 472.19 L225.53 472.46 L226.01 471.55 L226.48 470.65 L226.94 470.17 L227.40 470.01 L227.85 469.63 L228.30 469.48 L228.74 468.68 L229.17 468.40 L229.60 467.50 L230.00 467.39 L230.40 466.74 L230.80 466.89 L231.19 466.40 L231.58 465.22 L231.97 465.05 L232.35 464.33 L232.72 463.86 L233.09 462.81 L233.45 462.74 L233.81 461.96 L234.16 460.90 L234.50 460.58 L234.83 459.77 L235.15 459.49 L235.47 458.71 L235.78 458.06 L236.07 457.33 L236.36 456.73 L236.63 457.19 L236.90 456.38 L237.25 455.78 L237.57 455.49 L237.88 454.50 L238.16 453.61 L238.42 452.94 L238.66 453.21 L238.90 453.25 L239.11 452.81 L239.32 451.48 L239.53 450.57 L239.72 450.55 L239.92 449.76 L240.11 448.82 L240.30 448.34 L240.50 448.80 L240.97 447.43 L241.39 447.26 L241.77 445.91 L242.14 445.81 L242.51 446.00 L242.90 445.23 L243.21 445.47 L243.53 446.57 L243.86 447.62 L244.18 448.13 L244.50 448.16 L244.81 448.67 L245.12 449.08 L245.40 450.09 L245.59 450.28 L245.78 451.51 L245.95 452.60 L246.12 453.33 L246.29 454.00 L246.45 455.38 L246.61 455.59 L246.78 456.30 L246.94 456.08 L247.12 455.77 L247.30 455.97 L247.41 455.63 L247.52 455.34 L247.64 455.02 L247.76 454.42 L247.88 454.30 L248.00 453.83 L248.12 454.23 L248.25 454.25 L248.37 453.53 L248.49 452.30 L248.61 452.39 L248.74 451.32 L248.85 449.81 L248.97 449.52 L249.08 448.26 L249.19 448.22 L249.30 447.09 L249.40 445.46 L249.50 445.08 L249.54 444.46 L249.59 443.53 L249.63 442.60 L249.67 442.49 L249.71 441.55 L249.74 440.86 L249.78 440.34 L249.81 440.11 L249.85 439.65 L249.88 439.56 L249.91 439.59 L249.94 439.49 L249.98 438.37 L250.01 438.02 L250.04 437.77 L250.06 436.80 L250.09 436.09 L250.12 435.55 L250.15 434.68 L250.18 433.93 L250.21 433.87 L250.24 432.76 L250.27 431.24 L250.30 430.39 L250.33 429.31 L250.36 429.12 L250.39 428.49 L250.42 427.97 L250.46 427.77 L250.49 427.44 L250.53 426.20 L250.56 426.16 L250.60 426.15 L250.64 424.80 L250.68 423.54 L250.72 422.60 L250.76 422.40 L250.81 421.75 L250.85 421.97 L250.90 421.36 L250.98 420.20 L251.06 418.98 L251.14 418.43 L251.22 417.16 L251.31 416.68 L251.39 415.70 L251.48 415.43 L251.58 414.73 L251.67 413.95 L251.76 413.60 L251.86 412.18 L251.96 411.52 L252.06 410.77 L252.16 410.83 L252.26 410.18 L252.36 409.34 L252.46 408.94 L252.57 407.98 L252.67 407.91 L252.77 408.08 L252.88 407.53 L252.98 407.56 L253.09 406.37 L253.19 406.49 L253.30 406.54 L253.40 405.83 L253.70 405.91 L254.00 405.68 L254.31 406.03 L254.62 406.76 L254.94 406.68 L255.27 407.01 L255.60 408.51 L255.94 409.43 L256.30 410.01 L256.43 410.97 L256.55 411.14 L256.68 411.22 L256.80 412.00 L256.93 412.03 L257.06 412.83 L257.18 413.51 L257.31 414.18 L257.44 414.78 L257.57 415.47 L257.71 415.80 L257.84 416.02 L257.98 416.53 L258.11 416.89 L258.25 417.28 L258.39 418.19 L258.53 418.42 L258.67 419.53 L258.82 421.20 L258.97 422.43 L259.12 422.92 L259.27 423.86 L259.42 424.82 L259.58 425.99 L259.74 426.45 L259.90 427.47 L260.05 427.09 L260.20 427.58 L260.35 427.35 L260.50 428.34 L260.65 429.08 L260.81 429.97 L260.97 430.02 L261.13 430.06 L261.29 431.53 L261.45 432.51 L261.61 432.96 L261.78 433.28 L261.95 434.17 L262.12 434.44 L262.29 434.98 L262.46 434.80 L262.63 435.32 L262.80 436.51 L262.98 436.63 L263.15 437.45 L263.33 438.03 L263.51 438.34 L263.69 438.97 L263.87 439.66 L264.06 439.60 L264.24 440.81 L264.43 441.02 L264.61 441.38 L264.80 442.28 L265.01 442.85 L265.22 444.34 L265.43 444.96 L265.65 446.06 L265.87 446.94 L266.08 447.78 L266.30 447.45 L266.52 448.25 L266.74 448.35 L266.97 449.18 L267.19 449.82 L267.42 449.83 L267.65 450.37 L267.88 450.58 L268.11 451.82 L268.35 452.39 L268.58 452.26 L268.82 453.34 L269.06 453.86 L269.30 454.52 L269.55 454.80 L269.79 455.22 L270.04 455.31 L270.29 456.12 L270.55 456.45 L270.80 456.46 L271.09 456.81 L271.38 457.12 L271.67 458.28 L271.96 458.93 L272.26 459.12 L272.55 459.73 L272.85 460.93 L273.15 461.47 L273.45 461.56 L273.76 462.70 L274.06 463.31 L274.37 464.52 L274.69 464.37 L275.01 465.41 L275.33 466.46 L275.66 466.87 L275.99 466.53 L276.33 466.97 L276.67 467.13 L277.02 467.15 L277.37 467.35 L277.73 467.67 L278.10 468.24 L278.55 468.61 L279.02 469.77 L279.50 470.83 L279.98 471.27 L280.48 471.44 L280.99 472.14 L281.50 471.97 L282.01 471.96 L282.54 472.74 L283.06 473.54 L283.59 473.87 L284.12 474.49 L284.65 475.28 L285.19 474.95 L285.72 474.68 L286.24 474.59 L286.77 474.20 L287.29 474.21 L287.80 474.15 L288.41 474.39 L289.02 474.83 L289.64 475.45 L290.26 476.03 L290.87 476.09 L291.49 476.55 L292.11 476.55 L292.73 477.35 L293.35 477.95 L293.96 477.28 L294.56 477.94 L295.17 477.25 L295.76 476.97 L296.35 477.31 L296.93 477.01 L297.50 477.68 L298.16 478.50 L298.84 478.38 L299.54 478.75 L300.24 478.27 L300.94 477.93 L301.63 478.60 L302.31 478.27 L302.96 478.31 L303.57 479.17 L304.15 478.56 L304.68 478.74 L305.15 478.94 L305.56 479.53 L305.90 479.06" fill="none" stroke="#a54242" stroke-width="2.10" stroke-linejoin="round" stroke-linecap="round"/>
<path d="M192.10 480.31 L192.42 480.19 L192.79 480.33 L193.19 480.27 L193.63 480.36 L194.11 480.26 L194.62 480.50 L195.16 480.53 L195.72 480.42 L196.31 480.28 L196.92 480.47 L197.55 480.61 L198.20 480.50 L198.87 480.35 L199.55 480.57 L200.24 480.68 L200.93 480.58 L201.64 480.40 L202.34 480.51 L203.05 480.65 L203.76 480.49 L204.46 480.41 L205.15 480.53 L205.84 480.54 L206.51 480.59 L207.18 480.50 L207.82 480.28 L208.45 480.38 L209.06 480.36 L209.64 480.34 L210.20 480.10 L210.85 479.89 L211.50 479.95 L212.15 479.92 L212.79 479.55 L213.42 479.26 L214.05 479.04 L214.68 479.03 L215.30 478.81 L215.92 478.58 L216.53 478.50 L217.13 478.53 L217.73 478.30 L218.32 477.94 L218.90 477.67 L219.48 477.48 L220.05 477.30 L220.61 477.06 L221.17 476.79 L221.71 476.64 L222.25 476.42 L222.78 476.20 L223.30 475.93 L223.81 475.87 L224.31 475.81 L224.80 475.55 L225.43 475.15 L226.05 474.90 L226.64 474.50 L227.23 474.15 L227.80 473.87 L228.35 473.79 L228.89 473.31 L229.42 473.04 L229.93 472.58 L230.44 472.29 L230.93 472.21 L231.41 471.97 L231.88 471.56 L232.34 471.11 L232.79 470.70 L233.23 470.43 L233.66 470.10 L234.08 469.71 L234.50 469.26 L235.05 469.02 L235.58 468.76 L236.08 468.39 L236.57 467.81 L237.03 467.23 L237.48 466.59 L237.91 466.34 L238.32 465.81 L238.72 465.19 L239.10 464.99 L239.47 464.61 L239.82 464.28 L240.17 463.90 L240.50 463.46 L241.20 462.97 L241.79 462.49 L242.29 462.03 L242.76 461.90 L243.22 461.64 L243.70 461.97 L244.00 462.25 L244.30 462.59 L244.59 463.43 L244.88 464.32 L245.17 465.17 L245.45 465.84 L245.74 466.50 L246.02 466.99 L246.31 467.28 L246.60 467.15 L246.78 466.80 L246.97 466.48 L247.16 466.08 L247.35 465.49 L247.54 464.92 L247.73 464.47 L247.92 463.84 L248.11 463.04 L248.30 462.49 L248.49 461.56 L248.67 460.67 L248.85 460.08 L249.02 459.51 L249.19 458.89 L249.35 458.19 L249.50 457.48 L249.65 456.74 L249.78 456.27 L249.92 455.62 L250.04 454.79 L250.16 454.26 L250.28 453.62 L250.40 453.06 L250.51 452.24 L250.62 451.52 L250.72 450.90 L250.83 450.19 L250.94 449.55 L251.05 449.19 L251.16 448.76 L251.28 448.36 L251.40 447.94 L251.78 446.78 L252.15 445.70 L252.53 445.27 L252.94 444.81 L253.40 444.81 L253.75 444.94 L254.11 445.00 L254.48 445.42 L254.88 445.71 L255.31 446.23 L255.78 447.19 L256.30 448.11 L256.49 448.54 L256.69 449.04 L256.89 449.51 L257.10 450.13 L257.31 450.71 L257.52 451.09 L257.74 451.50 L257.96 452.14 L258.19 452.93 L258.43 453.42 L258.66 454.17 L258.91 454.76 L259.16 455.55 L259.42 455.97 L259.68 456.53 L259.95 457.33 L260.23 458.13 L260.51 458.85 L260.80 459.49 L261.10 459.90 L261.37 460.40 L261.64 460.73 L261.91 461.31 L262.19 461.90 L262.48 462.35 L262.77 462.87 L263.06 463.67 L263.36 464.26 L263.66 464.89 L263.97 465.56 L264.29 466.22 L264.60 466.85 L264.93 467.19 L265.25 467.75 L265.58 468.10 L265.92 468.57 L266.26 469.11 L266.61 469.51 L266.96 469.96 L267.31 470.59 L267.67 471.20 L268.03 471.57 L268.40 471.87 L268.85 472.44 L269.31 472.77 L269.77 473.39 L270.24 473.60 L270.72 473.95 L271.20 474.54 L271.69 474.95 L272.19 475.18 L272.70 475.34 L273.21 475.76 L273.72 476.06 L274.25 476.19 L274.78 476.68 L275.31 476.77 L275.86 477.15 L276.41 477.37 L276.97 477.64 L277.53 477.69 L278.10 478.07 L278.65 478.40 L279.20 478.30 L279.75 478.42 L280.31 478.63 L280.87 478.77 L281.44 479.00 L282.01 479.05 L282.59 479.04 L283.18 479.29 L283.77 479.22 L284.38 479.31 L284.99 479.28 L285.60 479.16 L286.23 479.31 L286.87 479.37 L287.51 479.27 L288.17 479.53 L288.83 479.64 L289.51 479.77 L290.20 479.78 L290.75 479.83 L291.33 479.75 L291.94 479.80 L292.57 479.89 L293.23 479.92 L293.90 479.95 L294.58 479.95 L295.28 479.88 L295.98 479.86 L296.69 479.88 L297.40 480.16 L298.11 480.04 L298.81 480.04 L299.50 479.96 L300.18 480.01 L300.84 480.18 L301.49 480.14 L302.11 480.37 L302.71 480.31 L303.28 480.18 L303.81 480.38 L304.31 480.31 L304.78 480.32 L305.20 480.47 L305.57 480.38 L305.90 480.51" fill="none" stroke="#0a0a0a" stroke-width="2.35" stroke-linejoin="round" stroke-linecap="round"/>
<rect x="187.20" y="393.50" width="123.10" height="92.00" fill="none" stroke="#1e1e1e" stroke-width="1.3"/>
<line x1="191.80" y1="482.50" x2="191.80" y2="485.50" stroke="#1e1e1e" stroke-width="1.1"/>
<line x1="210.75" y1="482.50" x2="210.75" y2="485.50" stroke="#1e1e1e" stroke-width="1.1"/>
<line x1="229.70" y1="482.50" x2="229.70" y2="485.50" stroke="#1e1e1e" stroke-width="1.1"/>
<line x1="248.65" y1="482.50" x2="248.65" y2="485.50" stroke="#1e1e1e" stroke-width="1.1"/>
<line x1="267.60" y1="482.50" x2="267.60" y2="485.50" stroke="#1e1e1e" stroke-width="1.1"/>
<line x1="286.55" y1="482.50" x2="286.55" y2="485.50" stroke="#1e1e1e" stroke-width="1.1"/>
<line x1="305.50" y1="482.50" x2="305.50" y2="485.50" stroke="#1e1e1e" stroke-width="1.1"/>
<text x="193.40" y="406.00" font-size="9.20" font-weight="bold" text-anchor="start" fill="#161616" textLength="32.6" lengthAdjust="spacingAndGlyphs" >p&lt;0.001</text>
<line x1="126.30" y1="491.20" x2="126.30" y2="580.90" stroke="#2a2a2a" stroke-width="1.7" stroke-dasharray="3.8 3.4"/>
<path d="M70.60 574.49 L70.92 574.62 L71.26 574.64 L71.64 574.48 L72.04 574.93 L72.47 574.07 L72.92 573.70 L73.40 573.94 L73.90 573.37 L74.43 573.76 L74.97 573.57 L75.54 574.24 L76.12 573.77 L76.72 574.38 L77.34 574.99 L77.97 574.33 L78.62 573.79 L79.28 573.00 L79.95 572.82 L80.63 572.63 L81.32 572.94 L82.02 573.94 L82.73 573.52 L83.44 573.92 L84.16 573.60 L84.88 573.32 L85.60 572.92 L86.32 573.65 L87.04 574.40 L87.77 573.70 L88.48 574.00 L89.20 574.22 L89.91 574.33 L90.62 573.89 L91.32 573.10 L92.01 573.51 L92.69 573.40 L93.36 573.22 L94.02 573.71 L94.67 572.99 L95.30 572.58 L95.91 572.37 L96.52 573.38 L97.10 573.26 L97.66 573.24 L98.21 573.67 L98.73 573.20 L99.24 572.41 L99.72 572.16 L100.17 571.62 L100.60 572.32 L101.65 572.92 L102.61 572.66 L103.49 571.82 L104.29 571.27 L105.03 570.90 L105.71 570.71 L106.33 571.12 L106.91 570.55 L107.44 570.84 L107.95 570.92 L108.43 570.58 L108.89 570.40 L109.34 571.00 L109.79 571.47 L110.24 570.97 L110.70 571.04 L111.17 571.68 L111.67 571.55 L112.20 571.86 L112.81 572.22 L113.43 571.61 L114.04 570.52 L114.65 569.40 L115.26 569.47 L115.86 570.03 L116.45 569.77 L117.03 569.02 L117.59 567.95 L118.14 568.23 L118.68 567.21 L119.19 567.31 L119.69 567.54 L120.15 567.38 L120.60 567.68 L121.01 566.61 L121.40 565.85 L122.30 566.78 L122.94 566.99 L123.43 566.98 L123.84 567.88 L124.27 568.67 L124.80 568.12 L125.16 567.28 L125.52 566.43 L125.88 566.31 L126.24 566.41 L126.61 565.23 L127.00 564.68 L127.40 563.50 L127.84 562.78 L128.30 562.55 L128.80 562.62 L129.20 562.08 L129.60 563.17 L130.01 564.14 L130.42 564.77 L130.85 565.76 L131.30 565.93 L131.76 565.70 L132.25 565.57 L132.77 566.03 L133.32 566.22 L133.90 566.86 L134.53 567.13 L135.20 567.49 L135.66 567.42 L136.13 567.96 L136.62 568.04 L137.12 568.53 L137.63 568.48 L138.16 569.22 L138.70 568.76 L139.25 569.80 L139.82 569.58 L140.39 570.21 L140.98 570.92 L141.59 570.09 L142.20 569.59 L142.83 569.84 L143.46 570.49 L144.11 570.12 L144.77 570.95 L145.43 570.72 L146.11 570.82 L146.80 571.18 L147.32 570.69 L147.84 570.50 L148.38 570.31 L148.93 570.20 L149.48 570.66 L150.04 571.31 L150.61 572.04 L151.18 571.98 L151.76 571.59 L152.35 571.86 L152.94 571.61 L153.54 571.85 L154.15 572.19 L154.75 571.99 L155.37 572.83 L155.98 573.16 L156.60 572.58 L157.23 571.97 L157.85 571.53 L158.48 572.74 L159.11 572.49 L159.74 571.96 L160.37 572.17 L161.00 572.48 L161.64 573.11 L162.27 572.91 L162.90 573.72 L163.48 574.44 L164.08 574.05 L164.70 573.82 L165.34 572.89 L166.00 572.35 L166.67 572.25 L167.35 572.98 L168.03 572.62 L168.73 572.77 L169.43 571.99 L170.13 572.64 L170.83 572.96 L171.53 572.85 L172.22 572.70 L172.91 572.48 L173.58 572.38 L174.25 573.17 L174.90 572.62 L175.54 572.17 L176.16 572.24 L176.76 572.51 L177.34 571.86 L177.89 572.03 L178.42 572.77 L178.92 573.16 L179.39 572.80 L179.82 572.32 L180.22 572.44 L180.58 571.60 L180.90 572.43" fill="none" stroke="#614e9a" stroke-width="2.00" stroke-linejoin="round" stroke-linecap="round"/>
<path d="M70.60 572.86 L70.93 572.89 L71.31 573.78 L71.75 573.32 L72.22 573.16 L72.74 573.75 L73.30 574.32 L73.88 574.18 L74.50 574.75 L75.14 575.00 L75.81 574.72 L76.49 573.93 L77.18 573.77 L77.88 573.79 L78.59 573.03 L79.29 572.50 L80.00 573.51 L80.70 573.02 L81.38 573.77 L82.05 573.25 L82.70 573.77 L83.33 574.24 L83.93 574.72 L84.50 574.82 L85.16 574.14 L85.82 573.13 L86.47 572.93 L87.12 572.25 L87.76 572.14 L88.39 572.25 L89.01 571.82 L89.63 572.06 L90.24 572.72 L90.85 572.57 L91.44 572.41 L92.04 572.48 L92.62 571.48 L93.20 571.79 L93.77 570.94 L94.34 570.87 L94.90 571.19 L95.45 570.16 L96.00 570.40 L96.57 570.68 L97.14 569.92 L97.69 570.26 L98.24 570.49 L98.78 569.36 L99.32 569.35 L99.85 569.39 L100.37 568.42 L100.88 568.42 L101.39 567.58 L101.89 567.42 L102.38 566.92 L102.87 565.97 L103.35 566.14 L103.82 566.02 L104.29 565.82 L104.75 565.82 L105.20 564.96 L105.62 564.99 L106.04 564.32 L106.44 564.34 L106.84 563.06 L107.23 561.91 L107.62 561.78 L108.00 560.76 L108.37 560.84 L108.74 560.59 L109.10 560.18 L109.46 560.15 L109.81 559.16 L110.16 559.12 L110.51 559.13 L110.85 557.84 L111.19 557.46 L111.53 556.28 L111.87 555.81 L112.20 555.65 L112.48 554.86 L112.75 554.71 L113.03 553.85 L113.30 552.90 L113.58 553.10 L113.85 552.18 L114.12 551.81 L114.39 551.42 L114.66 549.95 L114.92 549.80 L115.18 549.54 L115.44 549.38 L115.69 547.90 L115.94 546.95 L116.18 547.08 L116.42 546.75 L116.65 545.25 L116.88 545.06 L117.10 544.20 L117.31 542.98 L117.51 542.04 L117.71 541.43 L117.90 541.92 L118.26 541.25 L118.59 540.44 L118.88 539.92 L119.14 539.36 L119.39 538.08 L119.61 538.26 L119.83 536.90 L120.04 536.06 L120.25 536.36 L120.47 535.42 L120.70 535.37 L121.14 535.83 L121.58 535.58 L122.01 536.68 L122.42 537.27 L122.82 537.89 L123.20 538.73 L123.44 538.98 L123.66 539.68 L123.87 541.52 L124.07 542.95 L124.27 543.46 L124.47 544.61 L124.68 544.96 L124.88 545.31 L125.10 544.40 L125.17 543.94 L125.24 543.48 L125.30 543.00 L125.37 543.44 L125.44 543.12 L125.52 542.33 L125.59 541.44 L125.66 540.73 L125.73 540.10 L125.80 540.35 L125.88 539.48 L125.95 538.92 L126.02 538.44 L126.10 537.88 L126.17 537.73 L126.24 536.14 L126.31 535.11 L126.39 533.83 L126.46 532.75 L126.53 532.79 L126.60 532.62 L126.67 531.80 L126.74 531.20 L126.81 530.46 L126.88 530.42 L126.94 528.89 L127.01 527.82 L127.07 526.54 L127.14 525.45 L127.20 524.80 L127.26 524.08 L127.32 523.99 L127.38 523.27 L127.43 522.49 L127.49 522.07 L127.54 521.80 L127.59 521.68 L127.64 521.27 L127.69 520.43 L127.74 520.12 L127.79 519.45 L127.84 518.90 L127.89 517.67 L127.94 516.55 L127.99 516.59 L128.04 515.08 L128.08 514.45 L128.13 513.18 L128.18 512.33 L128.23 512.43 L128.28 511.41 L128.34 511.41 L128.39 510.62 L128.44 510.60 L128.50 510.02 L128.56 509.39 L128.61 508.96 L128.67 508.68 L128.74 507.70 L128.80 508.13 L129.02 507.48 L129.25 506.72 L129.49 505.73 L129.74 505.26 L129.99 504.25 L130.26 503.08 L130.53 502.83 L130.81 502.54 L131.10 503.34 L131.31 503.00 L131.52 503.22 L131.74 503.24 L131.96 504.43 L132.18 505.06 L132.41 505.50 L132.65 506.13 L132.89 506.65 L133.12 507.03 L133.37 507.30 L133.61 507.48 L133.85 508.84 L134.10 510.26 L134.24 510.77 L134.38 511.25 L134.51 512.42 L134.65 512.11 L134.79 512.78 L134.93 512.62 L135.06 513.22 L135.20 514.29 L135.34 515.26 L135.48 515.14 L135.62 516.29 L135.77 516.25 L135.91 517.21 L136.06 517.20 L136.21 518.10 L136.36 518.33 L136.51 519.27 L136.67 520.69 L136.83 520.63 L136.99 522.14 L137.16 522.81 L137.33 523.76 L137.50 524.46 L137.64 524.53 L137.79 525.73 L137.94 526.76 L138.08 527.71 L138.23 527.22 L138.38 528.24 L138.53 527.85 L138.68 528.33 L138.84 528.39 L138.99 529.46 L139.15 529.87 L139.31 530.31 L139.47 531.12 L139.63 532.35 L139.80 532.34 L139.96 532.64 L140.13 532.82 L140.31 533.45 L140.48 534.01 L140.66 535.28 L140.84 536.21 L141.02 537.50 L141.21 537.61 L141.40 537.43 L141.60 538.48 L141.79 539.69 L141.99 540.30 L142.20 541.01 L142.47 541.23 L142.74 541.91 L143.03 541.93 L143.32 543.05 L143.62 543.54 L143.92 543.99 L144.23 544.07 L144.55 544.16 L144.87 544.67 L145.19 544.87 L145.51 545.97 L145.84 547.10 L146.17 547.27 L146.50 548.16 L146.83 548.09 L147.16 548.54 L147.49 549.30 L147.82 550.11 L148.14 551.22 L148.46 551.82 L148.78 551.82 L149.10 551.41 L149.51 552.21 L149.91 553.42 L150.32 554.47 L150.72 554.95 L151.13 554.96 L151.54 555.38 L151.94 555.52 L152.35 556.42 L152.75 557.07 L153.16 557.85 L153.56 557.91 L153.97 558.81 L154.38 558.51 L154.78 558.32 L155.19 559.35 L155.59 559.42 L156.00 559.23 L156.57 559.06 L157.12 559.40 L157.67 560.79 L158.21 561.06 L158.75 560.69 L159.30 561.86 L159.85 562.81 L160.42 562.67 L161.01 563.20 L161.61 563.75 L162.24 563.06 L162.90 563.25 L163.42 562.91 L163.95 563.13 L164.50 563.32 L165.07 563.15 L165.65 563.70 L166.24 563.97 L166.83 563.64 L167.44 563.54 L168.04 563.79 L168.65 564.09 L169.26 565.34 L169.86 566.07 L170.46 566.33 L171.05 566.75 L171.63 566.69 L172.20 567.37 L172.86 567.53 L173.55 567.77 L174.26 567.90 L174.98 567.59 L175.71 568.06 L176.43 567.99 L177.13 568.32 L177.81 568.66 L178.46 568.00 L179.07 567.58 L179.62 567.74 L180.12 567.86 L180.55 568.37 L180.90 567.84" fill="none" stroke="#a54242" stroke-width="2.10" stroke-linejoin="round" stroke-linecap="round"/>
<path d="M70.60 573.35 L70.93 573.44 L71.31 573.43 L71.72 573.62 L72.18 573.63 L72.67 573.61 L73.19 573.75 L73.75 573.61 L74.33 573.74 L74.94 573.67 L75.57 573.73 L76.22 573.87 L76.89 573.91 L77.58 573.87 L78.28 573.92 L78.99 573.67 L79.70 573.68 L80.43 573.84 L81.15 573.90 L81.87 573.82 L82.60 573.70 L83.31 573.66 L84.02 573.67 L84.72 573.55 L85.40 573.76 L86.07 573.78 L86.73 573.73 L87.36 573.56 L87.96 573.49 L88.55 573.45 L89.10 573.31 L89.80 573.25 L90.49 573.18 L91.17 573.24 L91.84 573.28 L92.50 572.94 L93.15 572.73 L93.79 572.81 L94.43 572.50 L95.05 572.34 L95.67 572.30 L96.27 572.20 L96.87 571.96 L97.46 571.94 L98.05 571.85 L98.62 571.47 L99.18 571.42 L99.74 571.20 L100.29 571.03 L100.83 570.89 L101.36 570.75 L101.88 570.64 L102.39 570.27 L102.90 569.97 L103.53 569.66 L104.15 569.35 L104.75 569.27 L105.34 569.13 L105.91 568.74 L106.47 568.51 L107.01 568.28 L107.54 568.03 L108.06 567.72 L108.56 567.33 L109.05 567.04 L109.53 566.55 L110.00 566.22 L110.46 565.75 L110.91 565.37 L111.35 564.98 L111.78 564.63 L112.20 564.09 L112.66 563.70 L113.10 563.28 L113.52 562.96 L113.93 562.47 L114.32 561.76 L114.70 561.19 L115.06 560.75 L115.41 560.03 L115.75 559.65 L116.08 558.92 L116.40 558.50 L116.71 558.01 L117.02 557.68 L117.32 557.09 L117.61 556.57 L117.90 556.06 L118.45 555.27 L118.95 554.51 L119.40 553.89 L119.83 553.19 L120.24 552.59 L120.63 552.39 L121.01 551.99 L121.40 552.18 L121.74 552.32 L122.08 553.00 L122.40 553.83 L122.72 554.85 L123.03 555.76 L123.33 556.33 L123.62 557.09 L123.91 557.61 L124.20 557.63 L124.37 557.35 L124.53 556.82 L124.69 556.25 L124.85 555.74 L125.00 555.31 L125.16 554.56 L125.31 553.93 L125.46 553.31 L125.60 552.55 L125.75 551.84 L125.90 551.13 L126.05 550.39 L126.20 549.42 L126.35 548.83 L126.50 548.24 L126.67 547.71 L126.83 546.92 L127.00 546.14 L127.17 545.36 L127.34 544.78 L127.51 544.07 L127.68 543.62 L127.85 543.04 L128.02 542.40 L128.18 541.80 L128.34 541.16 L128.50 540.64 L128.65 540.45 L128.80 539.98 L129.37 538.95 L129.89 538.69 L130.60 538.98 L130.94 538.98 L131.30 539.15 L131.69 539.28 L132.10 539.53 L132.54 540.01 L133.02 540.66 L133.54 541.36 L134.10 542.28 L134.31 542.72 L134.52 542.98 L134.73 543.63 L134.96 543.92 L135.19 544.45 L135.42 545.11 L135.66 545.48 L135.90 545.99 L136.15 546.50 L136.40 547.09 L136.66 547.85 L136.92 548.62 L137.18 549.41 L137.44 549.98 L137.71 550.69 L137.98 551.20 L138.25 551.78 L138.52 552.53 L138.80 552.86 L139.07 553.61 L139.35 554.05 L139.62 554.56 L139.90 555.24 L140.21 555.74 L140.52 556.45 L140.83 557.01 L141.14 557.39 L141.44 558.15 L141.74 558.49 L142.05 559.15 L142.36 559.63 L142.67 560.37 L142.99 560.77 L143.32 561.20 L143.66 561.68 L144.00 562.33 L144.36 562.80 L144.73 563.34 L145.11 563.96 L145.51 564.42 L145.92 564.91 L146.35 565.15 L146.80 565.38 L147.26 565.81 L147.71 566.08 L148.17 566.57 L148.63 566.91 L149.09 567.25 L149.56 567.42 L150.04 567.69 L150.54 568.11 L151.04 568.38 L151.57 568.52 L152.11 568.78 L152.68 569.00 L153.27 569.33 L153.89 569.53 L154.54 569.53 L155.22 569.60 L155.93 569.76 L156.68 570.14 L157.47 570.28 L158.30 570.29 L158.78 570.52 L159.28 570.62 L159.82 570.63 L160.38 570.61 L160.97 570.86 L161.58 570.98 L162.21 571.22 L162.86 571.13 L163.53 571.16 L164.21 571.37 L164.91 571.48 L165.61 571.39 L166.32 571.37 L167.05 571.55 L167.77 571.57 L168.50 571.45 L169.23 571.56 L169.96 571.81 L170.68 571.83 L171.40 571.82 L172.11 571.83 L172.82 571.74 L173.51 571.98 L174.19 571.88 L174.85 571.94 L175.50 572.00 L176.12 571.98 L176.73 571.90 L177.31 571.87 L177.87 572.16 L178.40 572.36 L178.90 572.36 L179.37 572.52 L179.81 572.59 L180.21 572.58 L180.57 572.40 L180.90 572.32" fill="none" stroke="#0a0a0a" stroke-width="2.35" stroke-linejoin="round" stroke-linecap="round"/>
<rect x="67.40" y="488.80" width="117.20" height="92.60" fill="none" stroke="#1e1e1e" stroke-width="1.3"/>
<line x1="71.50" y1="578.40" x2="71.50" y2="581.40" stroke="#1e1e1e" stroke-width="1.1"/>
<line x1="89.70" y1="578.40" x2="89.70" y2="581.40" stroke="#1e1e1e" stroke-width="1.1"/>
<line x1="107.90" y1="578.40" x2="107.90" y2="581.40" stroke="#1e1e1e" stroke-width="1.1"/>
<line x1="126.10" y1="578.40" x2="126.10" y2="581.40" stroke="#1e1e1e" stroke-width="1.1"/>
<line x1="144.30" y1="578.40" x2="144.30" y2="581.40" stroke="#1e1e1e" stroke-width="1.1"/>
<line x1="162.50" y1="578.40" x2="162.50" y2="581.40" stroke="#1e1e1e" stroke-width="1.1"/>
<line x1="180.70" y1="578.40" x2="180.70" y2="581.40" stroke="#1e1e1e" stroke-width="1.1"/>
<text x="73.60" y="501.30" font-size="9.20" font-weight="bold" text-anchor="start" fill="#161616" textLength="32.6" lengthAdjust="spacingAndGlyphs" >p&lt;0.001</text>
<line x1="248.85" y1="491.20" x2="248.85" y2="580.90" stroke="#2a2a2a" stroke-width="1.7" stroke-dasharray="3.8 3.4"/>
<path d="M192.10 575.68 L192.42 575.72 L192.77 576.18 L193.14 575.69 L193.55 576.44 L193.98 575.95 L194.43 575.42 L194.92 575.53 L195.42 575.43 L195.95 576.01 L196.50 576.82 L197.06 577.46 L197.65 577.50 L198.25 577.17 L198.87 577.64 L199.51 577.37 L200.16 576.48 L200.82 575.97 L201.49 576.70 L202.18 575.79 L202.87 576.16 L203.57 575.98 L204.28 575.61 L204.99 575.19 L205.71 575.07 L206.44 575.25 L207.16 574.90 L207.89 576.10 L208.62 575.99 L209.34 576.12 L210.07 576.54 L210.79 576.55 L211.50 576.65 L212.21 577.14 L212.92 577.31 L213.61 577.72 L214.30 577.87 L214.97 577.73 L215.64 577.38 L216.29 576.28 L216.93 576.59 L217.55 576.52 L218.16 576.02 L218.75 575.43 L219.32 575.86 L219.87 576.10 L220.40 575.29 L220.91 575.56 L221.40 575.21 L221.86 575.13 L222.30 575.98 L223.32 575.19 L224.26 575.79 L225.13 575.55 L225.93 575.00 L226.67 574.43 L227.36 575.36 L228.00 575.09 L228.60 575.32 L229.15 575.64 L229.68 575.90 L230.18 574.89 L230.66 574.44 L231.13 574.66 L231.59 574.40 L232.05 573.93 L232.51 574.51 L232.98 574.47 L233.46 574.89 L233.97 574.62 L234.50 575.03 L235.18 574.34 L235.86 574.00 L236.53 573.83 L237.19 574.35 L237.84 574.52 L238.48 574.09 L239.12 573.60 L239.74 573.96 L240.35 574.30 L240.94 574.22 L241.53 574.55 L242.09 573.71 L242.65 573.45 L243.18 573.23 L243.70 572.75 L244.20 573.29 L244.94 572.48 L245.60 571.77 L246.19 571.42 L246.75 571.50 L247.27 571.36 L247.80 571.16 L248.33 571.26 L248.90 571.25 L249.52 571.04 L250.20 571.39 L250.72 571.41 L251.25 570.59 L251.79 570.95 L252.34 571.03 L252.90 572.02 L253.48 572.18 L254.07 571.58 L254.67 571.56 L255.30 571.86 L255.94 572.71 L256.60 572.36 L257.27 572.38 L257.98 573.13 L258.70 573.06 L259.20 573.29 L259.66 572.64 L260.10 573.11 L260.52 572.65 L260.93 573.26 L261.34 574.02 L261.75 574.55 L262.18 573.67 L262.62 573.37 L263.09 573.85 L263.59 574.39 L264.13 575.16 L264.72 574.24 L265.37 574.04 L266.07 573.86 L266.85 574.04 L267.70 574.83 L268.64 574.35 L269.67 574.58 L270.80 574.41 L271.22 573.99 L271.66 574.33 L272.13 574.77 L272.61 574.09 L273.12 573.64 L273.64 574.67 L274.19 575.34 L274.75 575.19 L275.33 574.88 L275.93 575.19 L276.54 574.62 L277.16 574.94 L277.80 575.64 L278.45 575.46 L279.11 576.20 L279.79 575.26 L280.47 575.41 L281.16 576.10 L281.86 576.72 L282.57 576.11 L283.28 576.54 L284.00 576.95 L284.72 575.97 L285.45 575.76 L286.18 575.75 L286.91 576.20 L287.64 575.43 L288.38 575.70 L289.11 575.18 L289.84 574.78 L290.56 574.63 L291.29 575.67 L292.00 575.83 L292.72 575.13 L293.42 575.23 L294.12 575.89 L294.82 576.70 L295.50 575.77 L296.17 575.10 L296.83 574.63 L297.48 574.94 L298.12 575.62 L298.75 575.70 L299.36 575.91 L299.95 576.60 L300.53 577.10 L301.09 576.26 L301.64 576.11 L302.16 576.28 L302.67 576.36 L303.15 575.65 L303.62 576.40 L304.06 576.60 L304.48 577.12 L304.87 577.15 L305.24 577.55 L305.58 576.92 L305.90 575.98" fill="none" stroke="#614e9a" stroke-width="2.00" stroke-linejoin="round" stroke-linecap="round"/>
<path d="M192.10 575.81 L192.42 575.09 L192.79 574.80 L193.20 574.99 L193.65 574.41 L194.14 574.98 L194.66 574.34 L195.21 574.13 L195.79 574.74 L196.39 575.40 L197.01 575.21 L197.66 575.97 L198.32 576.39 L199.00 575.72 L199.69 575.14 L200.39 575.69 L201.10 575.87 L201.81 576.34 L202.52 575.39 L203.23 575.42 L203.94 575.19 L204.64 575.15 L205.33 575.44 L206.01 575.56 L206.67 574.88 L207.32 575.43 L207.95 575.51 L208.55 575.69 L209.13 575.57 L209.68 575.56 L210.20 575.98 L210.91 576.00 L211.60 575.48 L212.27 574.66 L212.93 574.05 L213.57 573.40 L214.20 573.42 L214.81 572.73 L215.41 572.80 L215.99 572.27 L216.57 572.85 L217.13 572.55 L217.68 572.94 L218.22 573.24 L218.76 573.38 L219.28 573.59 L219.80 572.95 L220.31 572.71 L220.81 572.35 L221.31 572.49 L221.81 571.72 L222.30 571.46 L222.86 571.33 L223.42 571.00 L223.95 571.05 L224.48 570.11 L224.99 569.19 L225.49 568.30 L225.98 567.79 L226.46 567.63 L226.93 567.08 L227.38 567.24 L227.84 566.26 L228.28 566.47 L228.71 566.40 L229.14 565.62 L229.56 564.79 L229.98 564.27 L230.39 563.26 L230.80 563.62 L231.16 562.55 L231.52 561.66 L231.87 561.39 L232.21 561.19 L232.55 560.31 L232.89 559.24 L233.21 558.13 L233.53 558.09 L233.85 557.99 L234.16 557.09 L234.46 556.45 L234.76 555.78 L235.05 555.46 L235.33 554.81 L235.61 554.06 L235.88 553.58 L236.14 553.63 L236.40 553.55 L236.65 553.68 L236.90 553.49 L237.33 552.38 L237.73 550.94 L238.11 550.36 L238.46 549.43 L238.80 549.64 L239.11 549.22 L239.41 548.19 L239.70 547.82 L239.98 548.04 L240.24 548.04 L240.50 547.62 L241.10 546.70 L241.57 546.17 L242.01 546.12 L242.50 545.28 L242.75 545.28 L243.01 545.08 L243.28 545.36 L243.55 545.96 L243.83 546.83 L244.10 547.58 L244.37 548.67 L244.64 549.52 L244.90 549.69 L245.18 550.34 L245.46 551.89 L245.73 552.70 L246.00 553.94 L246.27 555.33 L246.54 556.24 L246.82 555.95 L247.10 556.18 L247.22 555.07 L247.33 555.14 L247.45 554.45 L247.58 553.77 L247.70 553.38 L247.82 553.57 L247.95 552.97 L248.07 552.70 L248.19 551.56 L248.32 551.46 L248.44 549.96 L248.57 548.69 L248.69 547.59 L248.81 546.49 L248.93 545.55 L249.05 544.95 L249.17 545.02 L249.28 543.78 L249.39 543.55 L249.50 543.16 L249.55 542.84 L249.60 541.51 L249.64 540.92 L249.69 540.94 L249.74 540.72 L249.78 540.32 L249.83 540.14 L249.87 539.38 L249.91 538.85 L249.96 538.24 L250.00 538.13 L250.04 537.34 L250.08 535.73 L250.12 535.62 L250.17 534.60 L250.21 534.08 L250.25 533.34 L250.29 533.09 L250.33 532.05 L250.37 531.45 L250.41 530.58 L250.45 529.87 L250.49 529.07 L250.53 528.72 L250.57 527.77 L250.61 526.52 L250.65 526.17 L250.69 524.87 L250.73 524.79 L250.78 524.72 L250.82 523.71 L250.86 523.05 L250.90 522.32 L250.94 520.95 L250.99 520.93 L251.03 520.48 L251.07 520.44 L251.12 519.87 L251.16 518.79 L251.21 517.89 L251.26 517.11 L251.30 516.66 L251.35 515.79 L251.40 514.91 L251.49 514.65 L251.57 513.51 L251.66 512.47 L251.75 511.30 L251.84 511.20 L251.93 511.00 L252.02 510.10 L252.11 509.41 L252.20 508.60 L252.30 508.55 L252.39 508.35 L252.48 507.98 L252.58 506.42 L252.68 506.32 L252.77 505.79 L252.87 504.55 L252.97 503.94 L253.07 503.54 L253.17 502.90 L253.27 502.84 L253.38 502.46 L253.48 502.48 L253.59 502.77 L253.69 501.83 L253.80 501.08 L254.15 501.16 L254.51 500.23 L254.88 500.76 L255.26 500.98 L255.64 501.83 L256.03 502.51 L256.42 503.79 L256.80 504.85 L256.92 505.25 L257.03 506.39 L257.14 507.33 L257.25 507.90 L257.36 508.29 L257.47 508.52 L257.58 509.21 L257.69 509.82 L257.80 510.83 L257.90 511.20 L258.01 512.32 L258.12 512.66 L258.23 513.28 L258.34 513.04 L258.46 513.62 L258.57 514.27 L258.69 514.23 L258.81 514.48 L258.93 516.07 L259.06 516.41 L259.19 516.76 L259.32 517.90 L259.46 519.00 L259.60 519.65 L259.75 520.86 L259.90 521.72 L260.03 522.35 L260.16 522.30 L260.30 522.95 L260.44 523.81 L260.58 523.78 L260.72 523.64 L260.86 524.43 L261.01 525.42 L261.16 526.75 L261.31 526.76 L261.46 527.31 L261.62 527.97 L261.77 527.99 L261.93 528.58 L262.09 529.01 L262.25 529.60 L262.41 529.76 L262.58 530.00 L262.74 530.73 L262.91 532.29 L263.07 533.10 L263.24 533.80 L263.41 535.00 L263.58 534.86 L263.76 536.26 L263.93 536.77 L264.10 536.78 L264.27 537.43 L264.45 537.95 L264.62 538.76 L264.80 539.04 L265.01 540.40 L265.22 540.36 L265.43 540.38 L265.65 540.98 L265.87 541.88 L266.08 543.06 L266.30 543.87 L266.52 543.65 L266.74 544.82 L266.97 544.62 L267.19 545.03 L267.42 545.15 L267.65 545.88 L267.88 545.97 L268.11 546.42 L268.35 547.85 L268.58 548.28 L268.82 548.29 L269.06 549.59 L269.30 549.72 L269.55 550.53 L269.79 551.29 L270.04 552.30 L270.29 552.52 L270.55 553.19 L270.80 553.05 L271.12 553.16 L271.43 554.17 L271.75 554.28 L272.07 554.97 L272.40 556.53 L272.72 557.05 L273.05 557.31 L273.38 557.89 L273.71 558.96 L274.05 559.57 L274.39 559.47 L274.74 559.56 L275.09 560.34 L275.44 560.59 L275.80 560.60 L276.17 561.43 L276.54 562.35 L276.92 562.69 L277.31 562.57 L277.70 563.33 L278.10 563.20 L278.55 564.00 L279.02 564.22 L279.50 564.53 L279.98 565.41 L280.48 566.70 L280.99 567.05 L281.50 566.74 L282.01 566.99 L282.54 567.61 L283.06 567.74 L283.59 567.56 L284.12 567.86 L284.65 568.28 L285.19 568.42 L285.72 569.49 L286.24 569.45 L286.77 569.98 L287.29 569.89 L287.80 570.91 L288.41 571.32 L289.02 571.37 L289.64 570.79 L290.26 571.57 L290.87 571.42 L291.49 571.11 L292.11 572.17 L292.73 572.96 L293.35 572.56 L293.96 572.35 L294.56 572.03 L295.17 571.96 L295.76 571.90 L296.35 572.64 L296.93 573.43 L297.50 573.66 L298.16 574.29 L298.84 574.34 L299.54 574.64 L300.24 574.64 L300.94 574.00 L301.63 573.92 L302.31 573.96 L302.96 574.10 L303.57 573.52 L304.15 573.16 L304.68 573.75 L305.15 574.05 L305.56 573.92 L305.90 574.14" fill="none" stroke="#a54242" stroke-width="2.10" stroke-linejoin="round" stroke-linecap="round"/>
<path d="M192.10 575.57 L192.42 575.52 L192.79 575.36 L193.19 575.55 L193.63 575.47 L194.11 575.56 L194.61 575.35 L195.15 575.28 L195.71 575.53 L196.30 575.63 L196.91 575.41 L197.54 575.45 L198.19 575.46 L198.86 575.41 L199.54 575.33 L200.23 575.37 L200.93 575.33 L201.64 575.33 L202.36 575.58 L203.08 575.55 L203.80 575.51 L204.51 575.52 L205.23 575.42 L205.94 575.65 L206.64 575.64 L207.32 575.69 L208.00 575.83 L208.66 575.59 L209.31 575.60 L209.94 575.57 L210.54 575.64 L211.12 575.61 L211.68 575.52 L212.20 575.33 L212.70 575.35 L213.50 575.39 L214.27 575.44 L215.00 575.24 L215.70 575.10 L216.38 575.07 L217.03 574.88 L217.66 574.69 L218.27 574.64 L218.86 574.60 L219.43 574.47 L219.99 574.38 L220.54 573.99 L221.08 573.80 L221.61 573.45 L222.14 573.46 L222.67 573.14 L223.20 572.96 L223.73 572.82 L224.26 572.56 L224.80 572.30 L225.37 572.03 L225.94 571.78 L226.50 571.51 L227.06 571.25 L227.62 570.85 L228.17 570.45 L228.71 569.96 L229.24 569.48 L229.77 569.13 L230.29 569.01 L230.80 568.61 L231.30 568.11 L231.79 567.77 L232.27 567.52 L232.74 567.26 L233.20 566.81 L233.65 566.49 L234.08 565.99 L234.50 565.85 L235.14 565.31 L235.74 564.70 L236.31 564.18 L236.86 563.91 L237.38 563.60 L237.88 562.99 L238.35 562.75 L238.81 562.19 L239.25 561.67 L239.68 561.22 L240.09 560.89 L240.50 560.81 L241.26 560.37 L241.95 560.09 L242.58 559.59 L243.15 559.29 L243.69 559.48 L244.20 559.72 L244.49 560.09 L244.76 560.82 L245.00 561.41 L245.23 562.20 L245.45 563.07 L245.67 564.02 L245.88 564.72 L246.11 565.40 L246.35 565.73 L246.60 565.68 L246.75 565.45 L246.91 565.19 L247.07 564.95 L247.23 564.63 L247.40 564.19 L247.57 563.30 L247.74 562.69 L247.91 562.05 L248.08 561.43 L248.25 560.60 L248.42 559.67 L248.59 558.88 L248.75 558.29 L248.91 557.35 L249.07 556.66 L249.22 555.94 L249.36 555.27 L249.50 554.59 L249.67 553.96 L249.82 553.36 L249.97 552.81 L250.11 552.27 L250.25 551.45 L250.38 550.70 L250.51 549.96 L250.63 549.42 L250.76 548.96 L250.88 548.43 L251.00 547.84 L251.13 547.49 L251.26 547.11 L251.40 546.71 L251.72 545.60 L252.03 544.81 L252.34 543.92 L252.66 543.51 L253.01 543.15 L253.40 543.15 L253.71 543.49 L254.02 543.63 L254.34 543.93 L254.68 544.54 L255.03 545.02 L255.42 545.71 L255.84 546.71 L256.30 547.47 L256.50 548.04 L256.71 548.46 L256.93 548.93 L257.14 549.61 L257.36 550.08 L257.59 550.47 L257.82 551.14 L258.06 551.74 L258.30 552.48 L258.55 553.09 L258.81 553.79 L259.07 554.46 L259.33 555.08 L259.61 555.76 L259.89 556.36 L260.18 556.74 L260.48 557.23 L260.79 557.71 L261.10 558.36 L261.41 559.10 L261.72 559.49 L262.04 559.89 L262.36 560.38 L262.69 561.03 L263.03 561.73 L263.37 562.36 L263.72 562.66 L264.08 563.07 L264.44 563.63 L264.81 564.15 L265.19 564.82 L265.57 565.23 L265.95 565.82 L266.35 566.37 L266.75 566.86 L267.15 567.01 L267.56 567.48 L267.98 567.81 L268.40 568.34 L268.85 568.83 L269.27 568.95 L269.67 569.17 L270.05 569.55 L270.42 569.91 L270.79 570.10 L271.16 570.27 L271.55 570.51 L271.97 570.81 L272.42 571.00 L272.90 571.33 L273.44 571.59 L274.03 571.83 L274.68 572.14 L275.41 572.32 L276.21 572.40 L277.11 572.67 L278.10 573.04 L278.52 573.20 L278.97 573.27 L279.45 573.40 L279.96 573.58 L280.49 573.44 L281.04 573.52 L281.61 573.55 L282.21 573.69 L282.82 573.88 L283.45 573.72 L284.10 573.96 L284.76 573.93 L285.44 573.79 L286.12 573.86 L286.82 574.02 L287.53 574.16 L288.24 574.37 L288.96 574.40 L289.69 574.48 L290.42 574.34 L291.15 574.25 L291.88 574.34 L292.61 574.35 L293.33 574.50 L294.06 574.60 L294.78 574.63 L295.49 574.75 L296.19 574.87 L296.89 574.92 L297.57 574.79 L298.24 574.78 L298.90 574.86 L299.55 575.02 L300.17 574.95 L300.78 575.05 L301.37 574.96 L301.94 575.11 L302.49 575.26 L303.01 575.26 L303.51 575.10 L303.98 575.10 L304.43 575.36 L304.84 575.40 L305.23 575.44 L305.58 575.59 L305.90 575.56" fill="none" stroke="#0a0a0a" stroke-width="2.35" stroke-linejoin="round" stroke-linecap="round"/>
<rect x="187.20" y="488.80" width="123.10" height="92.60" fill="none" stroke="#1e1e1e" stroke-width="1.3"/>
<line x1="191.80" y1="578.40" x2="191.80" y2="581.40" stroke="#1e1e1e" stroke-width="1.1"/>
<line x1="210.75" y1="578.40" x2="210.75" y2="581.40" stroke="#1e1e1e" stroke-width="1.1"/>
<line x1="229.70" y1="578.40" x2="229.70" y2="581.40" stroke="#1e1e1e" stroke-width="1.1"/>
<line x1="248.65" y1="578.40" x2="248.65" y2="581.40" stroke="#1e1e1e" stroke-width="1.1"/>
<line x1="267.60" y1="578.40" x2="267.60" y2="581.40" stroke="#1e1e1e" stroke-width="1.1"/>
<line x1="286.55" y1="578.40" x2="286.55" y2="581.40" stroke="#1e1e1e" stroke-width="1.1"/>
<line x1="305.50" y1="578.40" x2="305.50" y2="581.40" stroke="#1e1e1e" stroke-width="1.1"/>
<text x="193.40" y="501.30" font-size="9.20" font-weight="bold" text-anchor="start" fill="#161616" textLength="32.6" lengthAdjust="spacingAndGlyphs" >p&lt;0.001</text>
<line x1="126.30" y1="586.40" x2="126.30" y2="677.50" stroke="#2a2a2a" stroke-width="1.7" stroke-dasharray="3.8 3.4"/>
<path d="M70.60 666.23 L70.94 666.58 L71.36 667.00 L71.83 665.76 L72.36 664.85 L72.94 664.65 L73.57 665.30 L74.22 665.58 L74.91 666.19 L75.61 666.59 L76.33 666.15 L77.05 665.88 L77.77 665.00 L78.49 665.56 L79.19 664.68 L79.86 664.46 L80.51 664.52 L81.12 664.87 L81.69 664.59 L82.20 664.62 L82.92 664.38 L83.57 664.53 L84.15 665.06 L84.68 664.75 L85.18 666.07 L85.66 667.10 L86.14 668.18 L86.63 668.35 L87.16 667.92 L87.74 668.04 L88.38 668.44 L89.10 668.50 L89.60 668.63 L90.12 668.36 L90.66 668.85 L91.22 668.59 L91.80 668.97 L92.39 668.35 L92.99 668.15 L93.61 667.87 L94.24 667.67 L94.87 668.12 L95.51 668.98 L96.16 669.12 L96.80 669.11 L97.45 669.50 L98.09 669.18 L98.73 668.65 L99.36 668.24 L99.99 669.20 L100.60 669.83 L101.21 669.76 L101.81 669.38 L102.40 669.77 L103.00 669.80 L103.59 669.91 L104.18 670.05 L104.77 670.18 L105.36 670.57 L105.96 670.07 L106.56 669.96 L107.16 669.90 L107.76 669.69 L108.37 670.21 L108.99 669.35 L109.61 669.31 L110.24 668.31 L110.89 669.16 L111.54 669.74 L112.20 668.86 L112.76 669.34 L113.34 668.29 L113.93 667.75 L114.53 668.55 L115.14 668.54 L115.76 669.05 L116.39 669.47 L117.02 669.41 L117.65 669.53 L118.29 668.50 L118.93 668.91 L119.57 667.71 L120.20 667.35 L120.83 667.06 L121.45 666.38 L122.07 666.77 L122.67 665.89 L123.27 666.62 L123.85 666.65 L124.41 666.85 L124.96 667.32 L125.49 667.69 L126.00 668.09 L126.74 667.79 L127.44 667.52 L128.10 667.99 L128.72 667.09 L129.32 667.90 L129.90 668.02 L130.46 667.53 L131.01 668.09 L131.57 667.98 L132.13 668.25 L132.69 667.78 L133.28 667.80 L133.89 667.71 L134.53 667.23 L135.20 668.18 L135.75 668.40 L136.32 668.00 L136.90 668.93 L137.49 668.47 L138.08 668.30 L138.69 668.00 L139.30 667.56 L139.92 667.68 L140.54 667.47 L141.17 668.22 L141.80 668.35 L142.43 668.24 L143.06 668.07 L143.69 668.73 L144.32 668.86 L144.95 668.04 L145.57 667.59 L146.19 667.46 L146.80 668.06 L147.41 668.08 L148.01 668.69 L148.62 668.96 L149.23 668.42 L149.83 668.93 L150.44 668.07 L151.04 668.99 L151.64 668.55 L152.25 667.79 L152.85 668.32 L153.46 667.53 L154.06 667.53 L154.66 667.78 L155.27 667.17 L155.87 667.98 L156.48 667.20 L157.09 666.77 L157.69 667.69 L158.30 666.97 L158.91 666.73 L159.52 667.67 L160.13 668.10 L160.75 668.56 L161.36 668.19 L161.98 667.27 L162.59 666.73 L163.21 666.93 L163.82 666.35 L164.44 666.87 L165.05 666.15 L165.67 666.68 L166.28 666.77 L166.89 666.10 L167.50 666.06 L168.10 665.36 L168.70 665.40 L169.30 666.42 L169.90 666.34 L170.54 666.49 L171.21 666.75 L171.90 667.16 L172.60 667.80 L173.31 668.26 L174.02 667.83 L174.73 666.81 L175.43 667.32 L176.12 666.45 L176.80 667.18 L177.45 666.58 L178.07 666.36 L178.66 666.01 L179.21 665.47 L179.71 665.26 L180.16 666.25 L180.56 666.14 L180.90 666.72" fill="none" stroke="#614e9a" stroke-width="2.00" stroke-linejoin="round" stroke-linecap="round"/>
<path d="M70.60 656.56 L70.92 656.09 L71.31 656.97 L71.75 656.92 L72.25 656.95 L72.79 657.28 L73.37 657.75 L73.98 658.25 L74.62 658.75 L75.27 658.37 L75.94 658.94 L76.61 659.23 L77.28 659.12 L77.94 658.50 L78.58 658.61 L79.21 658.63 L79.80 658.68 L80.38 659.20 L80.97 659.00 L81.57 658.94 L82.17 658.69 L82.78 659.61 L83.39 660.37 L83.99 661.20 L84.59 661.26 L85.19 661.05 L85.78 660.85 L86.37 661.54 L86.94 661.26 L87.50 662.08 L88.05 662.65 L88.58 662.61 L89.10 663.15 L89.70 663.35 L90.27 663.18 L90.81 663.43 L91.32 663.41 L91.82 663.31 L92.31 663.43 L92.80 664.28 L93.29 664.22 L93.79 665.02 L94.30 666.05 L94.84 667.09 L95.40 667.06 L96.00 667.90 L96.51 667.54 L97.04 668.31 L97.58 667.77 L98.14 668.34 L98.70 668.26 L99.28 669.04 L99.86 669.52 L100.45 668.97 L101.04 669.33 L101.64 669.45 L102.24 669.40 L102.84 669.51 L103.44 669.52 L104.03 670.06 L104.62 670.38 L105.20 670.88 L105.82 670.94 L106.44 670.32 L107.06 670.80 L107.68 670.62 L108.30 670.66 L108.92 670.42 L109.54 670.82 L110.16 671.38 L110.78 671.08 L111.40 671.04 L112.02 670.89 L112.64 670.85 L113.26 670.55 L113.88 671.22 L114.50 670.81 L115.13 670.53 L115.79 670.94 L116.46 670.95 L117.15 670.70 L117.85 670.70 L118.54 670.61 L119.23 671.23 L119.90 671.25 L120.56 670.81 L121.19 671.06 L121.78 671.26 L122.34 670.90 L122.84 670.57 L123.30 670.89 L123.70 671.29 L124.67 671.47 L125.07 670.60 L125.23 669.89 L125.50 669.69 L125.78 669.41 L126.00 668.90 L126.24 668.08 L126.61 667.00 L127.20 666.11 L127.66 665.95 L128.20 665.27 L128.80 664.66 L129.45 664.61 L130.14 665.44 L130.84 666.23 L131.55 666.07 L132.24 666.60 L132.90 666.26 L133.48 665.47 L134.07 664.72 L134.67 664.69 L135.27 664.37 L135.87 664.20 L136.46 663.59 L137.05 663.59 L137.62 663.53 L138.17 663.06 L138.70 662.55 L139.09 662.10 L139.47 661.43 L139.84 661.23 L140.20 661.20 L140.56 660.40 L140.90 660.87 L141.25 660.01 L141.59 659.72 L141.92 659.53 L142.26 658.28 L142.60 658.05 L142.95 656.72 L143.30 656.41 L143.53 656.01 L143.76 655.94 L143.99 655.47 L144.22 654.45 L144.45 653.79 L144.68 652.67 L144.91 651.93 L145.14 652.27 L145.37 651.84 L145.60 651.97 L145.83 651.64 L146.06 650.15 L146.29 649.78 L146.52 649.55 L146.75 649.19 L146.98 648.62 L147.21 647.34 L147.44 646.27 L147.67 645.82 L147.90 644.84 L148.15 645.05 L148.40 645.00 L148.65 644.31 L148.90 644.24 L149.14 643.98 L149.39 643.24 L149.63 641.74 L149.88 640.84 L150.12 639.87 L150.37 639.19 L150.62 638.39 L150.88 637.49 L151.14 637.50 L151.40 637.19 L151.66 635.94 L151.94 634.87 L152.21 634.58 L152.50 634.31 L152.75 633.79 L153.01 633.75 L153.27 633.46 L153.53 632.81 L153.80 631.87 L154.07 632.09 L154.34 631.74 L154.62 630.68 L154.90 630.22 L155.18 630.05 L155.47 628.68 L155.75 628.55 L156.04 627.71 L156.32 627.47 L156.61 627.45 L156.89 626.07 L157.18 624.80 L157.46 624.54 L157.74 623.49 L158.02 623.88 L158.30 623.09 L158.61 622.31 L158.91 622.19 L159.22 621.33 L159.52 620.38 L159.83 620.01 L160.13 619.39 L160.44 618.82 L160.74 618.70 L161.05 617.58 L161.35 617.36 L161.66 616.36 L161.96 615.27 L162.27 615.28 L162.57 615.56 L162.88 614.91 L163.18 614.03 L163.49 613.02 L163.79 612.75 L164.10 611.98 L164.55 611.90 L165.00 611.15 L165.46 610.59 L165.92 610.29 L166.39 609.88 L166.85 609.08 L167.30 608.77 L167.76 608.46 L168.20 608.73 L168.64 608.37 L169.07 607.74 L169.49 607.55 L169.90 606.65 L170.47 606.07 L171.03 605.76 L171.57 606.29 L172.09 606.28 L172.60 605.65 L173.10 605.10 L173.58 605.20 L174.05 604.67 L174.50 603.77 L174.83 603.22 L175.14 603.22 L175.44 603.15 L175.74 602.81 L176.02 601.28 L176.30 600.20 L176.57 600.19 L176.84 598.98 L177.11 597.99 L177.37 598.22 L177.63 597.79 L177.90 597.59 L178.57 596.36 L179.27 596.07 L179.94 595.67 L180.50 595.37 L180.90 595.83" fill="none" stroke="#a54242" stroke-width="2.10" stroke-linejoin="round" stroke-linecap="round"/>
<path d="M70.60 656.33 L70.93 656.54 L71.31 656.46 L71.73 656.54 L72.19 656.67 L72.70 656.99 L73.24 657.04 L73.81 657.22 L74.41 657.21 L75.04 657.30 L75.68 657.61 L76.35 657.81 L77.03 658.07 L77.72 658.19 L78.42 658.35 L79.12 658.41 L79.83 658.53 L80.53 658.61 L81.23 658.77 L81.91 659.04 L82.59 659.32 L83.25 659.61 L83.89 659.81 L84.50 660.06 L85.10 660.24 L85.70 660.16 L86.30 660.49 L86.90 660.62 L87.50 660.74 L88.10 660.76 L88.70 660.86 L89.30 660.96 L89.90 661.10 L90.50 661.51 L91.10 661.67 L91.70 661.99 L92.30 662.32 L92.90 662.46 L93.50 662.46 L94.10 662.51 L94.70 662.90 L95.30 663.03 L95.90 663.12 L96.50 663.46 L97.10 663.45 L97.70 663.76 L98.30 663.69 L98.91 663.87 L99.52 664.01 L100.14 664.39 L100.77 664.50 L101.40 664.67 L102.04 664.93 L102.67 665.09 L103.31 665.32 L103.95 665.53 L104.59 665.44 L105.22 665.48 L105.85 665.66 L106.48 665.83 L107.10 666.14 L107.71 666.14 L108.31 666.50 L108.91 666.70 L109.49 666.81 L110.06 666.79 L110.62 667.00 L111.16 667.14 L111.69 667.32 L112.20 667.26 L112.96 667.47 L113.70 667.42 L114.41 667.52 L115.11 667.49 L115.79 667.54 L116.44 667.83 L117.07 668.04 L117.68 667.87 L118.28 667.96 L118.85 667.78 L119.40 667.80 L119.93 667.83 L120.44 667.77 L120.93 667.66 L121.40 667.81 L122.21 667.92 L122.94 667.66 L123.58 667.49 L124.16 667.43 L124.67 667.29 L125.15 667.10 L125.59 666.75 L126.00 666.67 L126.54 666.14 L126.78 665.50 L127.11 664.82 L127.90 664.19 L128.32 664.29 L128.81 664.23 L129.35 664.18 L129.94 664.24 L130.57 664.34 L131.23 664.20 L131.91 664.15 L132.59 664.18 L133.27 664.13 L133.94 664.28 L134.58 664.13 L135.20 664.15 L135.79 664.09 L136.39 664.03 L136.97 663.93 L137.56 663.70 L138.14 663.34 L138.72 663.28 L139.31 663.05 L139.89 662.75 L140.46 662.58 L141.04 662.34 L141.62 661.98 L142.20 661.56 L142.69 661.14 L143.17 660.70 L143.64 660.28 L144.11 659.88 L144.58 659.72 L145.04 659.28 L145.51 659.05 L145.99 658.61 L146.47 658.16 L146.96 658.00 L147.47 657.54 L147.99 657.01 L148.54 656.74 L149.10 656.43 L149.58 656.27 L150.08 656.00 L150.59 655.56 L151.11 655.24 L151.64 654.77 L152.18 654.42 L152.72 654.13 L153.28 653.74 L153.84 653.60 L154.40 653.37 L154.96 652.96 L155.52 652.75 L156.09 652.35 L156.65 651.91 L157.20 651.55 L157.76 651.17 L158.30 651.04 L158.84 650.71 L159.40 650.30 L159.95 649.95 L160.51 649.77 L161.07 649.70 L161.64 649.32 L162.20 649.19 L162.76 649.00 L163.32 648.52 L163.87 648.20 L164.42 648.13 L164.96 647.93 L165.49 647.66 L166.01 647.17 L166.52 646.86 L167.02 646.74 L167.50 646.36 L168.11 645.99 L168.70 645.59 L169.28 645.38 L169.84 645.03 L170.38 644.91 L170.91 644.46 L171.44 644.30 L171.95 644.16 L172.46 643.71 L172.97 643.37 L173.48 643.19 L173.99 642.75 L174.50 642.47 L175.07 642.01 L175.68 641.65 L176.29 641.31 L176.91 640.78 L177.53 640.61 L178.14 640.18 L178.72 639.66 L179.26 639.23 L179.76 638.91 L180.21 638.55 L180.59 638.50 L180.90 638.23" fill="none" stroke="#0a0a0a" stroke-width="2.35" stroke-linejoin="round" stroke-linecap="round"/>
<rect x="67.40" y="584.00" width="117.20" height="94.00" fill="none" stroke="#1e1e1e" stroke-width="1.3"/>
<line x1="71.50" y1="675.00" x2="71.50" y2="678.00" stroke="#1e1e1e" stroke-width="1.1"/>
<line x1="89.70" y1="675.00" x2="89.70" y2="678.00" stroke="#1e1e1e" stroke-width="1.1"/>
<line x1="107.90" y1="675.00" x2="107.90" y2="678.00" stroke="#1e1e1e" stroke-width="1.1"/>
<line x1="126.10" y1="675.00" x2="126.10" y2="678.00" stroke="#1e1e1e" stroke-width="1.1"/>
<line x1="144.30" y1="675.00" x2="144.30" y2="678.00" stroke="#1e1e1e" stroke-width="1.1"/>
<line x1="162.50" y1="675.00" x2="162.50" y2="678.00" stroke="#1e1e1e" stroke-width="1.1"/>
<line x1="180.70" y1="675.00" x2="180.70" y2="678.00" stroke="#1e1e1e" stroke-width="1.1"/>
<text x="73.60" y="596.50" font-size="9.20" font-weight="bold" text-anchor="start" fill="#161616" textLength="32.6" lengthAdjust="spacingAndGlyphs" >p&lt;0.001</text>
<line x1="248.85" y1="586.40" x2="248.85" y2="677.50" stroke="#2a2a2a" stroke-width="1.7" stroke-dasharray="3.8 3.4"/>
<path d="M192.10 653.14 L192.36 653.65 L192.66 654.72 L193.00 654.08 L193.38 654.84 L193.79 656.05 L194.23 655.93 L194.70 655.68 L195.19 656.30 L195.69 656.18 L196.22 656.52 L196.75 657.85 L197.29 658.68 L197.84 659.46 L198.38 659.62 L198.93 659.79 L199.46 659.27 L199.99 659.43 L200.50 660.13 L201.04 659.48 L201.58 660.28 L202.13 661.03 L202.69 660.90 L203.26 660.67 L203.83 660.30 L204.40 660.76 L204.98 661.00 L205.56 660.15 L206.14 659.41 L206.72 659.62 L207.31 658.93 L207.89 657.77 L208.47 657.53 L209.05 657.92 L209.63 657.63 L210.20 657.04 L210.81 657.24 L211.41 657.16 L212.02 656.56 L212.62 656.80 L213.23 657.05 L213.84 657.62 L214.44 657.79 L215.05 657.13 L215.66 656.95 L216.26 657.64 L216.87 658.20 L217.47 657.48 L218.08 657.26 L218.69 656.66 L219.29 657.52 L219.90 657.03 L220.51 656.64 L221.13 655.96 L221.75 657.03 L222.38 657.12 L223.01 657.34 L223.64 658.20 L224.27 658.59 L224.90 658.92 L225.52 658.54 L226.14 658.30 L226.75 658.21 L227.34 658.75 L227.93 658.61 L228.50 658.03 L229.06 658.76 L229.60 659.22 L230.25 659.31 L230.88 659.30 L231.50 658.72 L232.11 658.83 L232.70 658.19 L233.27 658.25 L233.84 657.81 L234.38 657.97 L234.92 656.90 L235.44 656.11 L235.94 654.94 L236.43 654.30 L236.90 653.94 L237.32 654.26 L237.72 654.52 L238.09 654.07 L238.45 653.03 L238.79 652.56 L239.13 652.65 L239.45 652.71 L239.77 651.46 L240.08 650.82 L240.39 649.68 L240.71 648.42 L241.03 648.17 L241.36 648.22 L241.70 648.37 L242.01 648.08 L242.32 647.03 L242.63 646.75 L242.95 645.91 L243.27 644.38 L243.59 644.63 L243.91 643.30 L244.22 642.48 L244.54 641.27 L244.85 641.40 L245.16 640.99 L245.46 640.01 L245.76 639.32 L246.05 638.75 L246.33 637.73 L246.60 637.39 L247.26 637.18 L247.85 637.28 L248.40 637.41 L248.95 636.28 L249.54 636.86 L250.20 637.47 L250.64 636.77 L251.10 637.00 L251.58 637.47 L252.07 638.28 L252.57 638.84 L253.08 638.71 L253.60 639.86 L254.11 640.00 L254.61 640.90 L255.10 640.51 L255.78 640.65 L256.44 641.64 L257.10 641.28 L257.76 640.63 L258.44 640.90 L259.15 641.73 L259.90 641.50 L260.36 640.97 L260.83 640.76 L261.31 640.51 L261.80 640.73 L262.29 641.76 L262.80 641.98 L263.31 642.32 L263.84 642.82 L264.37 644.14 L264.90 644.63 L265.45 644.47 L266.00 644.42 L266.47 645.61 L266.95 645.55 L267.42 645.60 L267.90 645.65 L268.39 645.88 L268.88 647.10 L269.38 648.30 L269.88 648.61 L270.40 648.65 L270.93 648.69 L271.47 649.19 L272.03 649.79 L272.61 650.13 L273.20 649.84 L273.71 650.42 L274.23 651.03 L274.76 651.63 L275.31 652.69 L275.87 652.11 L276.44 651.82 L277.02 652.98 L277.60 653.38 L278.19 653.13 L278.78 652.67 L279.38 653.39 L279.97 654.05 L280.56 654.10 L281.16 654.23 L281.74 654.29 L282.33 653.82 L282.90 653.45 L283.51 653.93 L284.13 653.67 L284.75 653.23 L285.38 653.77 L286.01 653.48 L286.64 654.07 L287.27 655.16 L287.90 655.66 L288.52 654.97 L289.14 654.85 L289.75 654.49 L290.34 654.58 L290.93 655.03 L291.50 655.38 L292.06 656.18 L292.60 655.59 L293.30 656.48 L293.97 656.93 L294.62 657.26 L295.26 656.77 L295.88 656.20 L296.48 656.12 L297.07 657.38 L297.65 656.88 L298.22 656.54 L298.79 657.53 L299.34 657.97 L299.90 658.17 L300.52 658.30 L301.15 657.46 L301.79 656.42 L302.43 656.08 L303.05 655.81 L303.65 655.88 L304.21 655.74 L304.73 655.55 L305.19 655.55 L305.58 655.59 L305.90 655.41" fill="none" stroke="#614e9a" stroke-width="2.00" stroke-linejoin="round" stroke-linecap="round"/>
<path d="M192.10 653.79 L192.44 654.25 L192.85 653.52 L193.32 653.13 L193.85 653.08 L194.43 652.56 L195.04 652.06 L195.69 652.65 L196.37 652.48 L197.06 652.97 L197.76 653.63 L198.46 653.42 L199.16 653.76 L199.84 653.00 L200.50 653.65 L201.04 653.14 L201.58 653.84 L202.13 653.92 L202.69 654.72 L203.26 654.98 L203.83 654.94 L204.40 654.45 L204.98 654.03 L205.56 654.90 L206.14 655.27 L206.72 655.07 L207.31 655.08 L207.89 655.67 L208.47 655.98 L209.05 656.33 L209.63 656.67 L210.20 657.42 L210.77 656.79 L211.34 657.62 L211.91 657.97 L212.48 658.75 L213.05 658.20 L213.62 657.63 L214.19 657.65 L214.76 657.56 L215.34 658.09 L215.91 658.14 L216.48 657.82 L217.05 658.02 L217.62 659.23 L218.19 660.21 L218.76 660.58 L219.33 660.37 L219.90 660.03 L220.44 660.89 L220.99 660.55 L221.54 660.60 L222.10 661.17 L222.66 661.07 L223.22 661.51 L223.78 661.33 L224.34 661.71 L224.90 662.71 L225.45 663.65 L226.00 664.37 L226.54 664.74 L227.08 665.55 L227.61 664.89 L228.12 664.56 L228.63 664.50 L229.12 665.33 L229.60 665.97 L230.29 666.18 L230.96 666.05 L231.59 665.95 L232.21 666.73 L232.81 666.83 L233.40 666.32 L233.98 665.66 L234.56 665.27 L235.13 664.93 L235.71 665.20 L236.30 665.25 L236.90 665.87 L237.52 665.37 L238.16 665.45 L238.81 665.22 L239.47 666.12 L240.13 666.58 L240.78 666.59 L241.42 667.23 L242.04 666.67 L242.64 667.08 L243.20 666.55 L243.72 667.30 L244.20 667.21 L244.77 668.08 L245.29 668.66 L245.74 668.72 L246.16 669.99 L246.53 670.34 L246.88 670.91 L247.20 671.63 L247.50 672.40 L247.80 671.52 L247.92 671.03 L248.02 670.23 L248.12 670.67 L248.21 670.39 L248.29 669.03 L248.36 668.20 L248.43 668.31 L248.50 666.90 L248.56 666.44 L248.62 665.76 L248.68 664.69 L248.74 664.65 L248.80 663.36 L248.86 662.14 L248.92 661.15 L248.99 660.94 L249.06 660.07 L249.13 659.31 L249.21 659.50 L249.30 659.26 L249.40 659.19 L249.50 658.07 L249.77 656.56 L250.04 655.31 L250.32 654.89 L250.62 654.33 L250.94 654.10 L251.29 653.82 L251.68 653.89 L252.12 653.38 L252.60 652.70 L253.08 651.89 L253.61 652.35 L254.17 652.77 L254.77 652.18 L255.39 651.36 L256.03 651.20 L256.69 651.02 L257.36 651.13 L258.03 650.35 L258.70 649.80 L259.23 649.39 L259.78 649.52 L260.35 649.00 L260.94 648.90 L261.53 649.03 L262.13 649.61 L262.73 648.67 L263.32 647.93 L263.90 648.32 L264.46 647.97 L265.00 647.78 L265.52 647.56 L266.00 646.81 L266.58 646.00 L267.12 645.59 L267.62 646.22 L268.10 645.63 L268.55 645.02 L268.99 644.44 L269.43 643.87 L269.87 644.37 L270.33 644.44 L270.80 644.11 L271.07 643.16 L271.34 642.30 L271.61 641.83 L271.88 640.77 L272.16 640.60 L272.43 640.34 L272.70 639.62 L272.98 638.90 L273.25 638.46 L273.52 638.37 L273.80 637.72 L274.07 637.67 L274.34 637.42 L274.62 636.42 L274.89 636.30 L275.16 635.82 L275.43 635.25 L275.70 634.03 L275.97 633.19 L276.24 633.32 L276.51 632.76 L276.77 632.03 L277.04 631.17 L277.31 630.91 L277.57 630.04 L277.84 629.92 L278.11 629.65 L278.37 629.10 L278.64 628.54 L278.90 628.57 L279.17 628.49 L279.44 627.26 L279.70 626.26 L279.97 625.67 L280.23 625.50 L280.50 624.16 L280.77 623.69 L281.03 623.21 L281.30 622.71 L281.56 621.80 L281.83 620.63 L282.10 620.64 L282.36 619.42 L282.63 618.38 L282.89 617.72 L283.16 617.34 L283.43 616.84 L283.69 616.61 L283.96 615.98 L284.23 615.16 L284.49 614.75 L284.76 614.73 L285.03 615.13 L285.30 614.52 L285.74 613.90 L286.19 613.18 L286.63 612.80 L287.08 612.13 L287.53 611.53 L287.97 610.39 L288.42 610.53 L288.87 610.84 L289.31 611.16 L289.76 611.07 L290.20 610.62 L290.80 610.67 L291.40 610.04 L292.00 609.95 L292.60 610.14 L293.20 610.33 L293.80 610.44 L294.40 610.95 L295.00 611.39 L295.38 611.27 L295.76 610.61 L296.15 609.90 L296.54 609.99 L296.94 609.72 L297.33 608.87 L297.72 608.02 L298.11 606.95 L298.48 606.62 L298.86 606.03 L299.22 606.22 L299.57 604.88 L299.90 604.29 L300.36 604.15 L300.81 604.21 L301.24 603.73 L301.66 602.93 L302.05 602.66 L302.44 602.37 L302.81 601.57 L303.16 600.89 L303.50 600.53 L304.00 599.89 L304.48 599.73 L304.93 598.82 L305.32 598.09 L305.65 598.22 L305.90 597.42" fill="none" stroke="#a54242" stroke-width="2.10" stroke-linejoin="round" stroke-linecap="round"/>
<path d="M192.10 648.39 L192.43 648.36 L192.83 648.66 L193.27 648.86 L193.77 648.96 L194.30 649.11 L194.88 648.95 L195.49 649.18 L196.13 649.14 L196.79 649.27 L197.48 649.45 L198.17 649.53 L198.87 649.76 L199.58 649.92 L200.29 649.93 L200.99 650.10 L201.68 650.35 L202.35 650.67 L203.00 650.90 L203.55 650.93 L204.11 651.24 L204.67 651.45 L205.23 651.62 L205.80 651.65 L206.37 651.96 L206.94 652.24 L207.52 652.30 L208.10 652.53 L208.68 652.82 L209.27 653.07 L209.85 653.21 L210.44 653.36 L211.02 653.34 L211.61 653.65 L212.19 653.87 L212.78 653.99 L213.36 654.24 L213.94 654.44 L214.52 654.66 L215.10 654.76 L215.70 654.80 L216.31 654.90 L216.91 654.82 L217.52 654.94 L218.12 655.02 L218.73 655.07 L219.33 655.13 L219.94 655.46 L220.54 655.44 L221.15 655.57 L221.75 655.77 L222.36 655.82 L222.97 655.99 L223.57 655.98 L224.17 656.16 L224.78 656.29 L225.38 656.43 L225.99 656.38 L226.59 656.28 L227.20 656.30 L227.81 656.47 L228.43 656.32 L229.06 656.52 L229.69 656.58 L230.33 656.63 L230.97 656.40 L231.61 656.44 L232.25 656.24 L232.88 656.13 L233.52 656.04 L234.15 656.23 L234.77 656.26 L235.38 656.17 L235.99 656.08 L236.58 656.05 L237.16 656.05 L237.72 655.89 L238.26 655.78 L238.79 655.89 L239.30 655.69 L240.06 655.46 L240.80 655.64 L241.51 655.78 L242.21 655.68 L242.88 655.72 L243.53 655.52 L244.14 655.36 L244.73 655.21 L245.28 655.08 L245.79 655.05 L246.27 654.77 L246.71 654.70 L247.10 654.40 L247.41 653.95 L247.66 653.61 L247.85 653.03 L247.99 652.48 L248.10 651.59 L248.17 650.93 L248.24 650.34 L248.29 649.59 L248.35 648.92 L248.42 648.02 L248.51 647.33 L248.63 646.90 L248.79 646.41 L249.00 645.95 L249.44 645.36 L249.94 644.99 L250.48 644.89 L251.06 644.86 L251.69 644.84 L252.36 644.71 L253.06 644.80 L253.80 644.75 L254.32 645.00 L254.87 645.07 L255.45 645.13 L256.05 645.51 L256.66 645.77 L257.29 645.91 L257.93 646.11 L258.57 646.31 L259.22 646.70 L259.85 647.09 L260.48 647.22 L261.10 647.14 L261.71 647.27 L262.32 647.26 L262.93 647.49 L263.53 647.39 L264.14 647.40 L264.75 647.65 L265.36 647.80 L265.97 647.56 L266.57 647.45 L267.18 647.26 L267.79 647.09 L268.40 646.97 L268.92 646.91 L269.42 646.56 L269.92 646.45 L270.42 646.36 L270.91 645.96 L271.41 645.41 L271.91 645.14 L272.41 644.89 L272.92 644.64 L273.45 644.06 L273.98 643.72 L274.54 643.36 L275.11 642.92 L275.70 642.54 L276.18 642.16 L276.67 641.70 L277.17 641.22 L277.68 641.01 L278.20 640.52 L278.73 640.13 L279.26 639.83 L279.80 639.70 L280.35 639.15 L280.90 638.87 L281.45 638.62 L282.01 638.21 L282.56 637.90 L283.12 637.51 L283.67 637.09 L284.22 636.73 L284.76 636.44 L285.30 636.29 L285.87 636.19 L286.43 635.85 L286.99 635.61 L287.55 635.17 L288.11 635.04 L288.67 634.95 L289.23 634.75 L289.79 634.51 L290.35 634.30 L290.92 634.01 L291.48 633.83 L292.06 633.61 L292.63 633.30 L293.22 633.20 L293.80 633.12 L294.40 632.82 L295.00 632.72 L295.56 632.38 L296.15 632.07 L296.77 631.99 L297.41 631.91 L298.06 631.48 L298.73 631.13 L299.39 630.80 L300.06 630.67 L300.73 630.61 L301.38 630.40 L302.02 630.18 L302.63 629.89 L303.22 629.72 L303.78 629.40 L304.30 629.23 L304.78 629.06 L305.21 628.92 L305.58 628.61 L305.90 628.55" fill="none" stroke="#0a0a0a" stroke-width="2.35" stroke-linejoin="round" stroke-linecap="round"/>
<rect x="187.20" y="584.00" width="123.10" height="94.00" fill="none" stroke="#1e1e1e" stroke-width="1.3"/>
<line x1="191.80" y1="675.00" x2="191.80" y2="678.00" stroke="#1e1e1e" stroke-width="1.1"/>
<line x1="210.75" y1="675.00" x2="210.75" y2="678.00" stroke="#1e1e1e" stroke-width="1.1"/>
<line x1="229.70" y1="675.00" x2="229.70" y2="678.00" stroke="#1e1e1e" stroke-width="1.1"/>
<line x1="248.65" y1="675.00" x2="248.65" y2="678.00" stroke="#1e1e1e" stroke-width="1.1"/>
<line x1="267.60" y1="675.00" x2="267.60" y2="678.00" stroke="#1e1e1e" stroke-width="1.1"/>
<line x1="286.55" y1="675.00" x2="286.55" y2="678.00" stroke="#1e1e1e" stroke-width="1.1"/>
<line x1="305.50" y1="675.00" x2="305.50" y2="678.00" stroke="#1e1e1e" stroke-width="1.1"/>
<text x="193.40" y="596.50" font-size="9.20" font-weight="bold" text-anchor="start" fill="#161616" textLength="32.6" lengthAdjust="spacingAndGlyphs" >p&lt;0.001</text>
<line x1="126.30" y1="682.80" x2="126.30" y2="772.40" stroke="#2a2a2a" stroke-width="1.7" stroke-dasharray="3.8 3.4"/>
<path d="M71.80 717.24 L72.16 717.17 L72.60 717.68 L73.12 718.17 L73.70 718.13 L74.34 717.44 L75.01 717.06 L75.72 717.20 L76.43 716.85 L77.15 716.02 L77.86 715.19 L78.54 715.83 L79.20 714.72 L79.80 713.77 L80.43 713.82 L81.07 713.18 L81.71 712.71 L82.35 712.94 L82.98 713.26 L83.60 713.00 L84.20 713.48 L84.79 713.14 L85.34 712.41 L85.86 712.47 L86.35 711.61 L86.80 711.47 L87.69 711.56 L88.37 710.96 L88.92 711.13 L89.44 711.85 L90.00 711.60 L90.30 711.88 L90.60 710.81 L90.89 710.39 L91.17 709.55 L91.46 708.05 L91.74 707.73 L92.02 707.12 L92.31 705.78 L92.60 704.89 L92.90 704.87 L93.49 705.25 L94.06 704.50 L94.66 704.19 L95.29 704.23 L96.00 704.01 L96.58 704.61 L97.22 704.33 L97.90 704.29 L98.59 703.59 L99.26 703.45 L99.87 703.84 L100.40 703.51 L101.09 704.31 L101.61 705.31 L102.09 705.10 L102.70 705.10 L102.88 705.18 L103.08 704.32 L103.27 703.13 L103.48 702.24 L103.69 701.26 L103.90 700.89 L104.12 700.75 L104.34 700.11 L104.57 698.80 L104.80 698.47 L105.03 697.66 L105.26 697.03 L105.50 696.26 L105.73 695.96 L105.97 695.67 L106.20 694.68 L106.76 694.99 L107.37 693.71 L107.99 693.88 L108.61 693.47 L109.20 693.82 L109.74 693.68 L110.20 693.30 L110.95 693.57 L111.45 694.81 L112.00 695.94 L112.25 696.25 L112.51 696.94 L112.76 697.99 L113.03 698.62 L113.31 698.67 L113.59 698.46 L113.89 699.03 L114.20 699.05 L114.42 698.98 L114.65 699.28 L114.90 698.61 L115.15 697.66 L115.41 696.80 L115.67 696.96 L115.93 695.88 L116.18 695.86 L116.43 694.83 L116.67 693.53 L116.89 693.00 L117.10 692.62 L117.83 692.99 L118.44 693.68 L119.00 694.56 L119.14 695.45 L119.27 694.81 L119.38 695.80 L119.49 695.80 L119.59 696.87 L119.70 697.68 L119.81 698.64 L119.93 699.60 L120.07 700.43 L120.22 701.46 L120.40 702.64 L120.50 703.18 L120.60 702.43 L120.71 703.31 L120.83 704.18 L120.95 705.03 L121.08 705.45 L121.20 706.21 L121.34 706.03 L121.47 706.39 L121.61 706.75 L121.74 706.97 L121.88 707.21 L122.02 707.41 L122.16 708.71 L122.30 708.98 L122.43 709.53 L122.57 710.46 L122.70 711.35 L122.83 712.69 L122.96 713.64 L123.08 714.34 L123.20 713.88 L123.38 714.94 L123.55 715.79 L123.72 717.15 L123.88 716.92 L124.04 718.26 L124.19 719.51 L124.35 719.06 L124.51 719.22 L124.66 719.53 L124.82 719.36 L124.98 719.27 L125.15 720.20 L125.32 720.67 L125.50 721.56 L125.71 721.46 L125.93 721.45 L126.15 720.88 L126.37 720.87 L126.60 719.55 L126.83 718.86 L127.06 718.16 L127.30 717.38 L127.54 716.35 L127.79 716.13 L128.04 715.86 L128.30 714.46 L128.46 713.91 L128.62 713.17 L128.79 713.56 L128.96 712.86 L129.13 711.54 L129.30 711.22 L129.48 710.96 L129.65 710.04 L129.83 708.77 L130.01 709.16 L130.19 709.23 L130.37 708.52 L130.55 707.77 L130.74 706.11 L130.92 705.33 L131.10 705.11 L131.27 705.37 L131.45 705.46 L131.63 704.59 L131.80 703.51 L132.11 703.31 L132.42 702.34 L132.73 701.28 L133.04 700.64 L133.35 699.82 L133.65 698.83 L133.96 698.69 L134.27 698.11 L134.58 697.94 L134.89 697.55 L135.20 696.42 L135.62 695.94 L136.01 695.28 L136.40 695.05 L136.80 693.86 L137.21 693.96 L137.66 693.40 L138.15 693.15 L138.70 692.94 L139.18 693.80 L139.70 693.65 L140.24 694.75 L140.80 695.02 L141.39 695.47 L141.99 695.31 L142.61 696.11 L143.23 696.62 L143.87 696.53 L144.50 697.32 L145.04 696.63 L145.59 697.05 L146.15 697.82 L146.72 698.47 L147.30 697.89 L147.88 698.80 L148.47 699.49 L149.06 698.77 L149.65 698.44 L150.24 699.09 L150.82 700.06 L151.40 700.51 L151.97 700.31 L152.55 700.84 L153.12 700.76 L153.70 701.04 L154.28 700.67 L154.85 701.62 L155.43 702.41 L156.00 701.53 L156.58 701.41 L157.15 700.94 L157.73 701.58 L158.30 701.69 L158.87 701.61 L159.45 702.23 L160.02 702.50 L160.60 702.97 L161.17 703.04 L161.74 703.32 L162.32 703.87 L162.89 704.27 L163.47 704.57 L164.04 705.32 L164.62 705.49 L165.20 706.15 L165.74 706.68 L166.30 706.43 L166.86 706.09 L167.43 706.64 L167.99 706.70 L168.56 707.18 L169.12 707.66 L169.68 707.68 L170.22 707.65 L170.75 708.55 L171.25 709.57 L171.74 709.73 L172.20 709.61 L172.67 710.47 L173.12 709.96 L173.55 711.12 L173.96 712.14 L174.35 713.05 L174.72 712.39 L175.09 713.65 L175.44 713.86 L175.79 714.12 L176.13 714.06 L176.47 713.64 L176.80 714.69 L177.61 715.16 L178.41 715.88 L179.14 715.63 L179.76 716.04 L180.20 716.52" fill="none" stroke="#614e9a" stroke-width="2.00" stroke-linejoin="round" stroke-linecap="round"/>
<path d="M71.80 754.17 L72.15 753.71 L72.58 753.05 L73.07 753.04 L73.63 752.86 L74.24 753.59 L74.88 753.05 L75.56 752.85 L76.26 752.52 L76.98 752.28 L77.70 752.98 L78.42 753.79 L79.12 753.69 L79.80 753.62 L80.38 753.45 L80.96 753.93 L81.54 753.43 L82.13 753.63 L82.72 753.34 L83.32 754.18 L83.93 754.52 L84.54 754.91 L85.16 754.64 L85.79 754.48 L86.43 755.27 L87.08 755.35 L87.74 755.48 L88.41 755.08 L89.10 755.76 L89.65 756.27 L90.22 756.69 L90.79 757.03 L91.37 756.51 L91.97 756.94 L92.57 756.82 L93.17 756.69 L93.78 755.91 L94.40 755.52 L95.02 756.12 L95.64 756.99 L96.26 757.37 L96.89 757.67 L97.51 757.88 L98.13 757.20 L98.76 757.46 L99.37 757.31 L99.99 758.07 L100.60 758.35 L101.18 758.24 L101.77 758.29 L102.37 757.82 L102.97 757.68 L103.58 758.17 L104.19 758.05 L104.80 758.22 L105.41 757.81 L106.01 757.97 L106.62 759.04 L107.22 759.62 L107.81 759.97 L108.40 760.32 L108.98 760.65 L109.55 760.95 L110.11 760.45 L110.65 760.43 L111.19 760.36 L111.70 760.40 L112.20 761.02 L112.89 760.65 L113.56 760.59 L114.21 761.58 L114.85 761.76 L115.46 761.68 L116.06 762.03 L116.64 762.10 L117.20 761.73 L117.74 762.57 L118.27 763.56 L118.78 764.10 L119.27 764.26 L119.74 763.97 L120.20 763.69 L120.80 764.21 L121.36 765.04 L121.86 766.01 L122.34 765.56 L122.78 766.32 L123.20 767.39 L123.61 768.14 L124.00 767.59 L124.40 767.32 L124.80 768.28 L125.41 768.39 L125.92 767.97 L126.41 767.46 L126.92 767.07 L127.53 766.23 L128.30 766.79 L128.75 766.65 L129.23 767.08 L129.73 766.42 L130.26 766.60 L130.81 765.99 L131.39 765.97 L131.98 765.31 L132.60 765.02 L133.23 764.49 L133.87 764.79 L134.53 764.54 L135.20 764.83 L135.72 764.25 L136.26 764.05 L136.83 764.55 L137.41 763.85 L138.01 764.11 L138.62 763.12 L139.23 762.42 L139.85 761.53 L140.47 762.12 L141.08 761.65 L141.69 762.15 L142.29 762.00 L142.87 762.10 L143.44 761.31 L143.98 761.80 L144.50 761.50 L145.21 761.54 L145.87 761.70 L146.49 760.81 L147.09 760.71 L147.67 760.62 L148.24 760.85 L148.82 760.53 L149.42 760.83 L150.04 761.26 L150.70 760.63 L151.40 760.36 L151.95 760.52 L152.51 760.68 L153.09 761.29 L153.69 760.99 L154.29 760.58 L154.91 759.93 L155.53 759.88 L156.17 760.51 L156.80 760.96 L157.44 760.89 L158.08 761.72 L158.72 761.40 L159.35 761.59 L159.98 760.99 L160.60 760.80 L161.22 761.42 L161.83 760.91 L162.44 761.15 L163.05 760.88 L163.66 760.87 L164.26 760.63 L164.88 761.12 L165.49 762.29 L166.10 762.88 L166.72 762.68 L167.35 762.77 L167.97 763.28 L168.61 763.42 L169.25 763.15 L169.90 763.00 L170.50 763.70 L171.13 763.64 L171.79 763.58 L172.47 763.54 L173.17 763.72 L173.88 763.39 L174.58 763.06 L175.28 762.61 L175.97 762.36 L176.64 762.33 L177.29 761.79 L177.89 761.20 L178.46 761.01 L178.99 761.20 L179.45 760.74 L179.86 760.23 L180.20 760.42" fill="none" stroke="#a54242" stroke-width="2.10" stroke-linejoin="round" stroke-linecap="round"/>
<path d="M71.80 736.71 L72.15 736.52 L72.58 736.67 L73.07 736.53 L73.63 736.63 L74.24 736.43 L74.88 736.39 L75.56 736.45 L76.26 736.52 L76.98 736.62 L77.70 736.47 L78.42 736.31 L79.12 736.20 L79.80 736.24 L80.38 736.26 L80.96 736.01 L81.54 736.03 L82.13 735.86 L82.72 735.68 L83.32 735.71 L83.93 735.51 L84.54 735.45 L85.16 735.25 L85.79 735.08 L86.43 734.88 L87.08 734.93 L87.74 734.88 L88.41 734.75 L89.10 734.55 L89.63 734.35 L90.18 734.15 L90.74 733.98 L91.31 733.72 L91.90 733.35 L92.50 733.11 L93.10 732.88 L93.70 732.75 L94.31 732.66 L94.92 732.38 L95.53 732.08 L96.14 731.80 L96.74 731.62 L97.33 731.46 L97.91 731.22 L98.48 730.90 L99.04 730.84 L99.58 730.44 L100.10 730.24 L100.60 729.95 L101.29 729.73 L101.95 729.63 L102.58 729.50 L103.20 729.21 L103.79 728.96 L104.37 728.84 L104.94 728.72 L105.49 728.36 L106.04 728.33 L106.57 728.18 L107.10 728.05 L107.64 727.98 L108.17 727.81 L108.70 727.85 L109.38 727.73 L110.04 727.89 L110.70 728.13 L111.34 728.21 L111.98 728.24 L112.61 728.50 L113.22 728.79 L113.83 729.06 L114.43 729.29 L115.02 729.49 L115.60 729.77 L116.02 730.26 L116.44 730.50 L116.86 730.78 L117.27 731.28 L117.68 731.64 L118.08 732.27 L118.48 732.73 L118.87 733.06 L119.26 733.65 L119.63 734.19 L120.00 734.53 L120.37 735.11 L120.72 735.75 L121.06 736.07 L121.40 736.80 L121.72 737.43 L122.03 737.90 L122.33 738.67 L122.62 739.40 L122.90 739.79 L123.17 740.30 L123.43 741.08 L123.69 741.67 L123.95 742.36 L124.20 742.87 L124.46 743.37 L124.71 743.75 L124.97 744.13 L125.23 744.48 L125.50 744.60 L125.90 744.58 L126.28 744.68 L126.65 744.40 L127.03 744.14 L127.40 743.55 L127.78 742.95 L128.18 742.20 L128.59 741.38 L129.03 740.93 L129.50 740.18 L129.83 739.67 L130.16 739.28 L130.51 738.99 L130.86 738.43 L131.23 737.89 L131.60 737.29 L131.97 737.05 L132.35 736.70 L132.74 736.19 L133.14 735.64 L133.54 734.96 L133.95 734.64 L134.36 734.15 L134.78 733.72 L135.20 733.18 L135.66 732.63 L136.14 732.18 L136.64 731.67 L137.14 731.35 L137.66 730.94 L138.18 730.41 L138.70 730.16 L139.22 729.89 L139.74 729.53 L140.26 729.07 L140.76 728.85 L141.26 728.62 L141.74 728.16 L142.20 727.99 L142.88 727.53 L143.51 727.27 L144.11 727.22 L144.69 727.19 L145.27 727.03 L145.87 726.81 L146.50 726.83 L147.17 726.76 L147.90 727.06 L148.40 727.22 L148.92 727.45 L149.46 727.44 L150.01 727.57 L150.57 727.55 L151.15 727.61 L151.73 727.77 L152.33 727.96 L152.93 728.39 L153.54 728.68 L154.15 728.98 L154.76 729.17 L155.38 729.30 L156.00 729.61 L156.51 729.80 L157.03 730.00 L157.56 730.46 L158.09 730.69 L158.62 731.09 L159.16 731.20 L159.70 731.57 L160.25 731.86 L160.80 732.16 L161.35 732.37 L161.90 732.74 L162.45 733.19 L163.01 733.54 L163.56 733.74 L164.11 733.97 L164.65 734.33 L165.20 734.63 L165.79 734.66 L166.38 734.79 L166.99 735.16 L167.60 735.55 L168.22 735.77 L168.84 735.86 L169.46 736.08 L170.07 736.46 L170.68 736.66 L171.27 736.80 L171.86 736.89 L172.43 737.04 L172.98 737.42 L173.51 737.71 L174.02 737.84 L174.50 737.90 L175.32 738.12 L176.12 738.48 L176.88 738.50 L177.59 738.70 L178.26 738.79 L178.86 738.95 L179.39 739.07 L179.84 739.24 L180.20 739.41" fill="none" stroke="#0a0a0a" stroke-width="2.35" stroke-linejoin="round" stroke-linecap="round"/>
<rect x="67.40" y="680.40" width="117.20" height="92.50" fill="none" stroke="#1e1e1e" stroke-width="1.3"/>
<line x1="71.50" y1="769.90" x2="71.50" y2="772.90" stroke="#1e1e1e" stroke-width="1.1"/>
<line x1="89.70" y1="769.90" x2="89.70" y2="772.90" stroke="#1e1e1e" stroke-width="1.1"/>
<line x1="107.90" y1="769.90" x2="107.90" y2="772.90" stroke="#1e1e1e" stroke-width="1.1"/>
<line x1="126.10" y1="769.90" x2="126.10" y2="772.90" stroke="#1e1e1e" stroke-width="1.1"/>
<line x1="144.30" y1="769.90" x2="144.30" y2="772.90" stroke="#1e1e1e" stroke-width="1.1"/>
<line x1="162.50" y1="769.90" x2="162.50" y2="772.90" stroke="#1e1e1e" stroke-width="1.1"/>
<line x1="180.70" y1="769.90" x2="180.70" y2="772.90" stroke="#1e1e1e" stroke-width="1.1"/>
<text x="73.60" y="692.90" font-size="9.20" font-weight="bold" text-anchor="start" fill="#161616" textLength="32.6" lengthAdjust="spacingAndGlyphs" >p&lt;0.001</text>
<line x1="248.85" y1="682.80" x2="248.85" y2="772.40" stroke="#2a2a2a" stroke-width="1.7" stroke-dasharray="3.8 3.4"/>
<path d="M192.10 718.11 L192.44 718.78 L192.87 719.13 L193.36 717.93 L193.92 717.52 L194.53 717.77 L195.17 717.14 L195.84 717.14 L196.54 717.09 L197.24 716.02 L197.94 715.24 L198.62 715.36 L199.28 714.52 L199.91 713.89 L200.50 714.26 L201.10 714.64 L201.68 714.56 L202.26 713.58 L202.83 713.79 L203.39 712.90 L203.94 713.19 L204.49 712.36 L205.04 712.05 L205.59 712.55 L206.14 711.70 L206.69 712.27 L207.24 711.27 L207.80 711.89 L208.32 710.92 L208.84 710.87 L209.37 711.05 L209.89 711.27 L210.41 711.04 L210.93 710.46 L211.46 709.60 L211.98 709.26 L212.50 709.49 L213.02 708.58 L213.54 707.73 L214.06 707.76 L214.58 708.03 L215.10 707.54 L215.66 707.41 L216.22 706.33 L216.79 706.35 L217.36 705.76 L217.93 705.92 L218.49 705.48 L219.06 704.64 L219.62 704.50 L220.17 703.78 L220.72 702.95 L221.25 702.86 L221.78 703.26 L222.30 702.37 L222.77 701.47 L223.24 701.10 L223.70 700.37 L224.16 699.71 L224.61 700.06 L225.05 700.55 L225.49 700.28 L225.93 699.65 L226.36 699.66 L226.78 699.87 L227.19 698.36 L227.60 697.26 L228.00 696.30 L228.40 695.57 L229.00 696.14 L229.59 696.64 L230.17 696.63 L230.73 695.91 L231.28 694.89 L231.81 694.22 L232.32 694.22 L232.82 694.21 L233.30 694.52 L233.89 694.54 L234.44 694.89 L234.97 695.47 L235.47 696.32 L235.96 696.39 L236.43 697.46 L236.90 696.91 L237.30 696.24 L237.69 696.57 L238.06 695.53 L238.43 694.48 L238.78 693.88 L239.13 692.93 L239.47 692.02 L239.80 692.05 L240.00 693.25 L240.19 692.77 L240.37 693.77 L240.55 693.66 L240.72 693.64 L240.90 694.83 L241.07 695.50 L241.24 696.71 L241.42 697.70 L241.60 697.91 L241.79 698.71 L241.99 698.89 L242.20 700.36 L242.33 701.63 L242.46 701.78 L242.60 702.79 L242.74 703.09 L242.89 704.22 L243.04 705.25 L243.19 705.67 L243.34 705.86 L243.49 706.66 L243.65 706.37 L243.80 706.43 L243.95 706.87 L244.11 707.29 L244.26 708.53 L244.41 709.04 L244.56 710.55 L244.71 711.99 L244.86 712.81 L245.00 713.76 L245.14 713.56 L245.27 713.75 L245.40 713.37 L245.61 714.92 L245.81 715.99 L245.99 717.46 L246.17 718.29 L246.35 719.67 L246.52 720.59 L246.69 720.69 L246.86 720.92 L247.04 721.04 L247.21 721.64 L247.40 722.02 L247.59 721.44 L247.80 720.85 L248.03 720.92 L248.26 721.49 L248.50 720.45 L248.74 721.13 L248.99 720.70 L249.24 720.79 L249.49 719.44 L249.76 718.98 L250.03 718.15 L250.31 716.87 L250.60 715.27 L250.90 714.19 L251.08 713.56 L251.26 712.98 L251.45 712.93 L251.64 713.35 L251.84 712.54 L252.04 712.40 L252.24 712.39 L252.45 711.94 L252.65 711.39 L252.86 710.16 L253.07 708.95 L253.28 709.01 L253.49 708.27 L253.70 707.72 L253.91 707.60 L254.12 706.36 L254.32 705.75 L254.52 704.62 L254.72 704.48 L254.91 703.76 L255.10 703.65 L255.40 702.24 L255.69 701.05 L255.97 700.18 L256.25 699.61 L256.53 699.81 L256.80 699.52 L257.07 699.64 L257.34 698.16 L257.61 697.64 L257.88 697.37 L258.15 697.24 L258.42 696.78 L258.70 695.96 L259.19 694.73 L259.66 693.56 L260.11 692.84 L260.58 692.18 L261.09 691.65 L261.65 692.33 L262.30 692.62 L262.80 692.53 L263.34 692.29 L263.91 693.18 L264.50 692.90 L265.12 693.26 L265.75 693.35 L266.40 694.27 L267.06 694.09 L267.73 693.99 L268.40 694.37 L268.92 695.31 L269.46 695.99 L270.00 696.05 L270.56 696.49 L271.12 697.09 L271.69 697.05 L272.27 696.84 L272.84 697.78 L273.42 698.13 L274.00 698.87 L274.57 698.64 L275.14 699.06 L275.70 699.82 L276.30 699.53 L276.90 700.46 L277.50 700.96 L278.10 700.66 L278.70 700.95 L279.30 701.53 L279.90 702.25 L280.50 702.54 L281.10 702.20 L281.70 702.69 L282.30 703.36 L282.90 702.92 L283.42 702.35 L283.94 702.56 L284.46 703.44 L284.98 703.05 L285.50 702.86 L286.02 702.88 L286.54 704.04 L287.07 703.77 L287.59 704.11 L288.11 704.62 L288.63 705.73 L289.16 706.82 L289.68 707.47 L290.20 708.29 L290.77 708.01 L291.35 707.80 L291.94 708.06 L292.53 708.60 L293.12 708.45 L293.71 708.50 L294.30 709.36 L294.87 709.92 L295.44 710.73 L295.99 710.14 L296.51 711.10 L297.02 710.85 L297.50 711.29 L298.03 712.02 L298.54 712.73 L299.02 713.25 L299.48 714.14 L299.92 713.70 L300.34 713.67 L300.75 714.45 L301.15 714.70 L301.53 714.29 L301.92 715.46 L302.30 716.13 L303.15 716.37 L304.00 715.66 L304.78 714.89 L305.43 715.26 L305.90 715.55" fill="none" stroke="#614e9a" stroke-width="2.00" stroke-linejoin="round" stroke-linecap="round"/>
<path d="M192.10 754.73 L192.44 754.61 L192.85 754.23 L193.32 754.54 L193.85 754.94 L194.43 754.93 L195.04 754.92 L195.69 755.32 L196.37 755.48 L197.06 755.18 L197.76 754.68 L198.46 754.05 L199.16 753.49 L199.84 753.08 L200.50 753.36 L201.07 753.73 L201.63 753.96 L202.20 754.73 L202.78 755.30 L203.35 755.98 L203.94 756.52 L204.52 756.56 L205.12 755.65 L205.72 755.90 L206.33 756.59 L206.95 756.03 L207.58 756.48 L208.21 756.76 L208.86 756.10 L209.53 755.74 L210.20 755.89 L210.75 755.86 L211.31 756.42 L211.88 755.84 L212.46 756.30 L213.05 756.34 L213.65 757.27 L214.25 757.37 L214.86 757.81 L215.48 758.21 L216.09 758.22 L216.71 757.68 L217.34 757.07 L217.96 757.49 L218.59 757.73 L219.21 757.39 L219.84 757.68 L220.46 758.03 L221.08 757.61 L221.69 758.08 L222.30 757.71 L222.91 757.32 L223.53 758.44 L224.16 758.34 L224.79 758.05 L225.43 758.84 L226.07 758.36 L226.71 758.24 L227.36 758.20 L227.99 758.93 L228.63 759.47 L229.26 759.13 L229.89 758.79 L230.51 759.77 L231.12 759.45 L231.71 759.80 L232.30 759.44 L232.87 760.01 L233.43 759.93 L233.98 759.69 L234.50 760.90 L235.18 761.18 L235.84 760.91 L236.48 760.90 L237.10 761.73 L237.71 762.22 L238.30 763.23 L238.88 762.84 L239.43 763.81 L239.97 763.93 L240.50 763.90 L241.01 764.01 L241.50 764.80 L241.98 764.38 L242.45 765.38 L242.90 765.82 L243.54 766.35 L244.12 766.79 L244.67 767.12 L245.17 767.46 L245.65 767.77 L246.10 768.62 L246.54 768.65 L246.96 769.47 L247.38 769.88 L247.80 770.36 L248.43 770.61 L248.96 770.55 L249.45 770.04 L249.97 768.79 L250.60 767.87 L251.40 767.14 L251.87 766.91 L252.37 766.34 L252.91 766.15 L253.47 765.44 L254.06 765.67 L254.67 766.18 L255.30 765.47 L255.95 764.88 L256.62 765.02 L257.30 765.71 L258.00 765.27 L258.70 764.66 L259.21 764.62 L259.75 764.85 L260.30 764.14 L260.87 764.44 L261.45 764.13 L262.04 763.36 L262.64 763.13 L263.25 763.21 L263.85 763.37 L264.46 763.62 L265.06 762.80 L265.65 762.92 L266.23 762.24 L266.80 761.88 L267.35 762.06 L267.89 762.26 L268.40 762.35 L269.09 761.65 L269.73 760.71 L270.34 760.79 L270.93 760.09 L271.50 759.44 L272.06 759.22 L272.62 759.09 L273.19 758.81 L273.77 758.54 L274.38 758.62 L275.02 758.04 L275.70 758.19 L276.24 758.77 L276.79 759.18 L277.36 759.89 L277.94 759.81 L278.53 759.32 L279.13 759.99 L279.74 760.71 L280.35 760.77 L280.97 760.19 L281.59 759.73 L282.22 760.79 L282.84 760.78 L283.46 760.52 L284.08 761.34 L284.69 762.15 L285.30 762.18 L285.90 761.86 L286.50 762.35 L287.10 762.95 L287.69 762.13 L288.28 762.39 L288.88 762.01 L289.47 761.44 L290.07 761.70 L290.67 761.33 L291.27 762.35 L291.88 762.60 L292.49 762.31 L293.11 762.62 L293.73 762.40 L294.36 762.95 L295.00 762.54 L295.59 762.48 L296.22 762.65 L296.87 762.92 L297.55 763.41 L298.24 763.25 L298.95 762.97 L299.66 762.94 L300.36 762.21 L301.06 761.61 L301.74 761.37 L302.40 761.23 L303.03 761.77 L303.63 761.17 L304.19 761.18 L304.70 760.69 L305.16 761.36 L305.56 761.02 L305.90 761.74" fill="none" stroke="#a54242" stroke-width="2.10" stroke-linejoin="round" stroke-linecap="round"/>
<path d="M192.10 737.18 L192.44 737.16 L192.85 737.32 L193.32 737.33 L193.85 737.36 L194.43 737.12 L195.04 737.08 L195.69 737.11 L196.37 737.07 L197.06 736.91 L197.76 736.89 L198.46 736.87 L199.16 736.99 L199.84 737.00 L200.50 736.74 L201.07 736.71 L201.63 736.47 L202.20 736.32 L202.78 736.07 L203.35 735.95 L203.94 735.91 L204.52 735.86 L205.12 735.72 L205.72 735.63 L206.33 735.38 L206.95 735.26 L207.58 734.92 L208.21 734.64 L208.86 734.47 L209.53 734.44 L210.20 734.14 L210.73 734.09 L211.27 733.87 L211.82 733.54 L212.39 733.34 L212.97 733.25 L213.55 733.00 L214.14 732.76 L214.74 732.77 L215.34 732.56 L215.95 732.29 L216.55 732.08 L217.16 731.80 L217.76 731.71 L218.36 731.49 L218.95 731.31 L219.53 731.02 L220.11 730.89 L220.68 730.62 L221.23 730.43 L221.77 730.42 L222.30 730.35 L222.98 730.21 L223.65 730.05 L224.32 729.94 L224.98 729.62 L225.63 729.67 L226.27 729.62 L226.90 729.25 L227.53 729.13 L228.13 729.13 L228.73 729.11 L229.32 728.79 L229.88 728.79 L230.44 728.65 L230.98 728.52 L231.50 728.48 L232.00 728.59 L232.76 728.74 L233.45 728.85 L234.09 728.80 L234.70 729.01 L235.27 729.41 L235.83 729.46 L236.38 729.76 L236.94 730.11 L237.51 730.55 L238.10 730.93 L238.51 731.20 L238.93 731.70 L239.36 732.10 L239.79 732.49 L240.23 732.97 L240.66 733.40 L241.09 733.92 L241.52 734.49 L241.94 735.28 L242.35 735.94 L242.75 736.44 L243.14 736.80 L243.51 737.29 L243.87 737.69 L244.20 738.19 L244.59 738.75 L244.94 739.60 L245.28 740.31 L245.59 740.87 L245.88 741.70 L246.16 742.29 L246.43 742.79 L246.69 743.41 L246.96 743.89 L247.23 744.44 L247.51 744.75 L247.80 744.83 L248.22 744.83 L248.61 744.86 L248.99 744.47 L249.37 743.96 L249.78 743.51 L250.24 742.94 L250.77 742.19 L251.40 741.44 L251.71 741.19 L252.05 740.98 L252.40 740.62 L252.77 740.14 L253.16 739.60 L253.56 739.05 L253.97 738.61 L254.39 737.93 L254.82 737.61 L255.25 737.10 L255.69 736.43 L256.13 736.09 L256.57 735.64 L257.01 735.05 L257.44 734.63 L257.87 734.25 L258.29 733.87 L258.70 733.62 L259.22 733.10 L259.75 732.51 L260.29 732.02 L260.82 731.78 L261.36 731.54 L261.90 731.09 L262.43 730.73 L262.96 730.50 L263.49 730.18 L264.01 729.78 L264.52 729.50 L265.03 729.27 L265.52 729.05 L266.00 728.79 L266.64 728.27 L267.24 728.18 L267.82 728.01 L268.37 727.53 L268.93 727.46 L269.48 727.28 L270.06 727.28 L270.66 727.23 L271.30 727.17 L272.00 727.00 L272.53 727.10 L273.07 727.09 L273.63 727.37 L274.21 727.54 L274.80 727.79 L275.40 728.09 L276.02 728.07 L276.64 728.37 L277.27 728.71 L277.91 728.79 L278.55 729.16 L279.20 729.52 L279.85 729.68 L280.50 729.84 L281.04 730.19 L281.59 730.54 L282.14 730.56 L282.70 730.92 L283.27 731.21 L283.83 731.28 L284.41 731.65 L284.99 731.92 L285.56 732.06 L286.15 732.31 L286.73 732.46 L287.31 732.91 L287.89 733.23 L288.47 733.31 L289.05 733.52 L289.63 733.98 L290.20 734.11 L290.78 734.32 L291.36 734.49 L291.96 734.62 L292.56 734.77 L293.17 735.08 L293.77 735.33 L294.38 735.66 L294.98 735.78 L295.58 736.03 L296.17 736.26 L296.75 736.34 L297.32 736.48 L297.87 736.62 L298.41 736.86 L298.93 737.00 L299.43 737.30 L299.90 737.57 L300.68 737.93 L301.43 738.07 L302.16 738.25 L302.85 738.67 L303.51 738.84 L304.11 739.05 L304.66 739.30 L305.14 739.44 L305.56 739.39 L305.90 739.58" fill="none" stroke="#0a0a0a" stroke-width="2.35" stroke-linejoin="round" stroke-linecap="round"/>
<rect x="187.20" y="680.40" width="123.10" height="92.50" fill="none" stroke="#1e1e1e" stroke-width="1.3"/>
<line x1="191.80" y1="769.90" x2="191.80" y2="772.90" stroke="#1e1e1e" stroke-width="1.1"/>
<line x1="210.75" y1="769.90" x2="210.75" y2="772.90" stroke="#1e1e1e" stroke-width="1.1"/>
<line x1="229.70" y1="769.90" x2="229.70" y2="772.90" stroke="#1e1e1e" stroke-width="1.1"/>
<line x1="248.65" y1="769.90" x2="248.65" y2="772.90" stroke="#1e1e1e" stroke-width="1.1"/>
<line x1="267.60" y1="769.90" x2="267.60" y2="772.90" stroke="#1e1e1e" stroke-width="1.1"/>
<line x1="286.55" y1="769.90" x2="286.55" y2="772.90" stroke="#1e1e1e" stroke-width="1.1"/>
<line x1="305.50" y1="769.90" x2="305.50" y2="772.90" stroke="#1e1e1e" stroke-width="1.1"/>
<text x="193.40" y="692.90" font-size="9.20" font-weight="bold" text-anchor="start" fill="#161616" textLength="32.6" lengthAdjust="spacingAndGlyphs" >p&lt;0.001</text>
<rect x="184.1" y="488.2" width="3.6" height="285.3" fill="#777"/>
<rect x="66.8" y="581.0" width="244.2" height="3.6" fill="#7c7c7c"/>
<text x="111.90" y="292.30" font-size="15.00" font-weight="normal" text-anchor="start" fill="#111" textLength="36.6" lengthAdjust="spacingAndGlyphs" stroke="#111" stroke-width="0.45" >Naive</text>
<text x="240.30" y="292.30" font-size="15.00" font-weight="normal" text-anchor="start" fill="#111" textLength="19.5" lengthAdjust="spacingAndGlyphs" stroke="#111" stroke-width="0.45" >GC</text>
<text transform="translate(59.8 346.00) rotate(-90)" x="0" y="0" font-size="15.4" text-anchor="middle" fill="#111" stroke="#111" stroke-width="0.4" textLength="61.1" lengthAdjust="spacingAndGlyphs">H3K4me1</text>
<text transform="translate(59.8 439.50) rotate(-90)" x="0" y="0" font-size="15.4" text-anchor="middle" fill="#111" stroke="#111" stroke-width="0.4" textLength="63.0" lengthAdjust="spacingAndGlyphs">H3K4me3</text>
<text transform="translate(59.8 535.60) rotate(-90)" x="0" y="0" font-size="15.4" text-anchor="middle" fill="#111" stroke="#111" stroke-width="0.4" textLength="34.1" lengthAdjust="spacingAndGlyphs">H3Ac</text>
<text transform="translate(59.8 630.60) rotate(-90)" x="0" y="0" font-size="15.4" text-anchor="middle" fill="#111" stroke="#111" stroke-width="0.4" textLength="72.5" lengthAdjust="spacingAndGlyphs">H3K36me3</text>
<text transform="translate(59.8 729.00) rotate(-90)" x="0" y="0" font-size="15.4" text-anchor="middle" fill="#111" stroke="#111" stroke-width="0.4" textLength="72.0" lengthAdjust="spacingAndGlyphs">H3K27me3</text>
<text x="73.00" y="788.60" font-size="11.20" font-weight="normal" text-anchor="end" fill="#111" stroke="#111" stroke-width="0.35" >-3</text>
<text x="91.20" y="788.60" font-size="11.20" font-weight="normal" text-anchor="end" fill="#111" stroke="#111" stroke-width="0.35" >-2</text>
<text x="109.40" y="788.60" font-size="11.20" font-weight="normal" text-anchor="end" fill="#111" stroke="#111" stroke-width="0.35" >-1</text>
<text x="124.70" y="788.60" font-size="11.20" font-weight="normal" text-anchor="middle" fill="#111" stroke="#111" stroke-width="0.35" >0</text>
<text x="142.90" y="788.60" font-size="11.20" font-weight="normal" text-anchor="middle" fill="#111" stroke="#111" stroke-width="0.35" >1</text>
<text x="161.10" y="788.60" font-size="11.20" font-weight="normal" text-anchor="middle" fill="#111" stroke="#111" stroke-width="0.35" >2</text>
<text x="179.30" y="788.60" font-size="11.20" font-weight="normal" text-anchor="middle" fill="#111" stroke="#111" stroke-width="0.35" >3</text>
<text x="193.30" y="788.60" font-size="11.20" font-weight="normal" text-anchor="end" fill="#111" stroke="#111" stroke-width="0.35" >-3</text>
<text x="212.25" y="788.60" font-size="11.20" font-weight="normal" text-anchor="end" fill="#111" stroke="#111" stroke-width="0.35" >-2</text>
<text x="231.20" y="788.60" font-size="11.20" font-weight="normal" text-anchor="end" fill="#111" stroke="#111" stroke-width="0.35" >-1</text>
<text x="247.25" y="788.60" font-size="11.20" font-weight="normal" text-anchor="middle" fill="#111" stroke="#111" stroke-width="0.35" >0</text>
<text x="266.20" y="788.60" font-size="11.20" font-weight="normal" text-anchor="middle" fill="#111" stroke="#111" stroke-width="0.35" >1</text>
<text x="285.15" y="788.60" font-size="11.20" font-weight="normal" text-anchor="middle" fill="#111" stroke="#111" stroke-width="0.35" >2</text>
<text x="304.10" y="788.60" font-size="11.20" font-weight="normal" text-anchor="middle" fill="#111" stroke="#111" stroke-width="0.35" >3</text>
<text x="93.50" y="808.70" font-size="13.00" font-weight="normal" text-anchor="start" fill="#111" textLength="184.3" lengthAdjust="spacingAndGlyphs" stroke="#111" stroke-width="0.45" >Relative distance from TSS (Kb)</text>
<rect x="329.6" y="319.40" width="4.4" height="4.6" fill="#b44d4b"/>
<text x="341.60" y="325.80" font-size="12.40" font-weight="normal" text-anchor="start" fill="#111" textLength="155.2" lengthAdjust="spacingAndGlyphs" stroke="#111" stroke-width="0.45" >Top 10% expressed genes</text>
<rect x="329.6" y="333.80" width="4.4" height="4.6" fill="#7464ac"/>
<text x="341.60" y="340.20" font-size="12.40" font-weight="normal" text-anchor="start" fill="#111" textLength="179.5" lengthAdjust="spacingAndGlyphs" stroke="#111" stroke-width="0.45" >Bottom 10% expressed genes</text>
<rect x="329.6" y="348.20" width="4.4" height="4.6" fill="#000"/>
<text x="341.60" y="354.60" font-size="12.40" font-weight="normal" text-anchor="start" fill="#111" textLength="55.2" lengthAdjust="spacingAndGlyphs" stroke="#111" stroke-width="0.45" >All genes</text>
</g>
</svg>
</body></html>
